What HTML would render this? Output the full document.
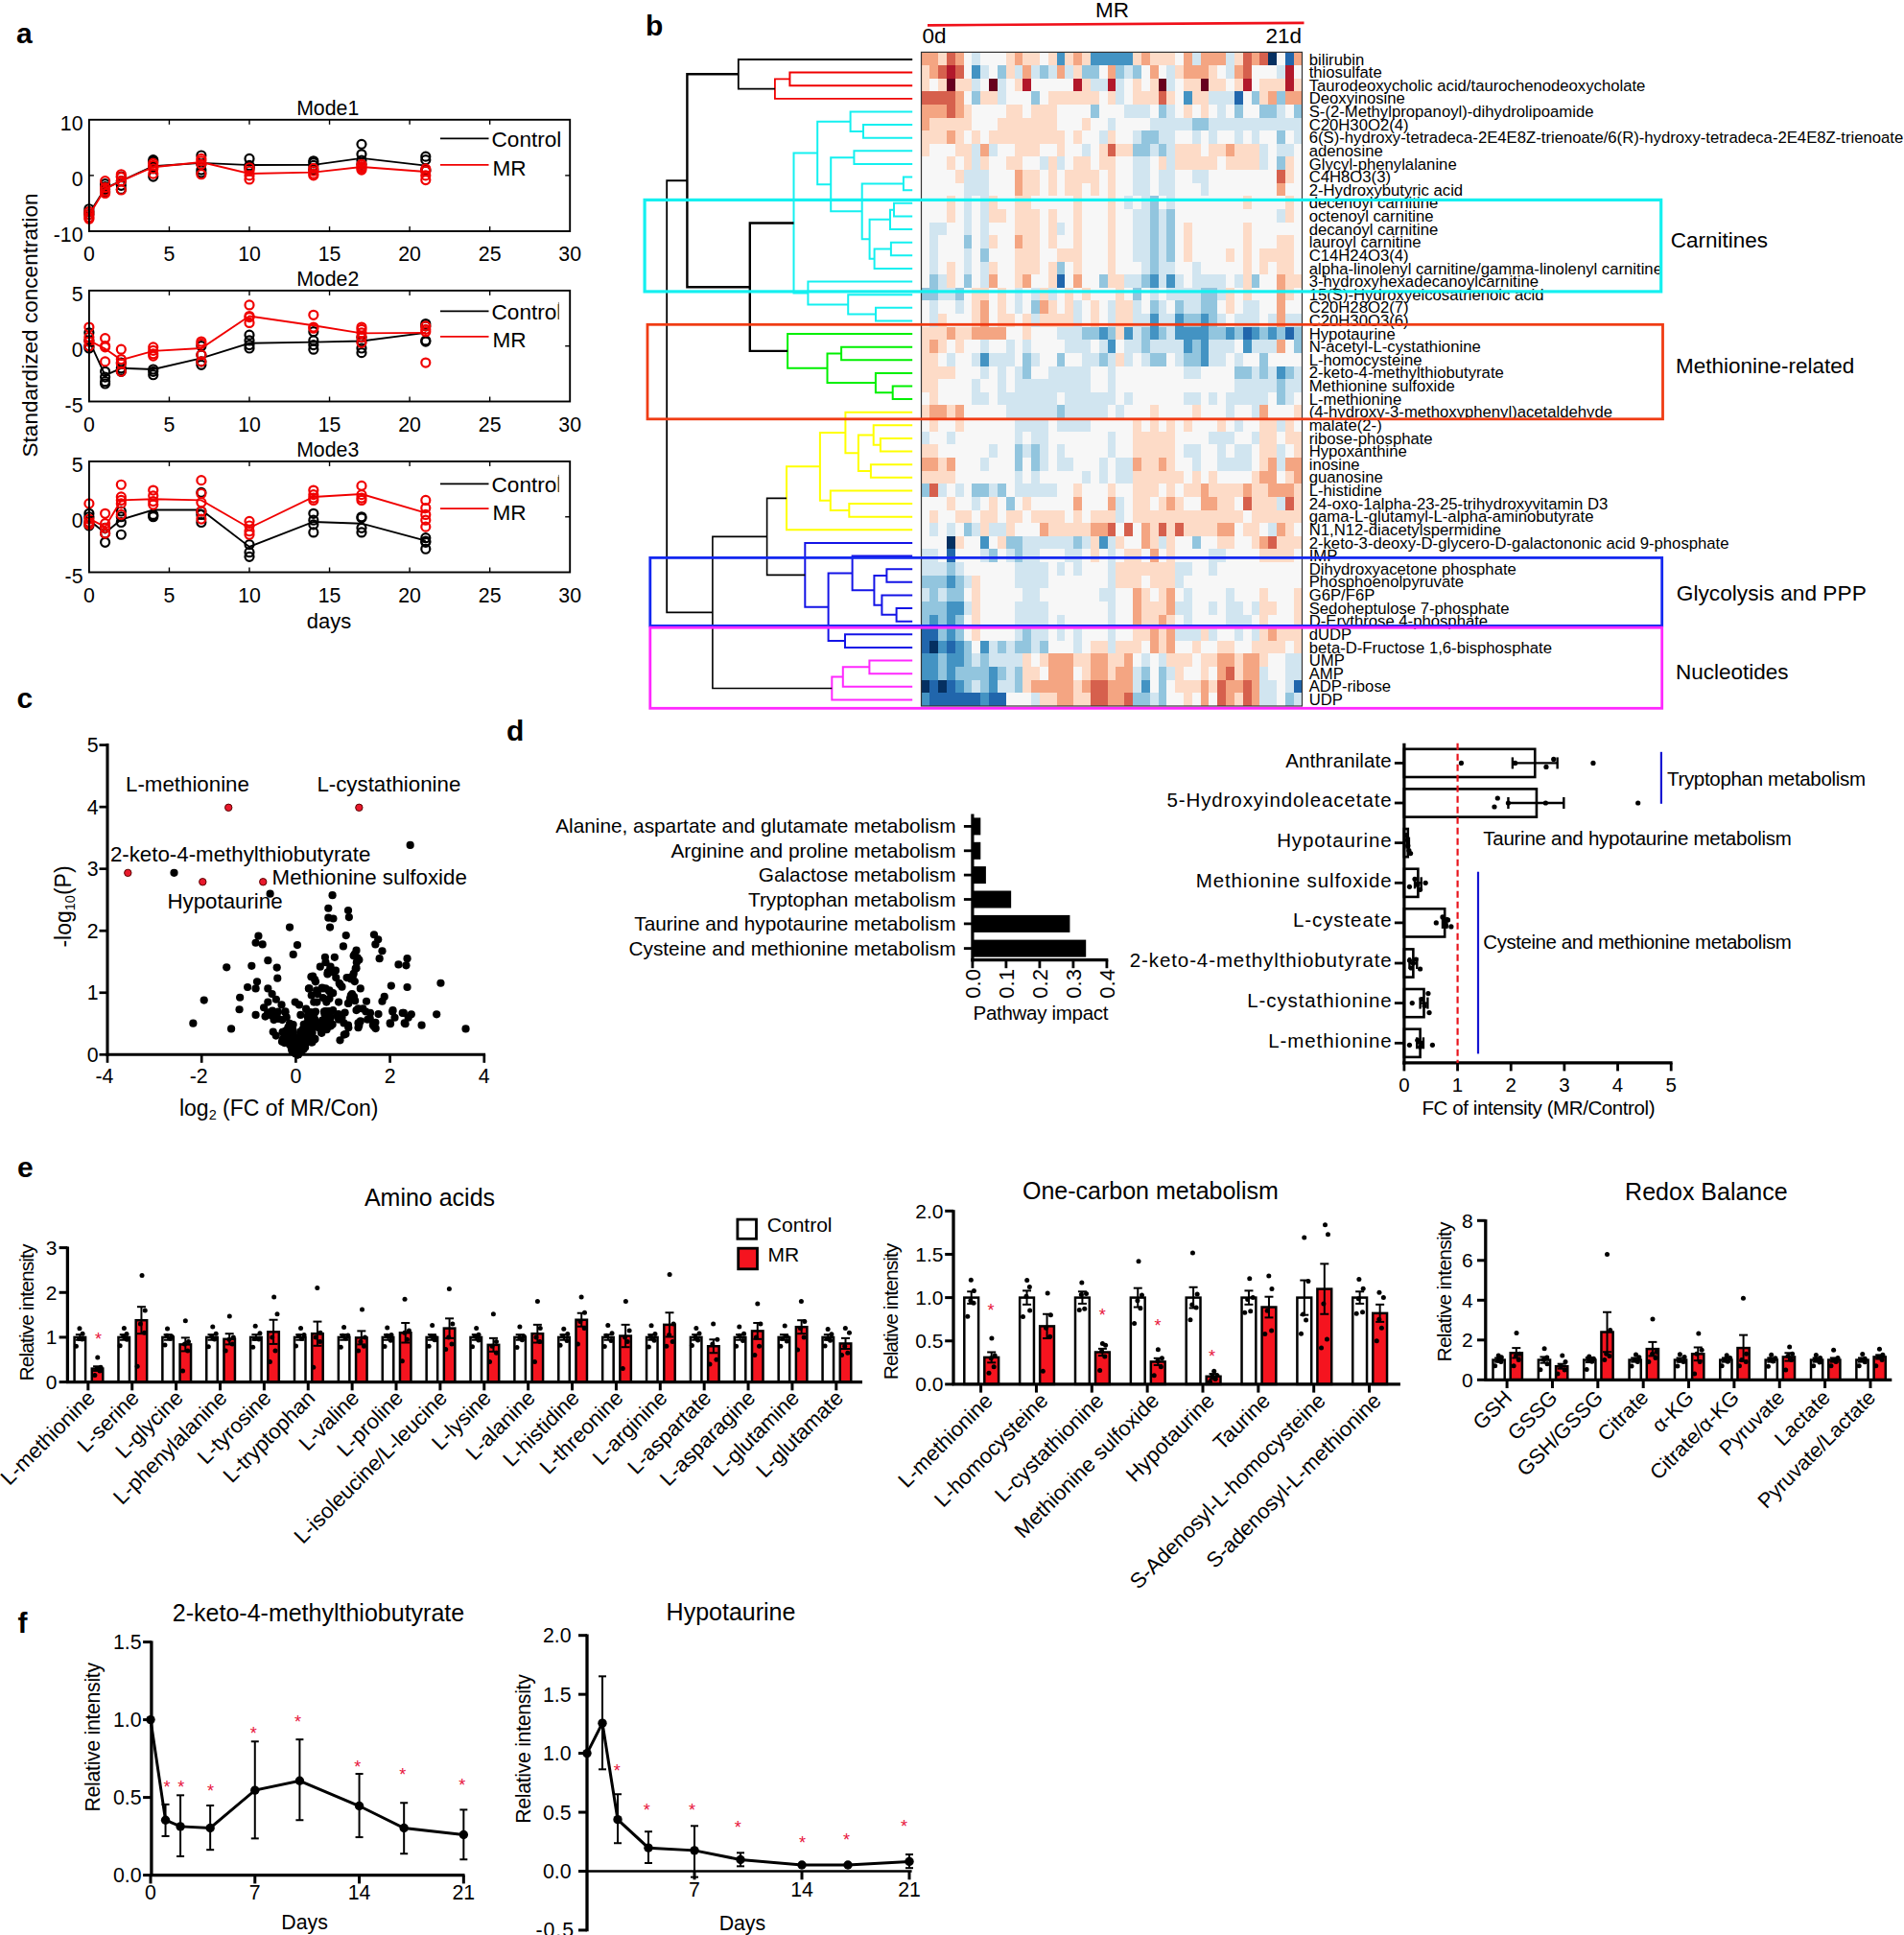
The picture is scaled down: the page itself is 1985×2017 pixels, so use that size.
<!DOCTYPE html>
<html lang="en"><head><meta charset="utf-8"><title>Figure</title>
<style>
html,body{margin:0;padding:0;background:#fff;}
body{width:1985px;height:2017px;overflow:hidden;}
svg{display:block;font-family:"Liberation Sans",Arial,sans-serif;}
</style></head><body>
<svg width="1985" height="2017" viewBox="0 0 1985 2017">
<rect x="0" y="0" width="1985" height="2017" fill="#fff"/>
<text x="17" y="45" font-size="30" text-anchor="start" fill="#000" font-weight="bold" >a</text>
<circle cx="92.9" cy="217.76" r="4.5" fill="none" stroke="#000" stroke-width="2.2"/>
<circle cx="92.9" cy="220.66" r="4.5" fill="none" stroke="#000" stroke-width="2.2"/>
<circle cx="92.9" cy="223.57" r="4.5" fill="none" stroke="#000" stroke-width="2.2"/>
<circle cx="109.61" cy="191.62" r="4.5" fill="none" stroke="#000" stroke-width="2.2"/>
<circle cx="109.61" cy="194.52" r="4.5" fill="none" stroke="#000" stroke-width="2.2"/>
<circle cx="109.61" cy="197.43" r="4.5" fill="none" stroke="#000" stroke-width="2.2"/>
<circle cx="109.61" cy="200.33" r="4.5" fill="none" stroke="#000" stroke-width="2.2"/>
<circle cx="126.32" cy="184.06" r="4.5" fill="none" stroke="#000" stroke-width="2.2"/>
<circle cx="126.32" cy="188.71" r="4.5" fill="none" stroke="#000" stroke-width="2.2"/>
<circle cx="126.32" cy="193.36" r="4.5" fill="none" stroke="#000" stroke-width="2.2"/>
<circle cx="126.32" cy="197.43" r="4.5" fill="none" stroke="#000" stroke-width="2.2"/>
<circle cx="159.74" cy="166.63" r="4.5" fill="none" stroke="#000" stroke-width="2.2"/>
<circle cx="159.74" cy="168.38" r="4.5" fill="none" stroke="#000" stroke-width="2.2"/>
<circle cx="159.74" cy="174.19" r="4.5" fill="none" stroke="#000" stroke-width="2.2"/>
<circle cx="159.74" cy="184.06" r="4.5" fill="none" stroke="#000" stroke-width="2.2"/>
<circle cx="209.87" cy="161.98" r="4.5" fill="none" stroke="#000" stroke-width="2.2"/>
<circle cx="209.87" cy="171.28" r="4.5" fill="none" stroke="#000" stroke-width="2.2"/>
<circle cx="209.87" cy="177.09" r="4.5" fill="none" stroke="#000" stroke-width="2.2"/>
<circle cx="209.87" cy="180" r="4.5" fill="none" stroke="#000" stroke-width="2.2"/>
<circle cx="260" cy="165.47" r="4.5" fill="none" stroke="#000" stroke-width="2.2"/>
<circle cx="260" cy="172.44" r="4.5" fill="none" stroke="#000" stroke-width="2.2"/>
<circle cx="260" cy="174.19" r="4.5" fill="none" stroke="#000" stroke-width="2.2"/>
<circle cx="260" cy="175.93" r="4.5" fill="none" stroke="#000" stroke-width="2.2"/>
<circle cx="326.84" cy="167.79" r="4.5" fill="none" stroke="#000" stroke-width="2.2"/>
<circle cx="326.84" cy="169.54" r="4.5" fill="none" stroke="#000" stroke-width="2.2"/>
<circle cx="326.84" cy="172.44" r="4.5" fill="none" stroke="#000" stroke-width="2.2"/>
<circle cx="326.84" cy="177.09" r="4.5" fill="none" stroke="#000" stroke-width="2.2"/>
<circle cx="376.97" cy="150.36" r="4.5" fill="none" stroke="#000" stroke-width="2.2"/>
<circle cx="376.97" cy="160.82" r="4.5" fill="none" stroke="#000" stroke-width="2.2"/>
<circle cx="376.97" cy="167.21" r="4.5" fill="none" stroke="#000" stroke-width="2.2"/>
<circle cx="376.97" cy="171.28" r="4.5" fill="none" stroke="#000" stroke-width="2.2"/>
<circle cx="443.81" cy="163.15" r="4.5" fill="none" stroke="#000" stroke-width="2.2"/>
<circle cx="443.81" cy="166.63" r="4.5" fill="none" stroke="#000" stroke-width="2.2"/>
<circle cx="443.81" cy="177.09" r="4.5" fill="none" stroke="#000" stroke-width="2.2"/>
<circle cx="443.81" cy="178.25" r="4.5" fill="none" stroke="#000" stroke-width="2.2"/>
<polyline points="92.9,222.64 109.61,196.26 126.32,188.71 159.74,173.2 209.87,169.83 260,172.04 326.84,171.86 376.97,164.89 443.81,172.62" fill="none" stroke="#000" stroke-width="1.9" />
<circle cx="92.9" cy="220.66" r="4.5" fill="none" stroke="#f00000" stroke-width="2.2"/>
<circle cx="92.9" cy="223.57" r="4.5" fill="none" stroke="#f00000" stroke-width="2.2"/>
<circle cx="92.9" cy="226.47" r="4.5" fill="none" stroke="#f00000" stroke-width="2.2"/>
<circle cx="92.9" cy="228.22" r="4.5" fill="none" stroke="#f00000" stroke-width="2.2"/>
<circle cx="109.61" cy="188.71" r="4.5" fill="none" stroke="#f00000" stroke-width="2.2"/>
<circle cx="109.61" cy="195.68" r="4.5" fill="none" stroke="#f00000" stroke-width="2.2"/>
<circle cx="109.61" cy="199.17" r="4.5" fill="none" stroke="#f00000" stroke-width="2.2"/>
<circle cx="109.61" cy="201.49" r="4.5" fill="none" stroke="#f00000" stroke-width="2.2"/>
<circle cx="126.32" cy="181.74" r="4.5" fill="none" stroke="#f00000" stroke-width="2.2"/>
<circle cx="126.32" cy="184.64" r="4.5" fill="none" stroke="#f00000" stroke-width="2.2"/>
<circle cx="126.32" cy="188.71" r="4.5" fill="none" stroke="#f00000" stroke-width="2.2"/>
<circle cx="126.32" cy="198.01" r="4.5" fill="none" stroke="#f00000" stroke-width="2.2"/>
<circle cx="159.74" cy="170.12" r="4.5" fill="none" stroke="#f00000" stroke-width="2.2"/>
<circle cx="159.74" cy="172.44" r="4.5" fill="none" stroke="#f00000" stroke-width="2.2"/>
<circle cx="159.74" cy="175.93" r="4.5" fill="none" stroke="#f00000" stroke-width="2.2"/>
<circle cx="159.74" cy="181.16" r="4.5" fill="none" stroke="#f00000" stroke-width="2.2"/>
<circle cx="209.87" cy="165.47" r="4.5" fill="none" stroke="#f00000" stroke-width="2.2"/>
<circle cx="209.87" cy="167.79" r="4.5" fill="none" stroke="#f00000" stroke-width="2.2"/>
<circle cx="209.87" cy="171.28" r="4.5" fill="none" stroke="#f00000" stroke-width="2.2"/>
<circle cx="209.87" cy="181.74" r="4.5" fill="none" stroke="#f00000" stroke-width="2.2"/>
<circle cx="260" cy="174.77" r="4.5" fill="none" stroke="#f00000" stroke-width="2.2"/>
<circle cx="260" cy="178.25" r="4.5" fill="none" stroke="#f00000" stroke-width="2.2"/>
<circle cx="260" cy="182.9" r="4.5" fill="none" stroke="#f00000" stroke-width="2.2"/>
<circle cx="260" cy="186.97" r="4.5" fill="none" stroke="#f00000" stroke-width="2.2"/>
<circle cx="326.84" cy="175.35" r="4.5" fill="none" stroke="#f00000" stroke-width="2.2"/>
<circle cx="326.84" cy="178.25" r="4.5" fill="none" stroke="#f00000" stroke-width="2.2"/>
<circle cx="326.84" cy="181.16" r="4.5" fill="none" stroke="#f00000" stroke-width="2.2"/>
<circle cx="326.84" cy="182.9" r="4.5" fill="none" stroke="#f00000" stroke-width="2.2"/>
<circle cx="376.97" cy="171.28" r="4.5" fill="none" stroke="#f00000" stroke-width="2.2"/>
<circle cx="376.97" cy="173.6" r="4.5" fill="none" stroke="#f00000" stroke-width="2.2"/>
<circle cx="376.97" cy="175.35" r="4.5" fill="none" stroke="#f00000" stroke-width="2.2"/>
<circle cx="376.97" cy="177.09" r="4.5" fill="none" stroke="#f00000" stroke-width="2.2"/>
<circle cx="443.81" cy="175.93" r="4.5" fill="none" stroke="#f00000" stroke-width="2.2"/>
<circle cx="443.81" cy="178.25" r="4.5" fill="none" stroke="#f00000" stroke-width="2.2"/>
<circle cx="443.81" cy="182.9" r="4.5" fill="none" stroke="#f00000" stroke-width="2.2"/>
<circle cx="443.81" cy="187.55" r="4.5" fill="none" stroke="#f00000" stroke-width="2.2"/>
<polyline points="92.9,224.15 109.61,196.84 126.32,188.71 159.74,174.19 209.87,168.96 260,180.98 326.84,179.59 376.97,174.01 443.81,179.01" fill="none" stroke="#f00000" stroke-width="1.9" />
<rect x="92.9" y="124.8" width="501.3" height="116.2" fill="none" stroke="#000" stroke-width="1.9" />
<line x1="176.45" y1="241" x2="176.45" y2="236" stroke="#000" stroke-width="1.4" />
<line x1="176.45" y1="124.8" x2="176.45" y2="129.8" stroke="#000" stroke-width="1.4" />
<line x1="260" y1="241" x2="260" y2="236" stroke="#000" stroke-width="1.4" />
<line x1="260" y1="124.8" x2="260" y2="129.8" stroke="#000" stroke-width="1.4" />
<line x1="343.55" y1="241" x2="343.55" y2="236" stroke="#000" stroke-width="1.4" />
<line x1="343.55" y1="124.8" x2="343.55" y2="129.8" stroke="#000" stroke-width="1.4" />
<line x1="427.1" y1="241" x2="427.1" y2="236" stroke="#000" stroke-width="1.4" />
<line x1="427.1" y1="124.8" x2="427.1" y2="129.8" stroke="#000" stroke-width="1.4" />
<line x1="510.65" y1="241" x2="510.65" y2="236" stroke="#000" stroke-width="1.4" />
<line x1="510.65" y1="124.8" x2="510.65" y2="129.8" stroke="#000" stroke-width="1.4" />
<line x1="92.9" y1="182.9" x2="97.9" y2="182.9" stroke="#000" stroke-width="1.4" />
<line x1="594.2" y1="182.9" x2="589.2" y2="182.9" stroke="#000" stroke-width="1.4" />
<text x="92.9" y="272.3" font-size="21.3" text-anchor="middle" fill="#000" >0</text>
<text x="176.45" y="272.3" font-size="21.3" text-anchor="middle" fill="#000" >5</text>
<text x="260" y="272.3" font-size="21.3" text-anchor="middle" fill="#000" >10</text>
<text x="343.55" y="272.3" font-size="21.3" text-anchor="middle" fill="#000" >15</text>
<text x="427.1" y="272.3" font-size="21.3" text-anchor="middle" fill="#000" >20</text>
<text x="510.65" y="272.3" font-size="21.3" text-anchor="middle" fill="#000" >25</text>
<text x="594.2" y="272.3" font-size="21.3" text-anchor="middle" fill="#000" >30</text>
<text x="86.5" y="136.1" font-size="21.3" text-anchor="end" fill="#000" >10</text>
<text x="86.5" y="194.2" font-size="21.3" text-anchor="end" fill="#000" >0</text>
<text x="86.5" y="252.3" font-size="21.3" text-anchor="end" fill="#000" >-10</text>
<text x="341.7" y="120" font-size="21.3" text-anchor="middle" fill="#000" >Mode1</text>
<line x1="459" y1="144.4" x2="509.5" y2="144.4" stroke="#000" stroke-width="1.8" />
<text x="512.5" y="152.7" font-size="22.6" text-anchor="start" fill="#000" >Control</text>
<line x1="459" y1="171.8" x2="509.5" y2="171.8" stroke="#f00000" stroke-width="1.8" />
<text x="513.5" y="183.1" font-size="22.6" text-anchor="start" fill="#000" >MR</text>
<circle cx="92.9" cy="346.83" r="4.5" fill="none" stroke="#000" stroke-width="2.2"/>
<circle cx="92.9" cy="354.92" r="4.5" fill="none" stroke="#000" stroke-width="2.2"/>
<circle cx="92.9" cy="360.7" r="4.5" fill="none" stroke="#000" stroke-width="2.2"/>
<circle cx="92.9" cy="363.01" r="4.5" fill="none" stroke="#000" stroke-width="2.2"/>
<circle cx="109.61" cy="387.29" r="4.5" fill="none" stroke="#000" stroke-width="2.2"/>
<circle cx="109.61" cy="393.07" r="4.5" fill="none" stroke="#000" stroke-width="2.2"/>
<circle cx="109.61" cy="397.69" r="4.5" fill="none" stroke="#000" stroke-width="2.2"/>
<circle cx="109.61" cy="400" r="4.5" fill="none" stroke="#000" stroke-width="2.2"/>
<circle cx="126.32" cy="378.04" r="4.5" fill="none" stroke="#000" stroke-width="2.2"/>
<circle cx="126.32" cy="383.82" r="4.5" fill="none" stroke="#000" stroke-width="2.2"/>
<circle cx="126.32" cy="386.13" r="4.5" fill="none" stroke="#000" stroke-width="2.2"/>
<circle cx="126.32" cy="387.29" r="4.5" fill="none" stroke="#000" stroke-width="2.2"/>
<circle cx="159.74" cy="384.98" r="4.5" fill="none" stroke="#000" stroke-width="2.2"/>
<circle cx="159.74" cy="387.29" r="4.5" fill="none" stroke="#000" stroke-width="2.2"/>
<circle cx="159.74" cy="390.76" r="4.5" fill="none" stroke="#000" stroke-width="2.2"/>
<circle cx="209.87" cy="360.7" r="4.5" fill="none" stroke="#000" stroke-width="2.2"/>
<circle cx="209.87" cy="369.95" r="4.5" fill="none" stroke="#000" stroke-width="2.2"/>
<circle cx="209.87" cy="376.88" r="4.5" fill="none" stroke="#000" stroke-width="2.2"/>
<circle cx="209.87" cy="380.35" r="4.5" fill="none" stroke="#000" stroke-width="2.2"/>
<circle cx="260" cy="349.14" r="4.5" fill="none" stroke="#000" stroke-width="2.2"/>
<circle cx="260" cy="354.92" r="4.5" fill="none" stroke="#000" stroke-width="2.2"/>
<circle cx="260" cy="359.54" r="4.5" fill="none" stroke="#000" stroke-width="2.2"/>
<circle cx="260" cy="363.01" r="4.5" fill="none" stroke="#000" stroke-width="2.2"/>
<circle cx="326.84" cy="345.67" r="4.5" fill="none" stroke="#000" stroke-width="2.2"/>
<circle cx="326.84" cy="354.92" r="4.5" fill="none" stroke="#000" stroke-width="2.2"/>
<circle cx="326.84" cy="359.54" r="4.5" fill="none" stroke="#000" stroke-width="2.2"/>
<circle cx="326.84" cy="364.17" r="4.5" fill="none" stroke="#000" stroke-width="2.2"/>
<circle cx="376.97" cy="351.45" r="4.5" fill="none" stroke="#000" stroke-width="2.2"/>
<circle cx="376.97" cy="356.08" r="4.5" fill="none" stroke="#000" stroke-width="2.2"/>
<circle cx="376.97" cy="363.01" r="4.5" fill="none" stroke="#000" stroke-width="2.2"/>
<circle cx="376.97" cy="367.64" r="4.5" fill="none" stroke="#000" stroke-width="2.2"/>
<circle cx="443.81" cy="337.58" r="4.5" fill="none" stroke="#000" stroke-width="2.2"/>
<circle cx="443.81" cy="339.89" r="4.5" fill="none" stroke="#000" stroke-width="2.2"/>
<circle cx="443.81" cy="354.92" r="4.5" fill="none" stroke="#000" stroke-width="2.2"/>
<circle cx="443.81" cy="356.08" r="4.5" fill="none" stroke="#000" stroke-width="2.2"/>
<polyline points="92.9,354.92 109.61,391.33 126.32,383.82 159.74,384.98 209.87,373.42 260,357.81 326.84,356.65 376.97,355.5 443.81,346.83" fill="none" stroke="#000" stroke-width="1.9" />
<circle cx="92.9" cy="341.05" r="4.5" fill="none" stroke="#f00000" stroke-width="2.2"/>
<circle cx="92.9" cy="351.45" r="4.5" fill="none" stroke="#f00000" stroke-width="2.2"/>
<circle cx="92.9" cy="356.08" r="4.5" fill="none" stroke="#f00000" stroke-width="2.2"/>
<circle cx="92.9" cy="360.7" r="4.5" fill="none" stroke="#f00000" stroke-width="2.2"/>
<circle cx="109.61" cy="352.61" r="4.5" fill="none" stroke="#f00000" stroke-width="2.2"/>
<circle cx="109.61" cy="360.7" r="4.5" fill="none" stroke="#f00000" stroke-width="2.2"/>
<circle cx="109.61" cy="361.86" r="4.5" fill="none" stroke="#f00000" stroke-width="2.2"/>
<circle cx="109.61" cy="376.88" r="4.5" fill="none" stroke="#f00000" stroke-width="2.2"/>
<circle cx="126.32" cy="364.17" r="4.5" fill="none" stroke="#f00000" stroke-width="2.2"/>
<circle cx="126.32" cy="374.57" r="4.5" fill="none" stroke="#f00000" stroke-width="2.2"/>
<circle cx="126.32" cy="379.2" r="4.5" fill="none" stroke="#f00000" stroke-width="2.2"/>
<circle cx="126.32" cy="387.29" r="4.5" fill="none" stroke="#f00000" stroke-width="2.2"/>
<circle cx="159.74" cy="361.86" r="4.5" fill="none" stroke="#f00000" stroke-width="2.2"/>
<circle cx="159.74" cy="365.32" r="4.5" fill="none" stroke="#f00000" stroke-width="2.2"/>
<circle cx="159.74" cy="368.79" r="4.5" fill="none" stroke="#f00000" stroke-width="2.2"/>
<circle cx="159.74" cy="371.1" r="4.5" fill="none" stroke="#f00000" stroke-width="2.2"/>
<circle cx="209.87" cy="356.08" r="4.5" fill="none" stroke="#f00000" stroke-width="2.2"/>
<circle cx="209.87" cy="358.39" r="4.5" fill="none" stroke="#f00000" stroke-width="2.2"/>
<circle cx="209.87" cy="369.95" r="4.5" fill="none" stroke="#f00000" stroke-width="2.2"/>
<circle cx="209.87" cy="376.88" r="4.5" fill="none" stroke="#f00000" stroke-width="2.2"/>
<circle cx="260" cy="317.93" r="4.5" fill="none" stroke="#f00000" stroke-width="2.2"/>
<circle cx="260" cy="329.49" r="4.5" fill="none" stroke="#f00000" stroke-width="2.2"/>
<circle cx="260" cy="330.64" r="4.5" fill="none" stroke="#f00000" stroke-width="2.2"/>
<circle cx="260" cy="336.42" r="4.5" fill="none" stroke="#f00000" stroke-width="2.2"/>
<circle cx="326.84" cy="328.33" r="4.5" fill="none" stroke="#f00000" stroke-width="2.2"/>
<circle cx="326.84" cy="341.05" r="4.5" fill="none" stroke="#f00000" stroke-width="2.2"/>
<circle cx="326.84" cy="342.2" r="4.5" fill="none" stroke="#f00000" stroke-width="2.2"/>
<circle cx="376.97" cy="341.05" r="4.5" fill="none" stroke="#f00000" stroke-width="2.2"/>
<circle cx="376.97" cy="343.36" r="4.5" fill="none" stroke="#f00000" stroke-width="2.2"/>
<circle cx="376.97" cy="346.83" r="4.5" fill="none" stroke="#f00000" stroke-width="2.2"/>
<circle cx="376.97" cy="351.45" r="4.5" fill="none" stroke="#f00000" stroke-width="2.2"/>
<circle cx="376.97" cy="357.23" r="4.5" fill="none" stroke="#f00000" stroke-width="2.2"/>
<circle cx="443.81" cy="339.89" r="4.5" fill="none" stroke="#f00000" stroke-width="2.2"/>
<circle cx="443.81" cy="343.36" r="4.5" fill="none" stroke="#f00000" stroke-width="2.2"/>
<circle cx="443.81" cy="345.67" r="4.5" fill="none" stroke="#f00000" stroke-width="2.2"/>
<circle cx="443.81" cy="378.04" r="4.5" fill="none" stroke="#f00000" stroke-width="2.2"/>
<polyline points="92.9,354.92 109.61,363.59 126.32,375.15 159.74,365.9 209.87,363.01 260,329.49 326.84,339.31 376.97,347.41 443.81,346.83" fill="none" stroke="#f00000" stroke-width="1.9" />
<rect x="92.9" y="302.9" width="501.3" height="115.6" fill="none" stroke="#000" stroke-width="1.9" />
<line x1="176.45" y1="418.5" x2="176.45" y2="413.5" stroke="#000" stroke-width="1.4" />
<line x1="176.45" y1="302.9" x2="176.45" y2="307.9" stroke="#000" stroke-width="1.4" />
<line x1="260" y1="418.5" x2="260" y2="413.5" stroke="#000" stroke-width="1.4" />
<line x1="260" y1="302.9" x2="260" y2="307.9" stroke="#000" stroke-width="1.4" />
<line x1="343.55" y1="418.5" x2="343.55" y2="413.5" stroke="#000" stroke-width="1.4" />
<line x1="343.55" y1="302.9" x2="343.55" y2="307.9" stroke="#000" stroke-width="1.4" />
<line x1="427.1" y1="418.5" x2="427.1" y2="413.5" stroke="#000" stroke-width="1.4" />
<line x1="427.1" y1="302.9" x2="427.1" y2="307.9" stroke="#000" stroke-width="1.4" />
<line x1="510.65" y1="418.5" x2="510.65" y2="413.5" stroke="#000" stroke-width="1.4" />
<line x1="510.65" y1="302.9" x2="510.65" y2="307.9" stroke="#000" stroke-width="1.4" />
<line x1="92.9" y1="360.7" x2="97.9" y2="360.7" stroke="#000" stroke-width="1.4" />
<line x1="594.2" y1="360.7" x2="589.2" y2="360.7" stroke="#000" stroke-width="1.4" />
<text x="92.9" y="449.8" font-size="21.3" text-anchor="middle" fill="#000" >0</text>
<text x="176.45" y="449.8" font-size="21.3" text-anchor="middle" fill="#000" >5</text>
<text x="260" y="449.8" font-size="21.3" text-anchor="middle" fill="#000" >10</text>
<text x="343.55" y="449.8" font-size="21.3" text-anchor="middle" fill="#000" >15</text>
<text x="427.1" y="449.8" font-size="21.3" text-anchor="middle" fill="#000" >20</text>
<text x="510.65" y="449.8" font-size="21.3" text-anchor="middle" fill="#000" >25</text>
<text x="594.2" y="449.8" font-size="21.3" text-anchor="middle" fill="#000" >30</text>
<text x="86.5" y="314.2" font-size="21.3" text-anchor="end" fill="#000" >5</text>
<text x="86.5" y="372" font-size="21.3" text-anchor="end" fill="#000" >0</text>
<text x="86.5" y="429.8" font-size="21.3" text-anchor="end" fill="#000" >-5</text>
<text x="341.7" y="298.1" font-size="21.3" text-anchor="middle" fill="#000" >Mode2</text>
<line x1="459" y1="324.4" x2="509.5" y2="324.4" stroke="#000" stroke-width="1.8" />
<text x="512.5" y="332.7" font-size="22.6" text-anchor="start" fill="#000" >Control</text>
<line x1="459" y1="350.8" x2="509.5" y2="350.8" stroke="#f00000" stroke-width="1.8" />
<text x="513.5" y="362.1" font-size="22.6" text-anchor="start" fill="#000" >MR</text>
<rect x="582.9" y="312.4" width="8" height="24" fill="#fff" stroke="none" stroke-width="1" />
<line x1="582.4" y1="314.9" x2="582.4" y2="332.9" stroke="#666" stroke-width="0.8" />
<circle cx="92.9" cy="535.28" r="4.5" fill="none" stroke="#000" stroke-width="2.2"/>
<circle cx="92.9" cy="538.75" r="4.5" fill="none" stroke="#000" stroke-width="2.2"/>
<circle cx="92.9" cy="544.52" r="4.5" fill="none" stroke="#000" stroke-width="2.2"/>
<circle cx="92.9" cy="547.99" r="4.5" fill="none" stroke="#000" stroke-width="2.2"/>
<circle cx="109.61" cy="550.3" r="4.5" fill="none" stroke="#000" stroke-width="2.2"/>
<circle cx="109.61" cy="556.08" r="4.5" fill="none" stroke="#000" stroke-width="2.2"/>
<circle cx="109.61" cy="565.32" r="4.5" fill="none" stroke="#000" stroke-width="2.2"/>
<circle cx="126.32" cy="532.98" r="4.5" fill="none" stroke="#000" stroke-width="2.2"/>
<circle cx="126.32" cy="538.75" r="4.5" fill="none" stroke="#000" stroke-width="2.2"/>
<circle cx="126.32" cy="544.52" r="4.5" fill="none" stroke="#000" stroke-width="2.2"/>
<circle cx="126.32" cy="557.23" r="4.5" fill="none" stroke="#000" stroke-width="2.2"/>
<circle cx="159.74" cy="536.44" r="4.5" fill="none" stroke="#000" stroke-width="2.2"/>
<circle cx="159.74" cy="538.75" r="4.5" fill="none" stroke="#000" stroke-width="2.2"/>
<circle cx="159.74" cy="537.6" r="4.5" fill="none" stroke="#000" stroke-width="2.2"/>
<circle cx="209.87" cy="513.34" r="4.5" fill="none" stroke="#000" stroke-width="2.2"/>
<circle cx="209.87" cy="532.98" r="4.5" fill="none" stroke="#000" stroke-width="2.2"/>
<circle cx="209.87" cy="536.44" r="4.5" fill="none" stroke="#000" stroke-width="2.2"/>
<circle cx="209.87" cy="544.52" r="4.5" fill="none" stroke="#000" stroke-width="2.2"/>
<circle cx="260" cy="567.62" r="4.5" fill="none" stroke="#000" stroke-width="2.2"/>
<circle cx="260" cy="575.71" r="4.5" fill="none" stroke="#000" stroke-width="2.2"/>
<circle cx="260" cy="580.33" r="4.5" fill="none" stroke="#000" stroke-width="2.2"/>
<circle cx="326.84" cy="535.28" r="4.5" fill="none" stroke="#000" stroke-width="2.2"/>
<circle cx="326.84" cy="542.22" r="4.5" fill="none" stroke="#000" stroke-width="2.2"/>
<circle cx="326.84" cy="546.84" r="4.5" fill="none" stroke="#000" stroke-width="2.2"/>
<circle cx="326.84" cy="554.92" r="4.5" fill="none" stroke="#000" stroke-width="2.2"/>
<circle cx="376.97" cy="538.75" r="4.5" fill="none" stroke="#000" stroke-width="2.2"/>
<circle cx="376.97" cy="539.9" r="4.5" fill="none" stroke="#000" stroke-width="2.2"/>
<circle cx="376.97" cy="550.3" r="4.5" fill="none" stroke="#000" stroke-width="2.2"/>
<circle cx="376.97" cy="554.92" r="4.5" fill="none" stroke="#000" stroke-width="2.2"/>
<circle cx="443.81" cy="560.7" r="4.5" fill="none" stroke="#000" stroke-width="2.2"/>
<circle cx="443.81" cy="564.16" r="4.5" fill="none" stroke="#000" stroke-width="2.2"/>
<circle cx="443.81" cy="565.32" r="4.5" fill="none" stroke="#000" stroke-width="2.2"/>
<circle cx="443.81" cy="572.25" r="4.5" fill="none" stroke="#000" stroke-width="2.2"/>
<polyline points="92.9,542.22 109.61,555.5 126.32,541.64 159.74,531.47 209.87,531.47 260,569.93 326.84,543.95 376.97,545.68 443.81,563.58" fill="none" stroke="#000" stroke-width="1.9" />
<circle cx="92.9" cy="524.89" r="4.5" fill="none" stroke="#f00000" stroke-width="2.2"/>
<circle cx="92.9" cy="541.06" r="4.5" fill="none" stroke="#f00000" stroke-width="2.2"/>
<circle cx="92.9" cy="544.52" r="4.5" fill="none" stroke="#f00000" stroke-width="2.2"/>
<circle cx="92.9" cy="546.84" r="4.5" fill="none" stroke="#f00000" stroke-width="2.2"/>
<circle cx="109.61" cy="535.28" r="4.5" fill="none" stroke="#f00000" stroke-width="2.2"/>
<circle cx="109.61" cy="545.68" r="4.5" fill="none" stroke="#f00000" stroke-width="2.2"/>
<circle cx="109.61" cy="550.3" r="4.5" fill="none" stroke="#f00000" stroke-width="2.2"/>
<circle cx="109.61" cy="556.08" r="4.5" fill="none" stroke="#f00000" stroke-width="2.2"/>
<circle cx="126.32" cy="505.25" r="4.5" fill="none" stroke="#f00000" stroke-width="2.2"/>
<circle cx="126.32" cy="517.96" r="4.5" fill="none" stroke="#f00000" stroke-width="2.2"/>
<circle cx="126.32" cy="521.42" r="4.5" fill="none" stroke="#f00000" stroke-width="2.2"/>
<circle cx="126.32" cy="524.89" r="4.5" fill="none" stroke="#f00000" stroke-width="2.2"/>
<circle cx="126.32" cy="536.44" r="4.5" fill="none" stroke="#f00000" stroke-width="2.2"/>
<circle cx="159.74" cy="511.03" r="4.5" fill="none" stroke="#f00000" stroke-width="2.2"/>
<circle cx="159.74" cy="516.8" r="4.5" fill="none" stroke="#f00000" stroke-width="2.2"/>
<circle cx="159.74" cy="522.58" r="4.5" fill="none" stroke="#f00000" stroke-width="2.2"/>
<circle cx="159.74" cy="526.04" r="4.5" fill="none" stroke="#f00000" stroke-width="2.2"/>
<circle cx="209.87" cy="500.63" r="4.5" fill="none" stroke="#f00000" stroke-width="2.2"/>
<circle cx="209.87" cy="514.5" r="4.5" fill="none" stroke="#f00000" stroke-width="2.2"/>
<circle cx="209.87" cy="523.74" r="4.5" fill="none" stroke="#f00000" stroke-width="2.2"/>
<circle cx="209.87" cy="532.98" r="4.5" fill="none" stroke="#f00000" stroke-width="2.2"/>
<circle cx="209.87" cy="541.06" r="4.5" fill="none" stroke="#f00000" stroke-width="2.2"/>
<circle cx="260" cy="543.37" r="4.5" fill="none" stroke="#f00000" stroke-width="2.2"/>
<circle cx="260" cy="547.99" r="4.5" fill="none" stroke="#f00000" stroke-width="2.2"/>
<circle cx="260" cy="553.76" r="4.5" fill="none" stroke="#f00000" stroke-width="2.2"/>
<circle cx="260" cy="557.23" r="4.5" fill="none" stroke="#f00000" stroke-width="2.2"/>
<circle cx="326.84" cy="511.03" r="4.5" fill="none" stroke="#f00000" stroke-width="2.2"/>
<circle cx="326.84" cy="515.65" r="4.5" fill="none" stroke="#f00000" stroke-width="2.2"/>
<circle cx="326.84" cy="519.12" r="4.5" fill="none" stroke="#f00000" stroke-width="2.2"/>
<circle cx="326.84" cy="521.42" r="4.5" fill="none" stroke="#f00000" stroke-width="2.2"/>
<circle cx="376.97" cy="506.41" r="4.5" fill="none" stroke="#f00000" stroke-width="2.2"/>
<circle cx="376.97" cy="515.65" r="4.5" fill="none" stroke="#f00000" stroke-width="2.2"/>
<circle cx="376.97" cy="519.12" r="4.5" fill="none" stroke="#f00000" stroke-width="2.2"/>
<circle cx="376.97" cy="521.42" r="4.5" fill="none" stroke="#f00000" stroke-width="2.2"/>
<circle cx="443.81" cy="521.42" r="4.5" fill="none" stroke="#f00000" stroke-width="2.2"/>
<circle cx="443.81" cy="529.51" r="4.5" fill="none" stroke="#f00000" stroke-width="2.2"/>
<circle cx="443.81" cy="536.44" r="4.5" fill="none" stroke="#f00000" stroke-width="2.2"/>
<circle cx="443.81" cy="542.22" r="4.5" fill="none" stroke="#f00000" stroke-width="2.2"/>
<circle cx="443.81" cy="549.14" r="4.5" fill="none" stroke="#f00000" stroke-width="2.2"/>
<polyline points="92.9,540.71 109.61,549.14 126.32,521.42 159.74,520.27 209.87,521.42 260,550.3 326.84,517.96 376.97,515.07 443.81,534.59" fill="none" stroke="#f00000" stroke-width="1.9" />
<rect x="92.9" y="481" width="501.3" height="115.5" fill="none" stroke="#000" stroke-width="1.9" />
<line x1="176.45" y1="596.5" x2="176.45" y2="591.5" stroke="#000" stroke-width="1.4" />
<line x1="176.45" y1="481" x2="176.45" y2="486" stroke="#000" stroke-width="1.4" />
<line x1="260" y1="596.5" x2="260" y2="591.5" stroke="#000" stroke-width="1.4" />
<line x1="260" y1="481" x2="260" y2="486" stroke="#000" stroke-width="1.4" />
<line x1="343.55" y1="596.5" x2="343.55" y2="591.5" stroke="#000" stroke-width="1.4" />
<line x1="343.55" y1="481" x2="343.55" y2="486" stroke="#000" stroke-width="1.4" />
<line x1="427.1" y1="596.5" x2="427.1" y2="591.5" stroke="#000" stroke-width="1.4" />
<line x1="427.1" y1="481" x2="427.1" y2="486" stroke="#000" stroke-width="1.4" />
<line x1="510.65" y1="596.5" x2="510.65" y2="591.5" stroke="#000" stroke-width="1.4" />
<line x1="510.65" y1="481" x2="510.65" y2="486" stroke="#000" stroke-width="1.4" />
<line x1="92.9" y1="538.75" x2="97.9" y2="538.75" stroke="#000" stroke-width="1.4" />
<line x1="594.2" y1="538.75" x2="589.2" y2="538.75" stroke="#000" stroke-width="1.4" />
<text x="92.9" y="627.8" font-size="21.3" text-anchor="middle" fill="#000" >0</text>
<text x="176.45" y="627.8" font-size="21.3" text-anchor="middle" fill="#000" >5</text>
<text x="260" y="627.8" font-size="21.3" text-anchor="middle" fill="#000" >10</text>
<text x="343.55" y="627.8" font-size="21.3" text-anchor="middle" fill="#000" >15</text>
<text x="427.1" y="627.8" font-size="21.3" text-anchor="middle" fill="#000" >20</text>
<text x="510.65" y="627.8" font-size="21.3" text-anchor="middle" fill="#000" >25</text>
<text x="594.2" y="627.8" font-size="21.3" text-anchor="middle" fill="#000" >30</text>
<text x="86.5" y="492.3" font-size="21.3" text-anchor="end" fill="#000" >5</text>
<text x="86.5" y="550.05" font-size="21.3" text-anchor="end" fill="#000" >0</text>
<text x="86.5" y="607.8" font-size="21.3" text-anchor="end" fill="#000" >-5</text>
<text x="341.7" y="476.2" font-size="21.3" text-anchor="middle" fill="#000" >Mode3</text>
<line x1="459" y1="504.4" x2="509.5" y2="504.4" stroke="#000" stroke-width="1.8" />
<text x="512.5" y="512.7" font-size="22.6" text-anchor="start" fill="#000" >Control</text>
<line x1="459" y1="530.2" x2="509.5" y2="530.2" stroke="#f00000" stroke-width="1.8" />
<text x="513.5" y="541.5" font-size="22.6" text-anchor="start" fill="#000" >MR</text>
<rect x="582.9" y="492.4" width="8" height="24" fill="#fff" stroke="none" stroke-width="1" />
<line x1="582.4" y1="494.9" x2="582.4" y2="512.9" stroke="#666" stroke-width="0.8" />
<text x="38.6" y="339" font-size="22.6" text-anchor="middle" fill="#000" transform="rotate(-90 38.6 339)" >Standardized concentration</text>
<text x="343" y="654.9" font-size="22" text-anchor="middle" fill="#000" >days</text>
<text x="673" y="36.8" font-size="30" text-anchor="start" fill="#000" font-weight="bold" >b</text>
<g shape-rendering="crispEdges">
<rect x="960.5" y="54.4" width="17.94" height="13.93" fill="#f4a582" stroke="none" stroke-width="1" />
<rect x="978.14" y="54.4" width="9.12" height="13.93" fill="#fddbc7" stroke="none" stroke-width="1" />
<rect x="986.97" y="54.4" width="9.12" height="13.93" fill="#d6604d" stroke="none" stroke-width="1" />
<rect x="995.79" y="54.4" width="9.12" height="13.93" fill="#f4a582" stroke="none" stroke-width="1" />
<rect x="1004.61" y="54.4" width="9.12" height="13.93" fill="#f7f7f7" stroke="none" stroke-width="1" />
<rect x="1013.43" y="54.4" width="9.12" height="13.93" fill="#d1e5f0" stroke="none" stroke-width="1" />
<rect x="1022.26" y="54.4" width="26.77" height="13.93" fill="#f7f7f7" stroke="none" stroke-width="1" />
<rect x="1048.72" y="54.4" width="9.12" height="13.93" fill="#fddbc7" stroke="none" stroke-width="1" />
<rect x="1057.54" y="54.4" width="9.12" height="13.93" fill="#f4a582" stroke="none" stroke-width="1" />
<rect x="1066.37" y="54.4" width="17.94" height="13.93" fill="#fddbc7" stroke="none" stroke-width="1" />
<rect x="1084.01" y="54.4" width="9.12" height="13.93" fill="#f7f7f7" stroke="none" stroke-width="1" />
<rect x="1092.83" y="54.4" width="9.12" height="13.93" fill="#fddbc7" stroke="none" stroke-width="1" />
<rect x="1101.66" y="54.4" width="9.12" height="13.93" fill="#4393c3" stroke="none" stroke-width="1" />
<rect x="1110.48" y="54.4" width="9.12" height="13.93" fill="#fddbc7" stroke="none" stroke-width="1" />
<rect x="1119.3" y="54.4" width="9.12" height="13.93" fill="#f4a582" stroke="none" stroke-width="1" />
<rect x="1128.12" y="54.4" width="9.12" height="13.93" fill="#fddbc7" stroke="none" stroke-width="1" />
<rect x="1136.94" y="54.4" width="44.41" height="13.93" fill="#4393c3" stroke="none" stroke-width="1" />
<rect x="1181.06" y="54.4" width="9.12" height="13.93" fill="#fddbc7" stroke="none" stroke-width="1" />
<rect x="1189.88" y="54.4" width="9.12" height="13.93" fill="#f4a582" stroke="none" stroke-width="1" />
<rect x="1198.7" y="54.4" width="26.77" height="13.93" fill="#fddbc7" stroke="none" stroke-width="1" />
<rect x="1225.17" y="54.4" width="9.12" height="13.93" fill="#f7f7f7" stroke="none" stroke-width="1" />
<rect x="1233.99" y="54.4" width="9.12" height="13.93" fill="#f4a582" stroke="none" stroke-width="1" />
<rect x="1242.81" y="54.4" width="9.12" height="13.93" fill="#d1e5f0" stroke="none" stroke-width="1" />
<rect x="1251.63" y="54.4" width="26.77" height="13.93" fill="#f4a582" stroke="none" stroke-width="1" />
<rect x="1278.1" y="54.4" width="9.12" height="13.93" fill="#d1e5f0" stroke="none" stroke-width="1" />
<rect x="1286.92" y="54.4" width="9.12" height="13.93" fill="#fddbc7" stroke="none" stroke-width="1" />
<rect x="1295.74" y="54.4" width="9.12" height="13.93" fill="#d6604d" stroke="none" stroke-width="1" />
<rect x="1304.57" y="54.4" width="9.12" height="13.93" fill="#f4a582" stroke="none" stroke-width="1" />
<rect x="1313.39" y="54.4" width="9.12" height="13.93" fill="#d6604d" stroke="none" stroke-width="1" />
<rect x="1322.21" y="54.4" width="9.12" height="13.93" fill="#053061" stroke="none" stroke-width="1" />
<rect x="1331.03" y="54.4" width="9.12" height="13.93" fill="#f7f7f7" stroke="none" stroke-width="1" />
<rect x="1339.86" y="54.4" width="9.12" height="13.93" fill="#2166ac" stroke="none" stroke-width="1" />
<rect x="1348.68" y="54.4" width="9.12" height="13.93" fill="#f4a582" stroke="none" stroke-width="1" />
<rect x="960.5" y="68.03" width="9.12" height="13.93" fill="#fddbc7" stroke="none" stroke-width="1" />
<rect x="969.32" y="68.03" width="9.12" height="13.93" fill="#f4a582" stroke="none" stroke-width="1" />
<rect x="978.14" y="68.03" width="9.12" height="13.93" fill="#d6604d" stroke="none" stroke-width="1" />
<rect x="986.97" y="68.03" width="9.12" height="13.93" fill="#b2182b" stroke="none" stroke-width="1" />
<rect x="995.79" y="68.03" width="9.12" height="13.93" fill="#d6604d" stroke="none" stroke-width="1" />
<rect x="1004.61" y="68.03" width="9.12" height="13.93" fill="#f7f7f7" stroke="none" stroke-width="1" />
<rect x="1013.43" y="68.03" width="9.12" height="13.93" fill="#4393c3" stroke="none" stroke-width="1" />
<rect x="1022.26" y="68.03" width="9.12" height="13.93" fill="#d1e5f0" stroke="none" stroke-width="1" />
<rect x="1031.08" y="68.03" width="9.12" height="13.93" fill="#f7f7f7" stroke="none" stroke-width="1" />
<rect x="1039.9" y="68.03" width="9.12" height="13.93" fill="#92c5de" stroke="none" stroke-width="1" />
<rect x="1048.72" y="68.03" width="9.12" height="13.93" fill="#fddbc7" stroke="none" stroke-width="1" />
<rect x="1057.54" y="68.03" width="9.12" height="13.93" fill="#d1e5f0" stroke="none" stroke-width="1" />
<rect x="1066.37" y="68.03" width="9.12" height="13.93" fill="#f4a582" stroke="none" stroke-width="1" />
<rect x="1075.19" y="68.03" width="9.12" height="13.93" fill="#d1e5f0" stroke="none" stroke-width="1" />
<rect x="1084.01" y="68.03" width="9.12" height="13.93" fill="#92c5de" stroke="none" stroke-width="1" />
<rect x="1092.83" y="68.03" width="9.12" height="13.93" fill="#d1e5f0" stroke="none" stroke-width="1" />
<rect x="1101.66" y="68.03" width="9.12" height="13.93" fill="#f4a582" stroke="none" stroke-width="1" />
<rect x="1110.48" y="68.03" width="9.12" height="13.93" fill="#d1e5f0" stroke="none" stroke-width="1" />
<rect x="1119.3" y="68.03" width="9.12" height="13.93" fill="#fddbc7" stroke="none" stroke-width="1" />
<rect x="1128.12" y="68.03" width="17.94" height="13.93" fill="#92c5de" stroke="none" stroke-width="1" />
<rect x="1145.77" y="68.03" width="9.12" height="13.93" fill="#f7f7f7" stroke="none" stroke-width="1" />
<rect x="1154.59" y="68.03" width="9.12" height="13.93" fill="#f4a582" stroke="none" stroke-width="1" />
<rect x="1163.41" y="68.03" width="9.12" height="13.93" fill="#92c5de" stroke="none" stroke-width="1" />
<rect x="1172.23" y="68.03" width="9.12" height="13.93" fill="#d1e5f0" stroke="none" stroke-width="1" />
<rect x="1181.06" y="68.03" width="9.12" height="13.93" fill="#92c5de" stroke="none" stroke-width="1" />
<rect x="1189.88" y="68.03" width="9.12" height="13.93" fill="#f7f7f7" stroke="none" stroke-width="1" />
<rect x="1198.7" y="68.03" width="9.12" height="13.93" fill="#f4a582" stroke="none" stroke-width="1" />
<rect x="1207.52" y="68.03" width="9.12" height="13.93" fill="#f7f7f7" stroke="none" stroke-width="1" />
<rect x="1216.34" y="68.03" width="9.12" height="13.93" fill="#d1e5f0" stroke="none" stroke-width="1" />
<rect x="1225.17" y="68.03" width="9.12" height="13.93" fill="#fddbc7" stroke="none" stroke-width="1" />
<rect x="1233.99" y="68.03" width="26.77" height="13.93" fill="#f4a582" stroke="none" stroke-width="1" />
<rect x="1260.46" y="68.03" width="9.12" height="13.93" fill="#fddbc7" stroke="none" stroke-width="1" />
<rect x="1269.28" y="68.03" width="9.12" height="13.93" fill="#f7f7f7" stroke="none" stroke-width="1" />
<rect x="1278.1" y="68.03" width="9.12" height="13.93" fill="#d1e5f0" stroke="none" stroke-width="1" />
<rect x="1286.92" y="68.03" width="9.12" height="13.93" fill="#f4a582" stroke="none" stroke-width="1" />
<rect x="1295.74" y="68.03" width="9.12" height="13.93" fill="#d6604d" stroke="none" stroke-width="1" />
<rect x="1304.57" y="68.03" width="26.77" height="13.93" fill="#f7f7f7" stroke="none" stroke-width="1" />
<rect x="1331.03" y="68.03" width="9.12" height="13.93" fill="#d1e5f0" stroke="none" stroke-width="1" />
<rect x="1339.86" y="68.03" width="9.12" height="13.93" fill="#b2182b" stroke="none" stroke-width="1" />
<rect x="1348.68" y="68.03" width="9.12" height="13.93" fill="#f7f7f7" stroke="none" stroke-width="1" />
<rect x="960.5" y="81.66" width="9.12" height="13.93" fill="#fddbc7" stroke="none" stroke-width="1" />
<rect x="969.32" y="81.66" width="9.12" height="13.93" fill="#f7f7f7" stroke="none" stroke-width="1" />
<rect x="978.14" y="81.66" width="9.12" height="13.93" fill="#fddbc7" stroke="none" stroke-width="1" />
<rect x="986.97" y="81.66" width="9.12" height="13.93" fill="#67001f" stroke="none" stroke-width="1" />
<rect x="995.79" y="81.66" width="17.94" height="13.93" fill="#fddbc7" stroke="none" stroke-width="1" />
<rect x="1013.43" y="81.66" width="9.12" height="13.93" fill="#d1e5f0" stroke="none" stroke-width="1" />
<rect x="1022.26" y="81.66" width="9.12" height="13.93" fill="#f7f7f7" stroke="none" stroke-width="1" />
<rect x="1031.08" y="81.66" width="9.12" height="13.93" fill="#67001f" stroke="none" stroke-width="1" />
<rect x="1039.9" y="81.66" width="9.12" height="13.93" fill="#d1e5f0" stroke="none" stroke-width="1" />
<rect x="1048.72" y="81.66" width="9.12" height="13.93" fill="#f7f7f7" stroke="none" stroke-width="1" />
<rect x="1057.54" y="81.66" width="9.12" height="13.93" fill="#fddbc7" stroke="none" stroke-width="1" />
<rect x="1066.37" y="81.66" width="9.12" height="13.93" fill="#b2182b" stroke="none" stroke-width="1" />
<rect x="1075.19" y="81.66" width="44.41" height="13.93" fill="#f7f7f7" stroke="none" stroke-width="1" />
<rect x="1119.3" y="81.66" width="9.12" height="13.93" fill="#b2182b" stroke="none" stroke-width="1" />
<rect x="1128.12" y="81.66" width="9.12" height="13.93" fill="#fddbc7" stroke="none" stroke-width="1" />
<rect x="1136.94" y="81.66" width="17.94" height="13.93" fill="#d1e5f0" stroke="none" stroke-width="1" />
<rect x="1154.59" y="81.66" width="9.12" height="13.93" fill="#b2182b" stroke="none" stroke-width="1" />
<rect x="1163.41" y="81.66" width="9.12" height="13.93" fill="#d1e5f0" stroke="none" stroke-width="1" />
<rect x="1172.23" y="81.66" width="9.12" height="13.93" fill="#f7f7f7" stroke="none" stroke-width="1" />
<rect x="1181.06" y="81.66" width="9.12" height="13.93" fill="#fddbc7" stroke="none" stroke-width="1" />
<rect x="1189.88" y="81.66" width="9.12" height="13.93" fill="#f7f7f7" stroke="none" stroke-width="1" />
<rect x="1198.7" y="81.66" width="9.12" height="13.93" fill="#fddbc7" stroke="none" stroke-width="1" />
<rect x="1207.52" y="81.66" width="9.12" height="13.93" fill="#67001f" stroke="none" stroke-width="1" />
<rect x="1216.34" y="81.66" width="9.12" height="13.93" fill="#d1e5f0" stroke="none" stroke-width="1" />
<rect x="1225.17" y="81.66" width="9.12" height="13.93" fill="#f7f7f7" stroke="none" stroke-width="1" />
<rect x="1233.99" y="81.66" width="17.94" height="13.93" fill="#fddbc7" stroke="none" stroke-width="1" />
<rect x="1251.63" y="81.66" width="9.12" height="13.93" fill="#67001f" stroke="none" stroke-width="1" />
<rect x="1260.46" y="81.66" width="17.94" height="13.93" fill="#fddbc7" stroke="none" stroke-width="1" />
<rect x="1278.1" y="81.66" width="9.12" height="13.93" fill="#f7f7f7" stroke="none" stroke-width="1" />
<rect x="1286.92" y="81.66" width="9.12" height="13.93" fill="#fddbc7" stroke="none" stroke-width="1" />
<rect x="1295.74" y="81.66" width="9.12" height="13.93" fill="#b2182b" stroke="none" stroke-width="1" />
<rect x="1304.57" y="81.66" width="9.12" height="13.93" fill="#f7f7f7" stroke="none" stroke-width="1" />
<rect x="1313.39" y="81.66" width="26.77" height="13.93" fill="#fddbc7" stroke="none" stroke-width="1" />
<rect x="1339.86" y="81.66" width="9.12" height="13.93" fill="#b2182b" stroke="none" stroke-width="1" />
<rect x="1348.68" y="81.66" width="9.12" height="13.93" fill="#fddbc7" stroke="none" stroke-width="1" />
<rect x="960.5" y="95.3" width="35.59" height="13.93" fill="#d6604d" stroke="none" stroke-width="1" />
<rect x="995.79" y="95.3" width="9.12" height="13.93" fill="#f4a582" stroke="none" stroke-width="1" />
<rect x="1004.61" y="95.3" width="9.12" height="13.93" fill="#f7f7f7" stroke="none" stroke-width="1" />
<rect x="1013.43" y="95.3" width="9.12" height="13.93" fill="#92c5de" stroke="none" stroke-width="1" />
<rect x="1022.26" y="95.3" width="17.94" height="13.93" fill="#fddbc7" stroke="none" stroke-width="1" />
<rect x="1039.9" y="95.3" width="9.12" height="13.93" fill="#d1e5f0" stroke="none" stroke-width="1" />
<rect x="1048.72" y="95.3" width="26.77" height="13.93" fill="#f7f7f7" stroke="none" stroke-width="1" />
<rect x="1075.19" y="95.3" width="9.12" height="13.93" fill="#92c5de" stroke="none" stroke-width="1" />
<rect x="1084.01" y="95.3" width="9.12" height="13.93" fill="#f7f7f7" stroke="none" stroke-width="1" />
<rect x="1092.83" y="95.3" width="53.23" height="13.93" fill="#fddbc7" stroke="none" stroke-width="1" />
<rect x="1145.77" y="95.3" width="9.12" height="13.93" fill="#f7f7f7" stroke="none" stroke-width="1" />
<rect x="1154.59" y="95.3" width="9.12" height="13.93" fill="#fddbc7" stroke="none" stroke-width="1" />
<rect x="1163.41" y="95.3" width="9.12" height="13.93" fill="#d1e5f0" stroke="none" stroke-width="1" />
<rect x="1172.23" y="95.3" width="9.12" height="13.93" fill="#f7f7f7" stroke="none" stroke-width="1" />
<rect x="1181.06" y="95.3" width="26.77" height="13.93" fill="#fddbc7" stroke="none" stroke-width="1" />
<rect x="1207.52" y="95.3" width="9.12" height="13.93" fill="#d6604d" stroke="none" stroke-width="1" />
<rect x="1216.34" y="95.3" width="9.12" height="13.93" fill="#fddbc7" stroke="none" stroke-width="1" />
<rect x="1225.17" y="95.3" width="9.12" height="13.93" fill="#f7f7f7" stroke="none" stroke-width="1" />
<rect x="1233.99" y="95.3" width="9.12" height="13.93" fill="#4393c3" stroke="none" stroke-width="1" />
<rect x="1242.81" y="95.3" width="17.94" height="13.93" fill="#fddbc7" stroke="none" stroke-width="1" />
<rect x="1260.46" y="95.3" width="26.77" height="13.93" fill="#d1e5f0" stroke="none" stroke-width="1" />
<rect x="1286.92" y="95.3" width="9.12" height="13.93" fill="#2166ac" stroke="none" stroke-width="1" />
<rect x="1295.74" y="95.3" width="9.12" height="13.93" fill="#f7f7f7" stroke="none" stroke-width="1" />
<rect x="1304.57" y="95.3" width="9.12" height="13.93" fill="#92c5de" stroke="none" stroke-width="1" />
<rect x="1313.39" y="95.3" width="9.12" height="13.93" fill="#fddbc7" stroke="none" stroke-width="1" />
<rect x="1322.21" y="95.3" width="9.12" height="13.93" fill="#f4a582" stroke="none" stroke-width="1" />
<rect x="1331.03" y="95.3" width="9.12" height="13.93" fill="#92c5de" stroke="none" stroke-width="1" />
<rect x="1339.86" y="95.3" width="17.94" height="13.93" fill="#f4a582" stroke="none" stroke-width="1" />
<rect x="960.5" y="108.93" width="26.77" height="13.93" fill="#f4a582" stroke="none" stroke-width="1" />
<rect x="986.97" y="108.93" width="9.12" height="13.93" fill="#d6604d" stroke="none" stroke-width="1" />
<rect x="995.79" y="108.93" width="9.12" height="13.93" fill="#f4a582" stroke="none" stroke-width="1" />
<rect x="1004.61" y="108.93" width="9.12" height="13.93" fill="#fddbc7" stroke="none" stroke-width="1" />
<rect x="1013.43" y="108.93" width="35.59" height="13.93" fill="#f7f7f7" stroke="none" stroke-width="1" />
<rect x="1048.72" y="108.93" width="17.94" height="13.93" fill="#fddbc7" stroke="none" stroke-width="1" />
<rect x="1066.37" y="108.93" width="9.12" height="13.93" fill="#f7f7f7" stroke="none" stroke-width="1" />
<rect x="1075.19" y="108.93" width="26.77" height="13.93" fill="#fddbc7" stroke="none" stroke-width="1" />
<rect x="1101.66" y="108.93" width="35.59" height="13.93" fill="#f7f7f7" stroke="none" stroke-width="1" />
<rect x="1136.94" y="108.93" width="9.12" height="13.93" fill="#92c5de" stroke="none" stroke-width="1" />
<rect x="1145.77" y="108.93" width="26.77" height="13.93" fill="#f7f7f7" stroke="none" stroke-width="1" />
<rect x="1172.23" y="108.93" width="26.77" height="13.93" fill="#d1e5f0" stroke="none" stroke-width="1" />
<rect x="1198.7" y="108.93" width="9.12" height="13.93" fill="#f7f7f7" stroke="none" stroke-width="1" />
<rect x="1207.52" y="108.93" width="9.12" height="13.93" fill="#92c5de" stroke="none" stroke-width="1" />
<rect x="1216.34" y="108.93" width="9.12" height="13.93" fill="#d1e5f0" stroke="none" stroke-width="1" />
<rect x="1225.17" y="108.93" width="9.12" height="13.93" fill="#f7f7f7" stroke="none" stroke-width="1" />
<rect x="1233.99" y="108.93" width="9.12" height="13.93" fill="#fddbc7" stroke="none" stroke-width="1" />
<rect x="1242.81" y="108.93" width="9.12" height="13.93" fill="#f7f7f7" stroke="none" stroke-width="1" />
<rect x="1251.63" y="108.93" width="9.12" height="13.93" fill="#fddbc7" stroke="none" stroke-width="1" />
<rect x="1260.46" y="108.93" width="9.12" height="13.93" fill="#f7f7f7" stroke="none" stroke-width="1" />
<rect x="1269.28" y="108.93" width="9.12" height="13.93" fill="#d1e5f0" stroke="none" stroke-width="1" />
<rect x="1278.1" y="108.93" width="9.12" height="13.93" fill="#f7f7f7" stroke="none" stroke-width="1" />
<rect x="1286.92" y="108.93" width="9.12" height="13.93" fill="#92c5de" stroke="none" stroke-width="1" />
<rect x="1295.74" y="108.93" width="17.94" height="13.93" fill="#f7f7f7" stroke="none" stroke-width="1" />
<rect x="1313.39" y="108.93" width="17.94" height="13.93" fill="#92c5de" stroke="none" stroke-width="1" />
<rect x="1331.03" y="108.93" width="9.12" height="13.93" fill="#d1e5f0" stroke="none" stroke-width="1" />
<rect x="1339.86" y="108.93" width="9.12" height="13.93" fill="#f7f7f7" stroke="none" stroke-width="1" />
<rect x="1348.68" y="108.93" width="9.12" height="13.93" fill="#92c5de" stroke="none" stroke-width="1" />
<rect x="960.5" y="122.56" width="9.12" height="13.93" fill="#f4a582" stroke="none" stroke-width="1" />
<rect x="969.32" y="122.56" width="44.41" height="13.93" fill="#fddbc7" stroke="none" stroke-width="1" />
<rect x="1013.43" y="122.56" width="26.77" height="13.93" fill="#f7f7f7" stroke="none" stroke-width="1" />
<rect x="1039.9" y="122.56" width="62.06" height="13.93" fill="#fddbc7" stroke="none" stroke-width="1" />
<rect x="1101.66" y="122.56" width="26.77" height="13.93" fill="#f7f7f7" stroke="none" stroke-width="1" />
<rect x="1128.12" y="122.56" width="9.12" height="13.93" fill="#fddbc7" stroke="none" stroke-width="1" />
<rect x="1136.94" y="122.56" width="17.94" height="13.93" fill="#f7f7f7" stroke="none" stroke-width="1" />
<rect x="1154.59" y="122.56" width="9.12" height="13.93" fill="#d1e5f0" stroke="none" stroke-width="1" />
<rect x="1163.41" y="122.56" width="35.59" height="13.93" fill="#f7f7f7" stroke="none" stroke-width="1" />
<rect x="1198.7" y="122.56" width="44.41" height="13.93" fill="#d1e5f0" stroke="none" stroke-width="1" />
<rect x="1242.81" y="122.56" width="17.94" height="13.93" fill="#92c5de" stroke="none" stroke-width="1" />
<rect x="1260.46" y="122.56" width="97.34" height="13.93" fill="#d1e5f0" stroke="none" stroke-width="1" />
<rect x="960.5" y="136.19" width="26.77" height="13.93" fill="#fddbc7" stroke="none" stroke-width="1" />
<rect x="986.97" y="136.19" width="9.12" height="13.93" fill="#f4a582" stroke="none" stroke-width="1" />
<rect x="995.79" y="136.19" width="9.12" height="13.93" fill="#fddbc7" stroke="none" stroke-width="1" />
<rect x="1004.61" y="136.19" width="9.12" height="13.93" fill="#f7f7f7" stroke="none" stroke-width="1" />
<rect x="1013.43" y="136.19" width="9.12" height="13.93" fill="#fddbc7" stroke="none" stroke-width="1" />
<rect x="1022.26" y="136.19" width="9.12" height="13.93" fill="#f7f7f7" stroke="none" stroke-width="1" />
<rect x="1031.08" y="136.19" width="79.7" height="13.93" fill="#fddbc7" stroke="none" stroke-width="1" />
<rect x="1110.48" y="136.19" width="9.12" height="13.93" fill="#f7f7f7" stroke="none" stroke-width="1" />
<rect x="1119.3" y="136.19" width="9.12" height="13.93" fill="#fddbc7" stroke="none" stroke-width="1" />
<rect x="1128.12" y="136.19" width="17.94" height="13.93" fill="#f7f7f7" stroke="none" stroke-width="1" />
<rect x="1145.77" y="136.19" width="9.12" height="13.93" fill="#d1e5f0" stroke="none" stroke-width="1" />
<rect x="1154.59" y="136.19" width="9.12" height="13.93" fill="#fddbc7" stroke="none" stroke-width="1" />
<rect x="1163.41" y="136.19" width="17.94" height="13.93" fill="#f7f7f7" stroke="none" stroke-width="1" />
<rect x="1181.06" y="136.19" width="9.12" height="13.93" fill="#d1e5f0" stroke="none" stroke-width="1" />
<rect x="1189.88" y="136.19" width="17.94" height="13.93" fill="#92c5de" stroke="none" stroke-width="1" />
<rect x="1207.52" y="136.19" width="17.94" height="13.93" fill="#d1e5f0" stroke="none" stroke-width="1" />
<rect x="1225.17" y="136.19" width="17.94" height="13.93" fill="#f7f7f7" stroke="none" stroke-width="1" />
<rect x="1242.81" y="136.19" width="9.12" height="13.93" fill="#d1e5f0" stroke="none" stroke-width="1" />
<rect x="1251.63" y="136.19" width="9.12" height="13.93" fill="#f7f7f7" stroke="none" stroke-width="1" />
<rect x="1260.46" y="136.19" width="9.12" height="13.93" fill="#d1e5f0" stroke="none" stroke-width="1" />
<rect x="1269.28" y="136.19" width="17.94" height="13.93" fill="#f7f7f7" stroke="none" stroke-width="1" />
<rect x="1286.92" y="136.19" width="9.12" height="13.93" fill="#d1e5f0" stroke="none" stroke-width="1" />
<rect x="1295.74" y="136.19" width="9.12" height="13.93" fill="#f7f7f7" stroke="none" stroke-width="1" />
<rect x="1304.57" y="136.19" width="9.12" height="13.93" fill="#d1e5f0" stroke="none" stroke-width="1" />
<rect x="1313.39" y="136.19" width="17.94" height="13.93" fill="#f7f7f7" stroke="none" stroke-width="1" />
<rect x="1331.03" y="136.19" width="9.12" height="13.93" fill="#92c5de" stroke="none" stroke-width="1" />
<rect x="1339.86" y="136.19" width="9.12" height="13.93" fill="#f7f7f7" stroke="none" stroke-width="1" />
<rect x="1348.68" y="136.19" width="9.12" height="13.93" fill="#d1e5f0" stroke="none" stroke-width="1" />
<rect x="960.5" y="149.82" width="9.12" height="13.93" fill="#fddbc7" stroke="none" stroke-width="1" />
<rect x="969.32" y="149.82" width="26.77" height="13.93" fill="#f7f7f7" stroke="none" stroke-width="1" />
<rect x="995.79" y="149.82" width="17.94" height="13.93" fill="#fddbc7" stroke="none" stroke-width="1" />
<rect x="1013.43" y="149.82" width="9.12" height="13.93" fill="#d1e5f0" stroke="none" stroke-width="1" />
<rect x="1022.26" y="149.82" width="9.12" height="13.93" fill="#f4a582" stroke="none" stroke-width="1" />
<rect x="1031.08" y="149.82" width="9.12" height="13.93" fill="#d1e5f0" stroke="none" stroke-width="1" />
<rect x="1039.9" y="149.82" width="17.94" height="13.93" fill="#f7f7f7" stroke="none" stroke-width="1" />
<rect x="1057.54" y="149.82" width="26.77" height="13.93" fill="#fddbc7" stroke="none" stroke-width="1" />
<rect x="1084.01" y="149.82" width="17.94" height="13.93" fill="#f7f7f7" stroke="none" stroke-width="1" />
<rect x="1101.66" y="149.82" width="9.12" height="13.93" fill="#fddbc7" stroke="none" stroke-width="1" />
<rect x="1110.48" y="149.82" width="17.94" height="13.93" fill="#f7f7f7" stroke="none" stroke-width="1" />
<rect x="1128.12" y="149.82" width="9.12" height="13.93" fill="#d1e5f0" stroke="none" stroke-width="1" />
<rect x="1136.94" y="149.82" width="9.12" height="13.93" fill="#f7f7f7" stroke="none" stroke-width="1" />
<rect x="1145.77" y="149.82" width="9.12" height="13.93" fill="#fddbc7" stroke="none" stroke-width="1" />
<rect x="1154.59" y="149.82" width="9.12" height="13.93" fill="#d6604d" stroke="none" stroke-width="1" />
<rect x="1163.41" y="149.82" width="17.94" height="13.93" fill="#fddbc7" stroke="none" stroke-width="1" />
<rect x="1181.06" y="149.82" width="17.94" height="13.93" fill="#92c5de" stroke="none" stroke-width="1" />
<rect x="1198.7" y="149.82" width="9.12" height="13.93" fill="#d1e5f0" stroke="none" stroke-width="1" />
<rect x="1207.52" y="149.82" width="9.12" height="13.93" fill="#92c5de" stroke="none" stroke-width="1" />
<rect x="1216.34" y="149.82" width="9.12" height="13.93" fill="#d1e5f0" stroke="none" stroke-width="1" />
<rect x="1225.17" y="149.82" width="26.77" height="13.93" fill="#fddbc7" stroke="none" stroke-width="1" />
<rect x="1251.63" y="149.82" width="9.12" height="13.93" fill="#f7f7f7" stroke="none" stroke-width="1" />
<rect x="1260.46" y="149.82" width="17.94" height="13.93" fill="#fddbc7" stroke="none" stroke-width="1" />
<rect x="1278.1" y="149.82" width="9.12" height="13.93" fill="#f4a582" stroke="none" stroke-width="1" />
<rect x="1286.92" y="149.82" width="26.77" height="13.93" fill="#fddbc7" stroke="none" stroke-width="1" />
<rect x="1313.39" y="149.82" width="9.12" height="13.93" fill="#d1e5f0" stroke="none" stroke-width="1" />
<rect x="1322.21" y="149.82" width="9.12" height="13.93" fill="#f7f7f7" stroke="none" stroke-width="1" />
<rect x="1331.03" y="149.82" width="17.94" height="13.93" fill="#d1e5f0" stroke="none" stroke-width="1" />
<rect x="1348.68" y="149.82" width="9.12" height="13.93" fill="#f7f7f7" stroke="none" stroke-width="1" />
<rect x="960.5" y="163.46" width="26.77" height="13.93" fill="#f7f7f7" stroke="none" stroke-width="1" />
<rect x="986.97" y="163.46" width="9.12" height="13.93" fill="#fddbc7" stroke="none" stroke-width="1" />
<rect x="995.79" y="163.46" width="9.12" height="13.93" fill="#f7f7f7" stroke="none" stroke-width="1" />
<rect x="1004.61" y="163.46" width="9.12" height="13.93" fill="#fddbc7" stroke="none" stroke-width="1" />
<rect x="1013.43" y="163.46" width="9.12" height="13.93" fill="#d1e5f0" stroke="none" stroke-width="1" />
<rect x="1022.26" y="163.46" width="9.12" height="13.93" fill="#fddbc7" stroke="none" stroke-width="1" />
<rect x="1031.08" y="163.46" width="17.94" height="13.93" fill="#f7f7f7" stroke="none" stroke-width="1" />
<rect x="1048.72" y="163.46" width="17.94" height="13.93" fill="#fddbc7" stroke="none" stroke-width="1" />
<rect x="1066.37" y="163.46" width="17.94" height="13.93" fill="#f7f7f7" stroke="none" stroke-width="1" />
<rect x="1084.01" y="163.46" width="9.12" height="13.93" fill="#d1e5f0" stroke="none" stroke-width="1" />
<rect x="1092.83" y="163.46" width="9.12" height="13.93" fill="#fddbc7" stroke="none" stroke-width="1" />
<rect x="1101.66" y="163.46" width="9.12" height="13.93" fill="#d1e5f0" stroke="none" stroke-width="1" />
<rect x="1110.48" y="163.46" width="9.12" height="13.93" fill="#f7f7f7" stroke="none" stroke-width="1" />
<rect x="1119.3" y="163.46" width="17.94" height="13.93" fill="#fddbc7" stroke="none" stroke-width="1" />
<rect x="1136.94" y="163.46" width="9.12" height="13.93" fill="#f7f7f7" stroke="none" stroke-width="1" />
<rect x="1145.77" y="163.46" width="17.94" height="13.93" fill="#fddbc7" stroke="none" stroke-width="1" />
<rect x="1163.41" y="163.46" width="17.94" height="13.93" fill="#f7f7f7" stroke="none" stroke-width="1" />
<rect x="1181.06" y="163.46" width="17.94" height="13.93" fill="#d1e5f0" stroke="none" stroke-width="1" />
<rect x="1198.7" y="163.46" width="9.12" height="13.93" fill="#f7f7f7" stroke="none" stroke-width="1" />
<rect x="1207.52" y="163.46" width="9.12" height="13.93" fill="#fddbc7" stroke="none" stroke-width="1" />
<rect x="1216.34" y="163.46" width="9.12" height="13.93" fill="#d1e5f0" stroke="none" stroke-width="1" />
<rect x="1225.17" y="163.46" width="44.41" height="13.93" fill="#fddbc7" stroke="none" stroke-width="1" />
<rect x="1269.28" y="163.46" width="9.12" height="13.93" fill="#f7f7f7" stroke="none" stroke-width="1" />
<rect x="1278.1" y="163.46" width="35.59" height="13.93" fill="#fddbc7" stroke="none" stroke-width="1" />
<rect x="1313.39" y="163.46" width="9.12" height="13.93" fill="#d1e5f0" stroke="none" stroke-width="1" />
<rect x="1322.21" y="163.46" width="9.12" height="13.93" fill="#f7f7f7" stroke="none" stroke-width="1" />
<rect x="1331.03" y="163.46" width="9.12" height="13.93" fill="#92c5de" stroke="none" stroke-width="1" />
<rect x="1339.86" y="163.46" width="9.12" height="13.93" fill="#fddbc7" stroke="none" stroke-width="1" />
<rect x="1348.68" y="163.46" width="9.12" height="13.93" fill="#f7f7f7" stroke="none" stroke-width="1" />
<rect x="960.5" y="177.09" width="35.59" height="13.93" fill="#f7f7f7" stroke="none" stroke-width="1" />
<rect x="995.79" y="177.09" width="9.12" height="13.93" fill="#fddbc7" stroke="none" stroke-width="1" />
<rect x="1004.61" y="177.09" width="26.77" height="13.93" fill="#d1e5f0" stroke="none" stroke-width="1" />
<rect x="1031.08" y="177.09" width="26.77" height="13.93" fill="#f7f7f7" stroke="none" stroke-width="1" />
<rect x="1057.54" y="177.09" width="9.12" height="13.93" fill="#f4a582" stroke="none" stroke-width="1" />
<rect x="1066.37" y="177.09" width="17.94" height="13.93" fill="#fddbc7" stroke="none" stroke-width="1" />
<rect x="1084.01" y="177.09" width="9.12" height="13.93" fill="#f7f7f7" stroke="none" stroke-width="1" />
<rect x="1092.83" y="177.09" width="9.12" height="13.93" fill="#fddbc7" stroke="none" stroke-width="1" />
<rect x="1101.66" y="177.09" width="9.12" height="13.93" fill="#f7f7f7" stroke="none" stroke-width="1" />
<rect x="1110.48" y="177.09" width="35.59" height="13.93" fill="#fddbc7" stroke="none" stroke-width="1" />
<rect x="1145.77" y="177.09" width="9.12" height="13.93" fill="#f7f7f7" stroke="none" stroke-width="1" />
<rect x="1154.59" y="177.09" width="9.12" height="13.93" fill="#fddbc7" stroke="none" stroke-width="1" />
<rect x="1163.41" y="177.09" width="17.94" height="13.93" fill="#f7f7f7" stroke="none" stroke-width="1" />
<rect x="1181.06" y="177.09" width="17.94" height="13.93" fill="#d1e5f0" stroke="none" stroke-width="1" />
<rect x="1198.7" y="177.09" width="9.12" height="13.93" fill="#f7f7f7" stroke="none" stroke-width="1" />
<rect x="1207.52" y="177.09" width="17.94" height="13.93" fill="#d1e5f0" stroke="none" stroke-width="1" />
<rect x="1225.17" y="177.09" width="17.94" height="13.93" fill="#f7f7f7" stroke="none" stroke-width="1" />
<rect x="1242.81" y="177.09" width="17.94" height="13.93" fill="#d1e5f0" stroke="none" stroke-width="1" />
<rect x="1260.46" y="177.09" width="70.88" height="13.93" fill="#f7f7f7" stroke="none" stroke-width="1" />
<rect x="1331.03" y="177.09" width="9.12" height="13.93" fill="#d6604d" stroke="none" stroke-width="1" />
<rect x="1339.86" y="177.09" width="9.12" height="13.93" fill="#fddbc7" stroke="none" stroke-width="1" />
<rect x="1348.68" y="177.09" width="9.12" height="13.93" fill="#f7f7f7" stroke="none" stroke-width="1" />
<rect x="960.5" y="190.72" width="44.41" height="13.93" fill="#f7f7f7" stroke="none" stroke-width="1" />
<rect x="1004.61" y="190.72" width="26.77" height="13.93" fill="#d1e5f0" stroke="none" stroke-width="1" />
<rect x="1031.08" y="190.72" width="26.77" height="13.93" fill="#f7f7f7" stroke="none" stroke-width="1" />
<rect x="1057.54" y="190.72" width="9.12" height="13.93" fill="#f4a582" stroke="none" stroke-width="1" />
<rect x="1066.37" y="190.72" width="17.94" height="13.93" fill="#fddbc7" stroke="none" stroke-width="1" />
<rect x="1084.01" y="190.72" width="9.12" height="13.93" fill="#f7f7f7" stroke="none" stroke-width="1" />
<rect x="1092.83" y="190.72" width="9.12" height="13.93" fill="#fddbc7" stroke="none" stroke-width="1" />
<rect x="1101.66" y="190.72" width="9.12" height="13.93" fill="#f7f7f7" stroke="none" stroke-width="1" />
<rect x="1110.48" y="190.72" width="17.94" height="13.93" fill="#fddbc7" stroke="none" stroke-width="1" />
<rect x="1128.12" y="190.72" width="9.12" height="13.93" fill="#f7f7f7" stroke="none" stroke-width="1" />
<rect x="1136.94" y="190.72" width="9.12" height="13.93" fill="#fddbc7" stroke="none" stroke-width="1" />
<rect x="1145.77" y="190.72" width="9.12" height="13.93" fill="#f7f7f7" stroke="none" stroke-width="1" />
<rect x="1154.59" y="190.72" width="9.12" height="13.93" fill="#fddbc7" stroke="none" stroke-width="1" />
<rect x="1163.41" y="190.72" width="17.94" height="13.93" fill="#f7f7f7" stroke="none" stroke-width="1" />
<rect x="1181.06" y="190.72" width="17.94" height="13.93" fill="#d1e5f0" stroke="none" stroke-width="1" />
<rect x="1198.7" y="190.72" width="9.12" height="13.93" fill="#f7f7f7" stroke="none" stroke-width="1" />
<rect x="1207.52" y="190.72" width="17.94" height="13.93" fill="#d1e5f0" stroke="none" stroke-width="1" />
<rect x="1225.17" y="190.72" width="26.77" height="13.93" fill="#f7f7f7" stroke="none" stroke-width="1" />
<rect x="1251.63" y="190.72" width="9.12" height="13.93" fill="#d1e5f0" stroke="none" stroke-width="1" />
<rect x="1260.46" y="190.72" width="70.88" height="13.93" fill="#f7f7f7" stroke="none" stroke-width="1" />
<rect x="1331.03" y="190.72" width="9.12" height="13.93" fill="#f4a582" stroke="none" stroke-width="1" />
<rect x="1339.86" y="190.72" width="17.94" height="13.93" fill="#f7f7f7" stroke="none" stroke-width="1" />
<rect x="960.5" y="204.35" width="26.77" height="13.93" fill="#f7f7f7" stroke="none" stroke-width="1" />
<rect x="986.97" y="204.35" width="9.12" height="13.93" fill="#fddbc7" stroke="none" stroke-width="1" />
<rect x="995.79" y="204.35" width="9.12" height="13.93" fill="#f7f7f7" stroke="none" stroke-width="1" />
<rect x="1004.61" y="204.35" width="9.12" height="13.93" fill="#d1e5f0" stroke="none" stroke-width="1" />
<rect x="1013.43" y="204.35" width="9.12" height="13.93" fill="#f7f7f7" stroke="none" stroke-width="1" />
<rect x="1022.26" y="204.35" width="9.12" height="13.93" fill="#d1e5f0" stroke="none" stroke-width="1" />
<rect x="1031.08" y="204.35" width="9.12" height="13.93" fill="#fddbc7" stroke="none" stroke-width="1" />
<rect x="1039.9" y="204.35" width="17.94" height="13.93" fill="#f7f7f7" stroke="none" stroke-width="1" />
<rect x="1057.54" y="204.35" width="17.94" height="13.93" fill="#fddbc7" stroke="none" stroke-width="1" />
<rect x="1075.19" y="204.35" width="44.41" height="13.93" fill="#f7f7f7" stroke="none" stroke-width="1" />
<rect x="1119.3" y="204.35" width="9.12" height="13.93" fill="#fddbc7" stroke="none" stroke-width="1" />
<rect x="1128.12" y="204.35" width="26.77" height="13.93" fill="#f7f7f7" stroke="none" stroke-width="1" />
<rect x="1154.59" y="204.35" width="9.12" height="13.93" fill="#fddbc7" stroke="none" stroke-width="1" />
<rect x="1163.41" y="204.35" width="9.12" height="13.93" fill="#f7f7f7" stroke="none" stroke-width="1" />
<rect x="1172.23" y="204.35" width="9.12" height="13.93" fill="#d1e5f0" stroke="none" stroke-width="1" />
<rect x="1181.06" y="204.35" width="9.12" height="13.93" fill="#f7f7f7" stroke="none" stroke-width="1" />
<rect x="1189.88" y="204.35" width="9.12" height="13.93" fill="#d1e5f0" stroke="none" stroke-width="1" />
<rect x="1198.7" y="204.35" width="9.12" height="13.93" fill="#92c5de" stroke="none" stroke-width="1" />
<rect x="1207.52" y="204.35" width="9.12" height="13.93" fill="#f7f7f7" stroke="none" stroke-width="1" />
<rect x="1216.34" y="204.35" width="9.12" height="13.93" fill="#d1e5f0" stroke="none" stroke-width="1" />
<rect x="1225.17" y="204.35" width="70.88" height="13.93" fill="#f7f7f7" stroke="none" stroke-width="1" />
<rect x="1295.74" y="204.35" width="9.12" height="13.93" fill="#fddbc7" stroke="none" stroke-width="1" />
<rect x="1304.57" y="204.35" width="35.59" height="13.93" fill="#f7f7f7" stroke="none" stroke-width="1" />
<rect x="1339.86" y="204.35" width="9.12" height="13.93" fill="#fddbc7" stroke="none" stroke-width="1" />
<rect x="1348.68" y="204.35" width="9.12" height="13.93" fill="#f7f7f7" stroke="none" stroke-width="1" />
<rect x="960.5" y="217.98" width="26.77" height="13.93" fill="#f7f7f7" stroke="none" stroke-width="1" />
<rect x="986.97" y="217.98" width="9.12" height="13.93" fill="#fddbc7" stroke="none" stroke-width="1" />
<rect x="995.79" y="217.98" width="9.12" height="13.93" fill="#f7f7f7" stroke="none" stroke-width="1" />
<rect x="1004.61" y="217.98" width="9.12" height="13.93" fill="#d1e5f0" stroke="none" stroke-width="1" />
<rect x="1013.43" y="217.98" width="9.12" height="13.93" fill="#f7f7f7" stroke="none" stroke-width="1" />
<rect x="1022.26" y="217.98" width="9.12" height="13.93" fill="#d1e5f0" stroke="none" stroke-width="1" />
<rect x="1031.08" y="217.98" width="17.94" height="13.93" fill="#fddbc7" stroke="none" stroke-width="1" />
<rect x="1048.72" y="217.98" width="9.12" height="13.93" fill="#f7f7f7" stroke="none" stroke-width="1" />
<rect x="1057.54" y="217.98" width="26.77" height="13.93" fill="#fddbc7" stroke="none" stroke-width="1" />
<rect x="1084.01" y="217.98" width="9.12" height="13.93" fill="#f7f7f7" stroke="none" stroke-width="1" />
<rect x="1092.83" y="217.98" width="9.12" height="13.93" fill="#fddbc7" stroke="none" stroke-width="1" />
<rect x="1101.66" y="217.98" width="17.94" height="13.93" fill="#f7f7f7" stroke="none" stroke-width="1" />
<rect x="1119.3" y="217.98" width="9.12" height="13.93" fill="#fddbc7" stroke="none" stroke-width="1" />
<rect x="1128.12" y="217.98" width="26.77" height="13.93" fill="#f7f7f7" stroke="none" stroke-width="1" />
<rect x="1154.59" y="217.98" width="9.12" height="13.93" fill="#fddbc7" stroke="none" stroke-width="1" />
<rect x="1163.41" y="217.98" width="17.94" height="13.93" fill="#f7f7f7" stroke="none" stroke-width="1" />
<rect x="1181.06" y="217.98" width="17.94" height="13.93" fill="#d1e5f0" stroke="none" stroke-width="1" />
<rect x="1198.7" y="217.98" width="9.12" height="13.93" fill="#92c5de" stroke="none" stroke-width="1" />
<rect x="1207.52" y="217.98" width="9.12" height="13.93" fill="#d1e5f0" stroke="none" stroke-width="1" />
<rect x="1216.34" y="217.98" width="9.12" height="13.93" fill="#92c5de" stroke="none" stroke-width="1" />
<rect x="1225.17" y="217.98" width="106.17" height="13.93" fill="#f7f7f7" stroke="none" stroke-width="1" />
<rect x="1331.03" y="217.98" width="9.12" height="13.93" fill="#d1e5f0" stroke="none" stroke-width="1" />
<rect x="1339.86" y="217.98" width="9.12" height="13.93" fill="#fddbc7" stroke="none" stroke-width="1" />
<rect x="1348.68" y="217.98" width="9.12" height="13.93" fill="#f7f7f7" stroke="none" stroke-width="1" />
<rect x="960.5" y="231.62" width="9.12" height="13.93" fill="#f7f7f7" stroke="none" stroke-width="1" />
<rect x="969.32" y="231.62" width="17.94" height="13.93" fill="#d1e5f0" stroke="none" stroke-width="1" />
<rect x="986.97" y="231.62" width="17.94" height="13.93" fill="#f7f7f7" stroke="none" stroke-width="1" />
<rect x="1004.61" y="231.62" width="9.12" height="13.93" fill="#d1e5f0" stroke="none" stroke-width="1" />
<rect x="1013.43" y="231.62" width="9.12" height="13.93" fill="#f7f7f7" stroke="none" stroke-width="1" />
<rect x="1022.26" y="231.62" width="9.12" height="13.93" fill="#d1e5f0" stroke="none" stroke-width="1" />
<rect x="1031.08" y="231.62" width="26.77" height="13.93" fill="#f7f7f7" stroke="none" stroke-width="1" />
<rect x="1057.54" y="231.62" width="26.77" height="13.93" fill="#fddbc7" stroke="none" stroke-width="1" />
<rect x="1084.01" y="231.62" width="9.12" height="13.93" fill="#f7f7f7" stroke="none" stroke-width="1" />
<rect x="1092.83" y="231.62" width="9.12" height="13.93" fill="#fddbc7" stroke="none" stroke-width="1" />
<rect x="1101.66" y="231.62" width="9.12" height="13.93" fill="#d1e5f0" stroke="none" stroke-width="1" />
<rect x="1110.48" y="231.62" width="9.12" height="13.93" fill="#f7f7f7" stroke="none" stroke-width="1" />
<rect x="1119.3" y="231.62" width="9.12" height="13.93" fill="#fddbc7" stroke="none" stroke-width="1" />
<rect x="1128.12" y="231.62" width="26.77" height="13.93" fill="#f7f7f7" stroke="none" stroke-width="1" />
<rect x="1154.59" y="231.62" width="9.12" height="13.93" fill="#fddbc7" stroke="none" stroke-width="1" />
<rect x="1163.41" y="231.62" width="17.94" height="13.93" fill="#f7f7f7" stroke="none" stroke-width="1" />
<rect x="1181.06" y="231.62" width="17.94" height="13.93" fill="#d1e5f0" stroke="none" stroke-width="1" />
<rect x="1198.7" y="231.62" width="9.12" height="13.93" fill="#92c5de" stroke="none" stroke-width="1" />
<rect x="1207.52" y="231.62" width="9.12" height="13.93" fill="#d1e5f0" stroke="none" stroke-width="1" />
<rect x="1216.34" y="231.62" width="9.12" height="13.93" fill="#92c5de" stroke="none" stroke-width="1" />
<rect x="1225.17" y="231.62" width="9.12" height="13.93" fill="#f7f7f7" stroke="none" stroke-width="1" />
<rect x="1233.99" y="231.62" width="9.12" height="13.93" fill="#fddbc7" stroke="none" stroke-width="1" />
<rect x="1242.81" y="231.62" width="53.23" height="13.93" fill="#f7f7f7" stroke="none" stroke-width="1" />
<rect x="1295.74" y="231.62" width="9.12" height="13.93" fill="#fddbc7" stroke="none" stroke-width="1" />
<rect x="1304.57" y="231.62" width="53.23" height="13.93" fill="#f7f7f7" stroke="none" stroke-width="1" />
<rect x="960.5" y="245.25" width="9.12" height="13.93" fill="#f7f7f7" stroke="none" stroke-width="1" />
<rect x="969.32" y="245.25" width="9.12" height="13.93" fill="#d1e5f0" stroke="none" stroke-width="1" />
<rect x="978.14" y="245.25" width="26.77" height="13.93" fill="#f7f7f7" stroke="none" stroke-width="1" />
<rect x="1004.61" y="245.25" width="9.12" height="13.93" fill="#92c5de" stroke="none" stroke-width="1" />
<rect x="1013.43" y="245.25" width="9.12" height="13.93" fill="#f7f7f7" stroke="none" stroke-width="1" />
<rect x="1022.26" y="245.25" width="9.12" height="13.93" fill="#d1e5f0" stroke="none" stroke-width="1" />
<rect x="1031.08" y="245.25" width="9.12" height="13.93" fill="#fddbc7" stroke="none" stroke-width="1" />
<rect x="1039.9" y="245.25" width="17.94" height="13.93" fill="#f7f7f7" stroke="none" stroke-width="1" />
<rect x="1057.54" y="245.25" width="9.12" height="13.93" fill="#f4a582" stroke="none" stroke-width="1" />
<rect x="1066.37" y="245.25" width="17.94" height="13.93" fill="#fddbc7" stroke="none" stroke-width="1" />
<rect x="1084.01" y="245.25" width="9.12" height="13.93" fill="#f7f7f7" stroke="none" stroke-width="1" />
<rect x="1092.83" y="245.25" width="9.12" height="13.93" fill="#fddbc7" stroke="none" stroke-width="1" />
<rect x="1101.66" y="245.25" width="17.94" height="13.93" fill="#f7f7f7" stroke="none" stroke-width="1" />
<rect x="1119.3" y="245.25" width="9.12" height="13.93" fill="#fddbc7" stroke="none" stroke-width="1" />
<rect x="1128.12" y="245.25" width="26.77" height="13.93" fill="#f7f7f7" stroke="none" stroke-width="1" />
<rect x="1154.59" y="245.25" width="9.12" height="13.93" fill="#fddbc7" stroke="none" stroke-width="1" />
<rect x="1163.41" y="245.25" width="17.94" height="13.93" fill="#f7f7f7" stroke="none" stroke-width="1" />
<rect x="1181.06" y="245.25" width="17.94" height="13.93" fill="#d1e5f0" stroke="none" stroke-width="1" />
<rect x="1198.7" y="245.25" width="9.12" height="13.93" fill="#92c5de" stroke="none" stroke-width="1" />
<rect x="1207.52" y="245.25" width="9.12" height="13.93" fill="#d1e5f0" stroke="none" stroke-width="1" />
<rect x="1216.34" y="245.25" width="9.12" height="13.93" fill="#92c5de" stroke="none" stroke-width="1" />
<rect x="1225.17" y="245.25" width="9.12" height="13.93" fill="#f7f7f7" stroke="none" stroke-width="1" />
<rect x="1233.99" y="245.25" width="9.12" height="13.93" fill="#fddbc7" stroke="none" stroke-width="1" />
<rect x="1242.81" y="245.25" width="53.23" height="13.93" fill="#f7f7f7" stroke="none" stroke-width="1" />
<rect x="1295.74" y="245.25" width="9.12" height="13.93" fill="#fddbc7" stroke="none" stroke-width="1" />
<rect x="1304.57" y="245.25" width="26.77" height="13.93" fill="#f7f7f7" stroke="none" stroke-width="1" />
<rect x="1331.03" y="245.25" width="17.94" height="13.93" fill="#fddbc7" stroke="none" stroke-width="1" />
<rect x="1348.68" y="245.25" width="9.12" height="13.93" fill="#f7f7f7" stroke="none" stroke-width="1" />
<rect x="960.5" y="258.88" width="9.12" height="13.93" fill="#f7f7f7" stroke="none" stroke-width="1" />
<rect x="969.32" y="258.88" width="9.12" height="13.93" fill="#d1e5f0" stroke="none" stroke-width="1" />
<rect x="978.14" y="258.88" width="26.77" height="13.93" fill="#f7f7f7" stroke="none" stroke-width="1" />
<rect x="1004.61" y="258.88" width="9.12" height="13.93" fill="#d1e5f0" stroke="none" stroke-width="1" />
<rect x="1013.43" y="258.88" width="9.12" height="13.93" fill="#f7f7f7" stroke="none" stroke-width="1" />
<rect x="1022.26" y="258.88" width="9.12" height="13.93" fill="#92c5de" stroke="none" stroke-width="1" />
<rect x="1031.08" y="258.88" width="26.77" height="13.93" fill="#f7f7f7" stroke="none" stroke-width="1" />
<rect x="1057.54" y="258.88" width="26.77" height="13.93" fill="#fddbc7" stroke="none" stroke-width="1" />
<rect x="1084.01" y="258.88" width="17.94" height="13.93" fill="#f7f7f7" stroke="none" stroke-width="1" />
<rect x="1101.66" y="258.88" width="26.77" height="13.93" fill="#fddbc7" stroke="none" stroke-width="1" />
<rect x="1128.12" y="258.88" width="26.77" height="13.93" fill="#f7f7f7" stroke="none" stroke-width="1" />
<rect x="1154.59" y="258.88" width="9.12" height="13.93" fill="#fddbc7" stroke="none" stroke-width="1" />
<rect x="1163.41" y="258.88" width="17.94" height="13.93" fill="#f7f7f7" stroke="none" stroke-width="1" />
<rect x="1181.06" y="258.88" width="17.94" height="13.93" fill="#d1e5f0" stroke="none" stroke-width="1" />
<rect x="1198.7" y="258.88" width="9.12" height="13.93" fill="#92c5de" stroke="none" stroke-width="1" />
<rect x="1207.52" y="258.88" width="9.12" height="13.93" fill="#d1e5f0" stroke="none" stroke-width="1" />
<rect x="1216.34" y="258.88" width="9.12" height="13.93" fill="#92c5de" stroke="none" stroke-width="1" />
<rect x="1225.17" y="258.88" width="9.12" height="13.93" fill="#f7f7f7" stroke="none" stroke-width="1" />
<rect x="1233.99" y="258.88" width="9.12" height="13.93" fill="#fddbc7" stroke="none" stroke-width="1" />
<rect x="1242.81" y="258.88" width="35.59" height="13.93" fill="#f7f7f7" stroke="none" stroke-width="1" />
<rect x="1278.1" y="258.88" width="9.12" height="13.93" fill="#fddbc7" stroke="none" stroke-width="1" />
<rect x="1286.92" y="258.88" width="9.12" height="13.93" fill="#f7f7f7" stroke="none" stroke-width="1" />
<rect x="1295.74" y="258.88" width="9.12" height="13.93" fill="#fddbc7" stroke="none" stroke-width="1" />
<rect x="1304.57" y="258.88" width="9.12" height="13.93" fill="#f7f7f7" stroke="none" stroke-width="1" />
<rect x="1313.39" y="258.88" width="35.59" height="13.93" fill="#fddbc7" stroke="none" stroke-width="1" />
<rect x="1348.68" y="258.88" width="9.12" height="13.93" fill="#f7f7f7" stroke="none" stroke-width="1" />
<rect x="960.5" y="272.51" width="9.12" height="13.93" fill="#f7f7f7" stroke="none" stroke-width="1" />
<rect x="969.32" y="272.51" width="9.12" height="13.93" fill="#d1e5f0" stroke="none" stroke-width="1" />
<rect x="978.14" y="272.51" width="9.12" height="13.93" fill="#f7f7f7" stroke="none" stroke-width="1" />
<rect x="986.97" y="272.51" width="9.12" height="13.93" fill="#fddbc7" stroke="none" stroke-width="1" />
<rect x="995.79" y="272.51" width="9.12" height="13.93" fill="#f7f7f7" stroke="none" stroke-width="1" />
<rect x="1004.61" y="272.51" width="9.12" height="13.93" fill="#d1e5f0" stroke="none" stroke-width="1" />
<rect x="1013.43" y="272.51" width="9.12" height="13.93" fill="#f7f7f7" stroke="none" stroke-width="1" />
<rect x="1022.26" y="272.51" width="9.12" height="13.93" fill="#d1e5f0" stroke="none" stroke-width="1" />
<rect x="1031.08" y="272.51" width="9.12" height="13.93" fill="#fddbc7" stroke="none" stroke-width="1" />
<rect x="1039.9" y="272.51" width="17.94" height="13.93" fill="#f7f7f7" stroke="none" stroke-width="1" />
<rect x="1057.54" y="272.51" width="26.77" height="13.93" fill="#fddbc7" stroke="none" stroke-width="1" />
<rect x="1084.01" y="272.51" width="9.12" height="13.93" fill="#f7f7f7" stroke="none" stroke-width="1" />
<rect x="1092.83" y="272.51" width="9.12" height="13.93" fill="#fddbc7" stroke="none" stroke-width="1" />
<rect x="1101.66" y="272.51" width="9.12" height="13.93" fill="#92c5de" stroke="none" stroke-width="1" />
<rect x="1110.48" y="272.51" width="9.12" height="13.93" fill="#f7f7f7" stroke="none" stroke-width="1" />
<rect x="1119.3" y="272.51" width="9.12" height="13.93" fill="#fddbc7" stroke="none" stroke-width="1" />
<rect x="1128.12" y="272.51" width="26.77" height="13.93" fill="#f7f7f7" stroke="none" stroke-width="1" />
<rect x="1154.59" y="272.51" width="9.12" height="13.93" fill="#fddbc7" stroke="none" stroke-width="1" />
<rect x="1163.41" y="272.51" width="26.77" height="13.93" fill="#f7f7f7" stroke="none" stroke-width="1" />
<rect x="1189.88" y="272.51" width="9.12" height="13.93" fill="#d1e5f0" stroke="none" stroke-width="1" />
<rect x="1198.7" y="272.51" width="9.12" height="13.93" fill="#92c5de" stroke="none" stroke-width="1" />
<rect x="1207.52" y="272.51" width="17.94" height="13.93" fill="#d1e5f0" stroke="none" stroke-width="1" />
<rect x="1225.17" y="272.51" width="17.94" height="13.93" fill="#f7f7f7" stroke="none" stroke-width="1" />
<rect x="1242.81" y="272.51" width="9.12" height="13.93" fill="#d1e5f0" stroke="none" stroke-width="1" />
<rect x="1251.63" y="272.51" width="44.41" height="13.93" fill="#f7f7f7" stroke="none" stroke-width="1" />
<rect x="1295.74" y="272.51" width="9.12" height="13.93" fill="#fddbc7" stroke="none" stroke-width="1" />
<rect x="1304.57" y="272.51" width="9.12" height="13.93" fill="#f7f7f7" stroke="none" stroke-width="1" />
<rect x="1313.39" y="272.51" width="9.12" height="13.93" fill="#fddbc7" stroke="none" stroke-width="1" />
<rect x="1322.21" y="272.51" width="9.12" height="13.93" fill="#f7f7f7" stroke="none" stroke-width="1" />
<rect x="1331.03" y="272.51" width="17.94" height="13.93" fill="#fddbc7" stroke="none" stroke-width="1" />
<rect x="1348.68" y="272.51" width="9.12" height="13.93" fill="#f7f7f7" stroke="none" stroke-width="1" />
<rect x="960.5" y="286.14" width="9.12" height="13.93" fill="#f7f7f7" stroke="none" stroke-width="1" />
<rect x="969.32" y="286.14" width="9.12" height="13.93" fill="#92c5de" stroke="none" stroke-width="1" />
<rect x="978.14" y="286.14" width="9.12" height="13.93" fill="#d1e5f0" stroke="none" stroke-width="1" />
<rect x="986.97" y="286.14" width="9.12" height="13.93" fill="#fddbc7" stroke="none" stroke-width="1" />
<rect x="995.79" y="286.14" width="9.12" height="13.93" fill="#f7f7f7" stroke="none" stroke-width="1" />
<rect x="1004.61" y="286.14" width="9.12" height="13.93" fill="#92c5de" stroke="none" stroke-width="1" />
<rect x="1013.43" y="286.14" width="9.12" height="13.93" fill="#f7f7f7" stroke="none" stroke-width="1" />
<rect x="1022.26" y="286.14" width="9.12" height="13.93" fill="#d1e5f0" stroke="none" stroke-width="1" />
<rect x="1031.08" y="286.14" width="9.12" height="13.93" fill="#f4a582" stroke="none" stroke-width="1" />
<rect x="1039.9" y="286.14" width="17.94" height="13.93" fill="#f7f7f7" stroke="none" stroke-width="1" />
<rect x="1057.54" y="286.14" width="9.12" height="13.93" fill="#fddbc7" stroke="none" stroke-width="1" />
<rect x="1066.37" y="286.14" width="9.12" height="13.93" fill="#f4a582" stroke="none" stroke-width="1" />
<rect x="1075.19" y="286.14" width="17.94" height="13.93" fill="#f7f7f7" stroke="none" stroke-width="1" />
<rect x="1092.83" y="286.14" width="9.12" height="13.93" fill="#fddbc7" stroke="none" stroke-width="1" />
<rect x="1101.66" y="286.14" width="9.12" height="13.93" fill="#2166ac" stroke="none" stroke-width="1" />
<rect x="1110.48" y="286.14" width="9.12" height="13.93" fill="#f7f7f7" stroke="none" stroke-width="1" />
<rect x="1119.3" y="286.14" width="9.12" height="13.93" fill="#f4a582" stroke="none" stroke-width="1" />
<rect x="1128.12" y="286.14" width="17.94" height="13.93" fill="#f7f7f7" stroke="none" stroke-width="1" />
<rect x="1145.77" y="286.14" width="9.12" height="13.93" fill="#92c5de" stroke="none" stroke-width="1" />
<rect x="1154.59" y="286.14" width="17.94" height="13.93" fill="#fddbc7" stroke="none" stroke-width="1" />
<rect x="1172.23" y="286.14" width="17.94" height="13.93" fill="#d1e5f0" stroke="none" stroke-width="1" />
<rect x="1189.88" y="286.14" width="9.12" height="13.93" fill="#92c5de" stroke="none" stroke-width="1" />
<rect x="1198.7" y="286.14" width="9.12" height="13.93" fill="#4393c3" stroke="none" stroke-width="1" />
<rect x="1207.52" y="286.14" width="9.12" height="13.93" fill="#d1e5f0" stroke="none" stroke-width="1" />
<rect x="1216.34" y="286.14" width="9.12" height="13.93" fill="#4393c3" stroke="none" stroke-width="1" />
<rect x="1225.17" y="286.14" width="9.12" height="13.93" fill="#d1e5f0" stroke="none" stroke-width="1" />
<rect x="1233.99" y="286.14" width="9.12" height="13.93" fill="#f7f7f7" stroke="none" stroke-width="1" />
<rect x="1242.81" y="286.14" width="35.59" height="13.93" fill="#d1e5f0" stroke="none" stroke-width="1" />
<rect x="1278.1" y="286.14" width="9.12" height="13.93" fill="#f7f7f7" stroke="none" stroke-width="1" />
<rect x="1286.92" y="286.14" width="9.12" height="13.93" fill="#d1e5f0" stroke="none" stroke-width="1" />
<rect x="1295.74" y="286.14" width="9.12" height="13.93" fill="#fddbc7" stroke="none" stroke-width="1" />
<rect x="1304.57" y="286.14" width="9.12" height="13.93" fill="#92c5de" stroke="none" stroke-width="1" />
<rect x="1313.39" y="286.14" width="17.94" height="13.93" fill="#f7f7f7" stroke="none" stroke-width="1" />
<rect x="1331.03" y="286.14" width="9.12" height="13.93" fill="#f4a582" stroke="none" stroke-width="1" />
<rect x="1339.86" y="286.14" width="17.94" height="13.93" fill="#fddbc7" stroke="none" stroke-width="1" />
<rect x="960.5" y="299.78" width="17.94" height="13.93" fill="#92c5de" stroke="none" stroke-width="1" />
<rect x="978.14" y="299.78" width="17.94" height="13.93" fill="#d1e5f0" stroke="none" stroke-width="1" />
<rect x="995.79" y="299.78" width="9.12" height="13.93" fill="#92c5de" stroke="none" stroke-width="1" />
<rect x="1004.61" y="299.78" width="9.12" height="13.93" fill="#f7f7f7" stroke="none" stroke-width="1" />
<rect x="1013.43" y="299.78" width="17.94" height="13.93" fill="#fddbc7" stroke="none" stroke-width="1" />
<rect x="1031.08" y="299.78" width="9.12" height="13.93" fill="#f7f7f7" stroke="none" stroke-width="1" />
<rect x="1039.9" y="299.78" width="9.12" height="13.93" fill="#fddbc7" stroke="none" stroke-width="1" />
<rect x="1048.72" y="299.78" width="9.12" height="13.93" fill="#f7f7f7" stroke="none" stroke-width="1" />
<rect x="1057.54" y="299.78" width="9.12" height="13.93" fill="#d1e5f0" stroke="none" stroke-width="1" />
<rect x="1066.37" y="299.78" width="9.12" height="13.93" fill="#f7f7f7" stroke="none" stroke-width="1" />
<rect x="1075.19" y="299.78" width="9.12" height="13.93" fill="#d1e5f0" stroke="none" stroke-width="1" />
<rect x="1084.01" y="299.78" width="9.12" height="13.93" fill="#fddbc7" stroke="none" stroke-width="1" />
<rect x="1092.83" y="299.78" width="9.12" height="13.93" fill="#d1e5f0" stroke="none" stroke-width="1" />
<rect x="1101.66" y="299.78" width="9.12" height="13.93" fill="#f7f7f7" stroke="none" stroke-width="1" />
<rect x="1110.48" y="299.78" width="9.12" height="13.93" fill="#fddbc7" stroke="none" stroke-width="1" />
<rect x="1119.3" y="299.78" width="9.12" height="13.93" fill="#f7f7f7" stroke="none" stroke-width="1" />
<rect x="1128.12" y="299.78" width="9.12" height="13.93" fill="#fddbc7" stroke="none" stroke-width="1" />
<rect x="1136.94" y="299.78" width="26.77" height="13.93" fill="#f7f7f7" stroke="none" stroke-width="1" />
<rect x="1163.41" y="299.78" width="9.12" height="13.93" fill="#fddbc7" stroke="none" stroke-width="1" />
<rect x="1172.23" y="299.78" width="9.12" height="13.93" fill="#f7f7f7" stroke="none" stroke-width="1" />
<rect x="1181.06" y="299.78" width="9.12" height="13.93" fill="#92c5de" stroke="none" stroke-width="1" />
<rect x="1189.88" y="299.78" width="9.12" height="13.93" fill="#f7f7f7" stroke="none" stroke-width="1" />
<rect x="1198.7" y="299.78" width="9.12" height="13.93" fill="#d1e5f0" stroke="none" stroke-width="1" />
<rect x="1207.52" y="299.78" width="9.12" height="13.93" fill="#f7f7f7" stroke="none" stroke-width="1" />
<rect x="1216.34" y="299.78" width="35.59" height="13.93" fill="#d1e5f0" stroke="none" stroke-width="1" />
<rect x="1251.63" y="299.78" width="17.94" height="13.93" fill="#92c5de" stroke="none" stroke-width="1" />
<rect x="1269.28" y="299.78" width="9.12" height="13.93" fill="#d1e5f0" stroke="none" stroke-width="1" />
<rect x="1278.1" y="299.78" width="9.12" height="13.93" fill="#fddbc7" stroke="none" stroke-width="1" />
<rect x="1286.92" y="299.78" width="9.12" height="13.93" fill="#f7f7f7" stroke="none" stroke-width="1" />
<rect x="1295.74" y="299.78" width="9.12" height="13.93" fill="#fddbc7" stroke="none" stroke-width="1" />
<rect x="1304.57" y="299.78" width="26.77" height="13.93" fill="#f7f7f7" stroke="none" stroke-width="1" />
<rect x="1331.03" y="299.78" width="9.12" height="13.93" fill="#f4a582" stroke="none" stroke-width="1" />
<rect x="1339.86" y="299.78" width="9.12" height="13.93" fill="#fddbc7" stroke="none" stroke-width="1" />
<rect x="1348.68" y="299.78" width="9.12" height="13.93" fill="#f7f7f7" stroke="none" stroke-width="1" />
<rect x="960.5" y="313.41" width="9.12" height="13.93" fill="#f7f7f7" stroke="none" stroke-width="1" />
<rect x="969.32" y="313.41" width="9.12" height="13.93" fill="#d1e5f0" stroke="none" stroke-width="1" />
<rect x="978.14" y="313.41" width="17.94" height="13.93" fill="#f7f7f7" stroke="none" stroke-width="1" />
<rect x="995.79" y="313.41" width="9.12" height="13.93" fill="#d1e5f0" stroke="none" stroke-width="1" />
<rect x="1004.61" y="313.41" width="9.12" height="13.93" fill="#f7f7f7" stroke="none" stroke-width="1" />
<rect x="1013.43" y="313.41" width="9.12" height="13.93" fill="#fddbc7" stroke="none" stroke-width="1" />
<rect x="1022.26" y="313.41" width="9.12" height="13.93" fill="#f4a582" stroke="none" stroke-width="1" />
<rect x="1031.08" y="313.41" width="9.12" height="13.93" fill="#f7f7f7" stroke="none" stroke-width="1" />
<rect x="1039.9" y="313.41" width="9.12" height="13.93" fill="#fddbc7" stroke="none" stroke-width="1" />
<rect x="1048.72" y="313.41" width="9.12" height="13.93" fill="#f7f7f7" stroke="none" stroke-width="1" />
<rect x="1057.54" y="313.41" width="9.12" height="13.93" fill="#d1e5f0" stroke="none" stroke-width="1" />
<rect x="1066.37" y="313.41" width="9.12" height="13.93" fill="#f7f7f7" stroke="none" stroke-width="1" />
<rect x="1075.19" y="313.41" width="9.12" height="13.93" fill="#92c5de" stroke="none" stroke-width="1" />
<rect x="1084.01" y="313.41" width="9.12" height="13.93" fill="#f4a582" stroke="none" stroke-width="1" />
<rect x="1092.83" y="313.41" width="9.12" height="13.93" fill="#fddbc7" stroke="none" stroke-width="1" />
<rect x="1101.66" y="313.41" width="9.12" height="13.93" fill="#f7f7f7" stroke="none" stroke-width="1" />
<rect x="1110.48" y="313.41" width="9.12" height="13.93" fill="#fddbc7" stroke="none" stroke-width="1" />
<rect x="1119.3" y="313.41" width="9.12" height="13.93" fill="#d1e5f0" stroke="none" stroke-width="1" />
<rect x="1128.12" y="313.41" width="9.12" height="13.93" fill="#f7f7f7" stroke="none" stroke-width="1" />
<rect x="1136.94" y="313.41" width="9.12" height="13.93" fill="#fddbc7" stroke="none" stroke-width="1" />
<rect x="1145.77" y="313.41" width="9.12" height="13.93" fill="#f7f7f7" stroke="none" stroke-width="1" />
<rect x="1154.59" y="313.41" width="9.12" height="13.93" fill="#d1e5f0" stroke="none" stroke-width="1" />
<rect x="1163.41" y="313.41" width="17.94" height="13.93" fill="#fddbc7" stroke="none" stroke-width="1" />
<rect x="1181.06" y="313.41" width="9.12" height="13.93" fill="#d1e5f0" stroke="none" stroke-width="1" />
<rect x="1189.88" y="313.41" width="9.12" height="13.93" fill="#f7f7f7" stroke="none" stroke-width="1" />
<rect x="1198.7" y="313.41" width="9.12" height="13.93" fill="#92c5de" stroke="none" stroke-width="1" />
<rect x="1207.52" y="313.41" width="9.12" height="13.93" fill="#d1e5f0" stroke="none" stroke-width="1" />
<rect x="1216.34" y="313.41" width="9.12" height="13.93" fill="#f7f7f7" stroke="none" stroke-width="1" />
<rect x="1225.17" y="313.41" width="9.12" height="13.93" fill="#92c5de" stroke="none" stroke-width="1" />
<rect x="1233.99" y="313.41" width="17.94" height="13.93" fill="#d1e5f0" stroke="none" stroke-width="1" />
<rect x="1251.63" y="313.41" width="17.94" height="13.93" fill="#92c5de" stroke="none" stroke-width="1" />
<rect x="1269.28" y="313.41" width="9.12" height="13.93" fill="#f7f7f7" stroke="none" stroke-width="1" />
<rect x="1278.1" y="313.41" width="9.12" height="13.93" fill="#fddbc7" stroke="none" stroke-width="1" />
<rect x="1286.92" y="313.41" width="9.12" height="13.93" fill="#f7f7f7" stroke="none" stroke-width="1" />
<rect x="1295.74" y="313.41" width="17.94" height="13.93" fill="#d1e5f0" stroke="none" stroke-width="1" />
<rect x="1313.39" y="313.41" width="17.94" height="13.93" fill="#f7f7f7" stroke="none" stroke-width="1" />
<rect x="1331.03" y="313.41" width="9.12" height="13.93" fill="#f4a582" stroke="none" stroke-width="1" />
<rect x="1339.86" y="313.41" width="17.94" height="13.93" fill="#f7f7f7" stroke="none" stroke-width="1" />
<rect x="960.5" y="327.04" width="9.12" height="13.93" fill="#f7f7f7" stroke="none" stroke-width="1" />
<rect x="969.32" y="327.04" width="9.12" height="13.93" fill="#d1e5f0" stroke="none" stroke-width="1" />
<rect x="978.14" y="327.04" width="9.12" height="13.93" fill="#fddbc7" stroke="none" stroke-width="1" />
<rect x="986.97" y="327.04" width="26.77" height="13.93" fill="#f7f7f7" stroke="none" stroke-width="1" />
<rect x="1013.43" y="327.04" width="9.12" height="13.93" fill="#fddbc7" stroke="none" stroke-width="1" />
<rect x="1022.26" y="327.04" width="9.12" height="13.93" fill="#f4a582" stroke="none" stroke-width="1" />
<rect x="1031.08" y="327.04" width="9.12" height="13.93" fill="#f7f7f7" stroke="none" stroke-width="1" />
<rect x="1039.9" y="327.04" width="17.94" height="13.93" fill="#fddbc7" stroke="none" stroke-width="1" />
<rect x="1057.54" y="327.04" width="9.12" height="13.93" fill="#f7f7f7" stroke="none" stroke-width="1" />
<rect x="1066.37" y="327.04" width="9.12" height="13.93" fill="#fddbc7" stroke="none" stroke-width="1" />
<rect x="1075.19" y="327.04" width="9.12" height="13.93" fill="#d1e5f0" stroke="none" stroke-width="1" />
<rect x="1084.01" y="327.04" width="35.59" height="13.93" fill="#fddbc7" stroke="none" stroke-width="1" />
<rect x="1119.3" y="327.04" width="9.12" height="13.93" fill="#d1e5f0" stroke="none" stroke-width="1" />
<rect x="1128.12" y="327.04" width="9.12" height="13.93" fill="#f7f7f7" stroke="none" stroke-width="1" />
<rect x="1136.94" y="327.04" width="9.12" height="13.93" fill="#fddbc7" stroke="none" stroke-width="1" />
<rect x="1145.77" y="327.04" width="9.12" height="13.93" fill="#f7f7f7" stroke="none" stroke-width="1" />
<rect x="1154.59" y="327.04" width="9.12" height="13.93" fill="#d1e5f0" stroke="none" stroke-width="1" />
<rect x="1163.41" y="327.04" width="17.94" height="13.93" fill="#fddbc7" stroke="none" stroke-width="1" />
<rect x="1181.06" y="327.04" width="17.94" height="13.93" fill="#d1e5f0" stroke="none" stroke-width="1" />
<rect x="1198.7" y="327.04" width="9.12" height="13.93" fill="#4393c3" stroke="none" stroke-width="1" />
<rect x="1207.52" y="327.04" width="17.94" height="13.93" fill="#d1e5f0" stroke="none" stroke-width="1" />
<rect x="1225.17" y="327.04" width="9.12" height="13.93" fill="#4393c3" stroke="none" stroke-width="1" />
<rect x="1233.99" y="327.04" width="17.94" height="13.93" fill="#92c5de" stroke="none" stroke-width="1" />
<rect x="1251.63" y="327.04" width="9.12" height="13.93" fill="#4393c3" stroke="none" stroke-width="1" />
<rect x="1260.46" y="327.04" width="9.12" height="13.93" fill="#92c5de" stroke="none" stroke-width="1" />
<rect x="1269.28" y="327.04" width="9.12" height="13.93" fill="#d1e5f0" stroke="none" stroke-width="1" />
<rect x="1278.1" y="327.04" width="9.12" height="13.93" fill="#f7f7f7" stroke="none" stroke-width="1" />
<rect x="1286.92" y="327.04" width="26.77" height="13.93" fill="#d1e5f0" stroke="none" stroke-width="1" />
<rect x="1313.39" y="327.04" width="9.12" height="13.93" fill="#f7f7f7" stroke="none" stroke-width="1" />
<rect x="1322.21" y="327.04" width="9.12" height="13.93" fill="#d1e5f0" stroke="none" stroke-width="1" />
<rect x="1331.03" y="327.04" width="9.12" height="13.93" fill="#f4a582" stroke="none" stroke-width="1" />
<rect x="1339.86" y="327.04" width="17.94" height="13.93" fill="#d1e5f0" stroke="none" stroke-width="1" />
<rect x="960.5" y="340.67" width="26.77" height="13.93" fill="#fddbc7" stroke="none" stroke-width="1" />
<rect x="986.97" y="340.67" width="9.12" height="13.93" fill="#f4a582" stroke="none" stroke-width="1" />
<rect x="995.79" y="340.67" width="17.94" height="13.93" fill="#fddbc7" stroke="none" stroke-width="1" />
<rect x="1013.43" y="340.67" width="35.59" height="13.93" fill="#f4a582" stroke="none" stroke-width="1" />
<rect x="1048.72" y="340.67" width="17.94" height="13.93" fill="#f7f7f7" stroke="none" stroke-width="1" />
<rect x="1066.37" y="340.67" width="9.12" height="13.93" fill="#fddbc7" stroke="none" stroke-width="1" />
<rect x="1075.19" y="340.67" width="26.77" height="13.93" fill="#f7f7f7" stroke="none" stroke-width="1" />
<rect x="1101.66" y="340.67" width="26.77" height="13.93" fill="#d1e5f0" stroke="none" stroke-width="1" />
<rect x="1128.12" y="340.67" width="17.94" height="13.93" fill="#92c5de" stroke="none" stroke-width="1" />
<rect x="1145.77" y="340.67" width="9.12" height="13.93" fill="#4393c3" stroke="none" stroke-width="1" />
<rect x="1154.59" y="340.67" width="9.12" height="13.93" fill="#92c5de" stroke="none" stroke-width="1" />
<rect x="1163.41" y="340.67" width="9.12" height="13.93" fill="#fddbc7" stroke="none" stroke-width="1" />
<rect x="1172.23" y="340.67" width="9.12" height="13.93" fill="#4393c3" stroke="none" stroke-width="1" />
<rect x="1181.06" y="340.67" width="9.12" height="13.93" fill="#d1e5f0" stroke="none" stroke-width="1" />
<rect x="1189.88" y="340.67" width="9.12" height="13.93" fill="#92c5de" stroke="none" stroke-width="1" />
<rect x="1198.7" y="340.67" width="9.12" height="13.93" fill="#4393c3" stroke="none" stroke-width="1" />
<rect x="1207.52" y="340.67" width="9.12" height="13.93" fill="#92c5de" stroke="none" stroke-width="1" />
<rect x="1216.34" y="340.67" width="9.12" height="13.93" fill="#d1e5f0" stroke="none" stroke-width="1" />
<rect x="1225.17" y="340.67" width="35.59" height="13.93" fill="#4393c3" stroke="none" stroke-width="1" />
<rect x="1260.46" y="340.67" width="17.94" height="13.93" fill="#92c5de" stroke="none" stroke-width="1" />
<rect x="1278.1" y="340.67" width="9.12" height="13.93" fill="#4393c3" stroke="none" stroke-width="1" />
<rect x="1286.92" y="340.67" width="9.12" height="13.93" fill="#92c5de" stroke="none" stroke-width="1" />
<rect x="1295.74" y="340.67" width="9.12" height="13.93" fill="#2166ac" stroke="none" stroke-width="1" />
<rect x="1304.57" y="340.67" width="9.12" height="13.93" fill="#4393c3" stroke="none" stroke-width="1" />
<rect x="1313.39" y="340.67" width="9.12" height="13.93" fill="#92c5de" stroke="none" stroke-width="1" />
<rect x="1322.21" y="340.67" width="9.12" height="13.93" fill="#4393c3" stroke="none" stroke-width="1" />
<rect x="1331.03" y="340.67" width="9.12" height="13.93" fill="#92c5de" stroke="none" stroke-width="1" />
<rect x="1339.86" y="340.67" width="9.12" height="13.93" fill="#2166ac" stroke="none" stroke-width="1" />
<rect x="1348.68" y="340.67" width="9.12" height="13.93" fill="#92c5de" stroke="none" stroke-width="1" />
<rect x="960.5" y="354.3" width="9.12" height="13.93" fill="#fddbc7" stroke="none" stroke-width="1" />
<rect x="969.32" y="354.3" width="9.12" height="13.93" fill="#f4a582" stroke="none" stroke-width="1" />
<rect x="978.14" y="354.3" width="9.12" height="13.93" fill="#fddbc7" stroke="none" stroke-width="1" />
<rect x="986.97" y="354.3" width="9.12" height="13.93" fill="#f7f7f7" stroke="none" stroke-width="1" />
<rect x="995.79" y="354.3" width="9.12" height="13.93" fill="#fddbc7" stroke="none" stroke-width="1" />
<rect x="1004.61" y="354.3" width="17.94" height="13.93" fill="#f7f7f7" stroke="none" stroke-width="1" />
<rect x="1022.26" y="354.3" width="9.12" height="13.93" fill="#d1e5f0" stroke="none" stroke-width="1" />
<rect x="1031.08" y="354.3" width="17.94" height="13.93" fill="#f7f7f7" stroke="none" stroke-width="1" />
<rect x="1048.72" y="354.3" width="9.12" height="13.93" fill="#d1e5f0" stroke="none" stroke-width="1" />
<rect x="1057.54" y="354.3" width="9.12" height="13.93" fill="#f7f7f7" stroke="none" stroke-width="1" />
<rect x="1066.37" y="354.3" width="9.12" height="13.93" fill="#d1e5f0" stroke="none" stroke-width="1" />
<rect x="1075.19" y="354.3" width="35.59" height="13.93" fill="#f7f7f7" stroke="none" stroke-width="1" />
<rect x="1110.48" y="354.3" width="26.77" height="13.93" fill="#d1e5f0" stroke="none" stroke-width="1" />
<rect x="1136.94" y="354.3" width="9.12" height="13.93" fill="#f7f7f7" stroke="none" stroke-width="1" />
<rect x="1145.77" y="354.3" width="9.12" height="13.93" fill="#d1e5f0" stroke="none" stroke-width="1" />
<rect x="1154.59" y="354.3" width="9.12" height="13.93" fill="#4393c3" stroke="none" stroke-width="1" />
<rect x="1163.41" y="354.3" width="9.12" height="13.93" fill="#f7f7f7" stroke="none" stroke-width="1" />
<rect x="1172.23" y="354.3" width="17.94" height="13.93" fill="#d1e5f0" stroke="none" stroke-width="1" />
<rect x="1189.88" y="354.3" width="9.12" height="13.93" fill="#92c5de" stroke="none" stroke-width="1" />
<rect x="1198.7" y="354.3" width="35.59" height="13.93" fill="#d1e5f0" stroke="none" stroke-width="1" />
<rect x="1233.99" y="354.3" width="9.12" height="13.93" fill="#4393c3" stroke="none" stroke-width="1" />
<rect x="1242.81" y="354.3" width="9.12" height="13.93" fill="#92c5de" stroke="none" stroke-width="1" />
<rect x="1251.63" y="354.3" width="9.12" height="13.93" fill="#4393c3" stroke="none" stroke-width="1" />
<rect x="1260.46" y="354.3" width="26.77" height="13.93" fill="#d1e5f0" stroke="none" stroke-width="1" />
<rect x="1286.92" y="354.3" width="9.12" height="13.93" fill="#f7f7f7" stroke="none" stroke-width="1" />
<rect x="1295.74" y="354.3" width="9.12" height="13.93" fill="#4393c3" stroke="none" stroke-width="1" />
<rect x="1304.57" y="354.3" width="26.77" height="13.93" fill="#d1e5f0" stroke="none" stroke-width="1" />
<rect x="1331.03" y="354.3" width="9.12" height="13.93" fill="#f4a582" stroke="none" stroke-width="1" />
<rect x="1339.86" y="354.3" width="9.12" height="13.93" fill="#f7f7f7" stroke="none" stroke-width="1" />
<rect x="1348.68" y="354.3" width="9.12" height="13.93" fill="#92c5de" stroke="none" stroke-width="1" />
<rect x="960.5" y="367.94" width="17.94" height="13.93" fill="#fddbc7" stroke="none" stroke-width="1" />
<rect x="978.14" y="367.94" width="9.12" height="13.93" fill="#f7f7f7" stroke="none" stroke-width="1" />
<rect x="986.97" y="367.94" width="9.12" height="13.93" fill="#d1e5f0" stroke="none" stroke-width="1" />
<rect x="995.79" y="367.94" width="17.94" height="13.93" fill="#f7f7f7" stroke="none" stroke-width="1" />
<rect x="1013.43" y="367.94" width="9.12" height="13.93" fill="#d1e5f0" stroke="none" stroke-width="1" />
<rect x="1022.26" y="367.94" width="9.12" height="13.93" fill="#4393c3" stroke="none" stroke-width="1" />
<rect x="1031.08" y="367.94" width="26.77" height="13.93" fill="#d1e5f0" stroke="none" stroke-width="1" />
<rect x="1057.54" y="367.94" width="9.12" height="13.93" fill="#f7f7f7" stroke="none" stroke-width="1" />
<rect x="1066.37" y="367.94" width="9.12" height="13.93" fill="#92c5de" stroke="none" stroke-width="1" />
<rect x="1075.19" y="367.94" width="9.12" height="13.93" fill="#d1e5f0" stroke="none" stroke-width="1" />
<rect x="1084.01" y="367.94" width="17.94" height="13.93" fill="#f7f7f7" stroke="none" stroke-width="1" />
<rect x="1101.66" y="367.94" width="9.12" height="13.93" fill="#92c5de" stroke="none" stroke-width="1" />
<rect x="1110.48" y="367.94" width="17.94" height="13.93" fill="#f7f7f7" stroke="none" stroke-width="1" />
<rect x="1128.12" y="367.94" width="17.94" height="13.93" fill="#d1e5f0" stroke="none" stroke-width="1" />
<rect x="1145.77" y="367.94" width="9.12" height="13.93" fill="#92c5de" stroke="none" stroke-width="1" />
<rect x="1154.59" y="367.94" width="9.12" height="13.93" fill="#d1e5f0" stroke="none" stroke-width="1" />
<rect x="1163.41" y="367.94" width="9.12" height="13.93" fill="#fddbc7" stroke="none" stroke-width="1" />
<rect x="1172.23" y="367.94" width="9.12" height="13.93" fill="#d1e5f0" stroke="none" stroke-width="1" />
<rect x="1181.06" y="367.94" width="9.12" height="13.93" fill="#f7f7f7" stroke="none" stroke-width="1" />
<rect x="1189.88" y="367.94" width="9.12" height="13.93" fill="#d1e5f0" stroke="none" stroke-width="1" />
<rect x="1198.7" y="367.94" width="17.94" height="13.93" fill="#92c5de" stroke="none" stroke-width="1" />
<rect x="1216.34" y="367.94" width="9.12" height="13.93" fill="#f7f7f7" stroke="none" stroke-width="1" />
<rect x="1225.17" y="367.94" width="9.12" height="13.93" fill="#d1e5f0" stroke="none" stroke-width="1" />
<rect x="1233.99" y="367.94" width="17.94" height="13.93" fill="#92c5de" stroke="none" stroke-width="1" />
<rect x="1251.63" y="367.94" width="9.12" height="13.93" fill="#4393c3" stroke="none" stroke-width="1" />
<rect x="1260.46" y="367.94" width="17.94" height="13.93" fill="#d1e5f0" stroke="none" stroke-width="1" />
<rect x="1278.1" y="367.94" width="9.12" height="13.93" fill="#f7f7f7" stroke="none" stroke-width="1" />
<rect x="1286.92" y="367.94" width="9.12" height="13.93" fill="#d1e5f0" stroke="none" stroke-width="1" />
<rect x="1295.74" y="367.94" width="17.94" height="13.93" fill="#f7f7f7" stroke="none" stroke-width="1" />
<rect x="1313.39" y="367.94" width="9.12" height="13.93" fill="#92c5de" stroke="none" stroke-width="1" />
<rect x="1322.21" y="367.94" width="35.59" height="13.93" fill="#f7f7f7" stroke="none" stroke-width="1" />
<rect x="960.5" y="381.57" width="35.59" height="13.93" fill="#fddbc7" stroke="none" stroke-width="1" />
<rect x="995.79" y="381.57" width="26.77" height="13.93" fill="#f7f7f7" stroke="none" stroke-width="1" />
<rect x="1022.26" y="381.57" width="9.12" height="13.93" fill="#d1e5f0" stroke="none" stroke-width="1" />
<rect x="1031.08" y="381.57" width="9.12" height="13.93" fill="#f7f7f7" stroke="none" stroke-width="1" />
<rect x="1039.9" y="381.57" width="9.12" height="13.93" fill="#d1e5f0" stroke="none" stroke-width="1" />
<rect x="1048.72" y="381.57" width="9.12" height="13.93" fill="#f7f7f7" stroke="none" stroke-width="1" />
<rect x="1057.54" y="381.57" width="9.12" height="13.93" fill="#d1e5f0" stroke="none" stroke-width="1" />
<rect x="1066.37" y="381.57" width="9.12" height="13.93" fill="#92c5de" stroke="none" stroke-width="1" />
<rect x="1075.19" y="381.57" width="17.94" height="13.93" fill="#f7f7f7" stroke="none" stroke-width="1" />
<rect x="1092.83" y="381.57" width="44.41" height="13.93" fill="#d1e5f0" stroke="none" stroke-width="1" />
<rect x="1136.94" y="381.57" width="17.94" height="13.93" fill="#f7f7f7" stroke="none" stroke-width="1" />
<rect x="1154.59" y="381.57" width="9.12" height="13.93" fill="#d1e5f0" stroke="none" stroke-width="1" />
<rect x="1163.41" y="381.57" width="70.88" height="13.93" fill="#f7f7f7" stroke="none" stroke-width="1" />
<rect x="1233.99" y="381.57" width="17.94" height="13.93" fill="#d1e5f0" stroke="none" stroke-width="1" />
<rect x="1251.63" y="381.57" width="35.59" height="13.93" fill="#f7f7f7" stroke="none" stroke-width="1" />
<rect x="1286.92" y="381.57" width="17.94" height="13.93" fill="#92c5de" stroke="none" stroke-width="1" />
<rect x="1304.57" y="381.57" width="9.12" height="13.93" fill="#d1e5f0" stroke="none" stroke-width="1" />
<rect x="1313.39" y="381.57" width="9.12" height="13.93" fill="#92c5de" stroke="none" stroke-width="1" />
<rect x="1322.21" y="381.57" width="9.12" height="13.93" fill="#d1e5f0" stroke="none" stroke-width="1" />
<rect x="1331.03" y="381.57" width="9.12" height="13.93" fill="#4393c3" stroke="none" stroke-width="1" />
<rect x="1339.86" y="381.57" width="9.12" height="13.93" fill="#92c5de" stroke="none" stroke-width="1" />
<rect x="1348.68" y="381.57" width="9.12" height="13.93" fill="#d1e5f0" stroke="none" stroke-width="1" />
<rect x="960.5" y="395.2" width="17.94" height="13.93" fill="#fddbc7" stroke="none" stroke-width="1" />
<rect x="978.14" y="395.2" width="35.59" height="13.93" fill="#f7f7f7" stroke="none" stroke-width="1" />
<rect x="1013.43" y="395.2" width="9.12" height="13.93" fill="#d1e5f0" stroke="none" stroke-width="1" />
<rect x="1022.26" y="395.2" width="17.94" height="13.93" fill="#f7f7f7" stroke="none" stroke-width="1" />
<rect x="1039.9" y="395.2" width="9.12" height="13.93" fill="#d1e5f0" stroke="none" stroke-width="1" />
<rect x="1048.72" y="395.2" width="9.12" height="13.93" fill="#f7f7f7" stroke="none" stroke-width="1" />
<rect x="1057.54" y="395.2" width="79.7" height="13.93" fill="#d1e5f0" stroke="none" stroke-width="1" />
<rect x="1136.94" y="395.2" width="17.94" height="13.93" fill="#f7f7f7" stroke="none" stroke-width="1" />
<rect x="1154.59" y="395.2" width="9.12" height="13.93" fill="#d1e5f0" stroke="none" stroke-width="1" />
<rect x="1163.41" y="395.2" width="123.81" height="13.93" fill="#f7f7f7" stroke="none" stroke-width="1" />
<rect x="1286.92" y="395.2" width="44.41" height="13.93" fill="#d1e5f0" stroke="none" stroke-width="1" />
<rect x="1331.03" y="395.2" width="9.12" height="13.93" fill="#92c5de" stroke="none" stroke-width="1" />
<rect x="1339.86" y="395.2" width="17.94" height="13.93" fill="#d1e5f0" stroke="none" stroke-width="1" />
<rect x="960.5" y="408.83" width="9.12" height="13.93" fill="#f7f7f7" stroke="none" stroke-width="1" />
<rect x="969.32" y="408.83" width="9.12" height="13.93" fill="#fddbc7" stroke="none" stroke-width="1" />
<rect x="978.14" y="408.83" width="35.59" height="13.93" fill="#f7f7f7" stroke="none" stroke-width="1" />
<rect x="1013.43" y="408.83" width="17.94" height="13.93" fill="#d1e5f0" stroke="none" stroke-width="1" />
<rect x="1031.08" y="408.83" width="9.12" height="13.93" fill="#f7f7f7" stroke="none" stroke-width="1" />
<rect x="1039.9" y="408.83" width="62.06" height="13.93" fill="#d1e5f0" stroke="none" stroke-width="1" />
<rect x="1101.66" y="408.83" width="9.12" height="13.93" fill="#f7f7f7" stroke="none" stroke-width="1" />
<rect x="1110.48" y="408.83" width="53.23" height="13.93" fill="#d1e5f0" stroke="none" stroke-width="1" />
<rect x="1163.41" y="408.83" width="9.12" height="13.93" fill="#f7f7f7" stroke="none" stroke-width="1" />
<rect x="1172.23" y="408.83" width="9.12" height="13.93" fill="#d1e5f0" stroke="none" stroke-width="1" />
<rect x="1181.06" y="408.83" width="53.23" height="13.93" fill="#f7f7f7" stroke="none" stroke-width="1" />
<rect x="1233.99" y="408.83" width="17.94" height="13.93" fill="#d1e5f0" stroke="none" stroke-width="1" />
<rect x="1251.63" y="408.83" width="9.12" height="13.93" fill="#f7f7f7" stroke="none" stroke-width="1" />
<rect x="1260.46" y="408.83" width="9.12" height="13.93" fill="#d1e5f0" stroke="none" stroke-width="1" />
<rect x="1269.28" y="408.83" width="9.12" height="13.93" fill="#f7f7f7" stroke="none" stroke-width="1" />
<rect x="1278.1" y="408.83" width="44.41" height="13.93" fill="#d1e5f0" stroke="none" stroke-width="1" />
<rect x="1322.21" y="408.83" width="9.12" height="13.93" fill="#f7f7f7" stroke="none" stroke-width="1" />
<rect x="1331.03" y="408.83" width="9.12" height="13.93" fill="#92c5de" stroke="none" stroke-width="1" />
<rect x="1339.86" y="408.83" width="9.12" height="13.93" fill="#d1e5f0" stroke="none" stroke-width="1" />
<rect x="1348.68" y="408.83" width="9.12" height="13.93" fill="#f7f7f7" stroke="none" stroke-width="1" />
<rect x="960.5" y="422.46" width="9.12" height="13.93" fill="#fddbc7" stroke="none" stroke-width="1" />
<rect x="969.32" y="422.46" width="17.94" height="13.93" fill="#f4a582" stroke="none" stroke-width="1" />
<rect x="986.97" y="422.46" width="9.12" height="13.93" fill="#fddbc7" stroke="none" stroke-width="1" />
<rect x="995.79" y="422.46" width="9.12" height="13.93" fill="#f4a582" stroke="none" stroke-width="1" />
<rect x="1004.61" y="422.46" width="44.41" height="13.93" fill="#f7f7f7" stroke="none" stroke-width="1" />
<rect x="1048.72" y="422.46" width="53.23" height="13.93" fill="#d1e5f0" stroke="none" stroke-width="1" />
<rect x="1101.66" y="422.46" width="9.12" height="13.93" fill="#92c5de" stroke="none" stroke-width="1" />
<rect x="1110.48" y="422.46" width="44.41" height="13.93" fill="#d1e5f0" stroke="none" stroke-width="1" />
<rect x="1154.59" y="422.46" width="9.12" height="13.93" fill="#f7f7f7" stroke="none" stroke-width="1" />
<rect x="1163.41" y="422.46" width="9.12" height="13.93" fill="#d1e5f0" stroke="none" stroke-width="1" />
<rect x="1172.23" y="422.46" width="26.77" height="13.93" fill="#f7f7f7" stroke="none" stroke-width="1" />
<rect x="1198.7" y="422.46" width="9.12" height="13.93" fill="#fddbc7" stroke="none" stroke-width="1" />
<rect x="1207.52" y="422.46" width="35.59" height="13.93" fill="#f7f7f7" stroke="none" stroke-width="1" />
<rect x="1242.81" y="422.46" width="9.12" height="13.93" fill="#fddbc7" stroke="none" stroke-width="1" />
<rect x="1251.63" y="422.46" width="26.77" height="13.93" fill="#f7f7f7" stroke="none" stroke-width="1" />
<rect x="1278.1" y="422.46" width="9.12" height="13.93" fill="#d1e5f0" stroke="none" stroke-width="1" />
<rect x="1286.92" y="422.46" width="17.94" height="13.93" fill="#f7f7f7" stroke="none" stroke-width="1" />
<rect x="1304.57" y="422.46" width="9.12" height="13.93" fill="#d1e5f0" stroke="none" stroke-width="1" />
<rect x="1313.39" y="422.46" width="9.12" height="13.93" fill="#f4a582" stroke="none" stroke-width="1" />
<rect x="1322.21" y="422.46" width="26.77" height="13.93" fill="#f7f7f7" stroke="none" stroke-width="1" />
<rect x="1348.68" y="422.46" width="9.12" height="13.93" fill="#fddbc7" stroke="none" stroke-width="1" />
<rect x="960.5" y="436.1" width="9.12" height="13.93" fill="#f7f7f7" stroke="none" stroke-width="1" />
<rect x="969.32" y="436.1" width="9.12" height="13.93" fill="#fddbc7" stroke="none" stroke-width="1" />
<rect x="978.14" y="436.1" width="17.94" height="13.93" fill="#f7f7f7" stroke="none" stroke-width="1" />
<rect x="995.79" y="436.1" width="9.12" height="13.93" fill="#fddbc7" stroke="none" stroke-width="1" />
<rect x="1004.61" y="436.1" width="53.23" height="13.93" fill="#f7f7f7" stroke="none" stroke-width="1" />
<rect x="1057.54" y="436.1" width="35.59" height="13.93" fill="#d1e5f0" stroke="none" stroke-width="1" />
<rect x="1092.83" y="436.1" width="9.12" height="13.93" fill="#f7f7f7" stroke="none" stroke-width="1" />
<rect x="1101.66" y="436.1" width="35.59" height="13.93" fill="#d1e5f0" stroke="none" stroke-width="1" />
<rect x="1136.94" y="436.1" width="44.41" height="13.93" fill="#f7f7f7" stroke="none" stroke-width="1" />
<rect x="1181.06" y="436.1" width="9.12" height="13.93" fill="#fddbc7" stroke="none" stroke-width="1" />
<rect x="1189.88" y="436.1" width="9.12" height="13.93" fill="#f7f7f7" stroke="none" stroke-width="1" />
<rect x="1198.7" y="436.1" width="9.12" height="13.93" fill="#fddbc7" stroke="none" stroke-width="1" />
<rect x="1207.52" y="436.1" width="9.12" height="13.93" fill="#f7f7f7" stroke="none" stroke-width="1" />
<rect x="1216.34" y="436.1" width="9.12" height="13.93" fill="#fddbc7" stroke="none" stroke-width="1" />
<rect x="1225.17" y="436.1" width="9.12" height="13.93" fill="#f7f7f7" stroke="none" stroke-width="1" />
<rect x="1233.99" y="436.1" width="9.12" height="13.93" fill="#fddbc7" stroke="none" stroke-width="1" />
<rect x="1242.81" y="436.1" width="26.77" height="13.93" fill="#f7f7f7" stroke="none" stroke-width="1" />
<rect x="1269.28" y="436.1" width="9.12" height="13.93" fill="#fddbc7" stroke="none" stroke-width="1" />
<rect x="1278.1" y="436.1" width="9.12" height="13.93" fill="#f7f7f7" stroke="none" stroke-width="1" />
<rect x="1286.92" y="436.1" width="9.12" height="13.93" fill="#d1e5f0" stroke="none" stroke-width="1" />
<rect x="1295.74" y="436.1" width="17.94" height="13.93" fill="#f7f7f7" stroke="none" stroke-width="1" />
<rect x="1313.39" y="436.1" width="17.94" height="13.93" fill="#fddbc7" stroke="none" stroke-width="1" />
<rect x="1331.03" y="436.1" width="9.12" height="13.93" fill="#d1e5f0" stroke="none" stroke-width="1" />
<rect x="1339.86" y="436.1" width="9.12" height="13.93" fill="#fddbc7" stroke="none" stroke-width="1" />
<rect x="1348.68" y="436.1" width="9.12" height="13.93" fill="#f7f7f7" stroke="none" stroke-width="1" />
<rect x="960.5" y="449.73" width="9.12" height="13.93" fill="#d1e5f0" stroke="none" stroke-width="1" />
<rect x="969.32" y="449.73" width="17.94" height="13.93" fill="#f7f7f7" stroke="none" stroke-width="1" />
<rect x="986.97" y="449.73" width="9.12" height="13.93" fill="#d1e5f0" stroke="none" stroke-width="1" />
<rect x="995.79" y="449.73" width="62.06" height="13.93" fill="#f7f7f7" stroke="none" stroke-width="1" />
<rect x="1057.54" y="449.73" width="9.12" height="13.93" fill="#d1e5f0" stroke="none" stroke-width="1" />
<rect x="1066.37" y="449.73" width="9.12" height="13.93" fill="#f7f7f7" stroke="none" stroke-width="1" />
<rect x="1075.19" y="449.73" width="17.94" height="13.93" fill="#d1e5f0" stroke="none" stroke-width="1" />
<rect x="1092.83" y="449.73" width="62.06" height="13.93" fill="#f7f7f7" stroke="none" stroke-width="1" />
<rect x="1154.59" y="449.73" width="9.12" height="13.93" fill="#d1e5f0" stroke="none" stroke-width="1" />
<rect x="1163.41" y="449.73" width="17.94" height="13.93" fill="#f7f7f7" stroke="none" stroke-width="1" />
<rect x="1181.06" y="449.73" width="44.41" height="13.93" fill="#fddbc7" stroke="none" stroke-width="1" />
<rect x="1225.17" y="449.73" width="35.59" height="13.93" fill="#f7f7f7" stroke="none" stroke-width="1" />
<rect x="1260.46" y="449.73" width="26.77" height="13.93" fill="#d1e5f0" stroke="none" stroke-width="1" />
<rect x="1286.92" y="449.73" width="17.94" height="13.93" fill="#f7f7f7" stroke="none" stroke-width="1" />
<rect x="1304.57" y="449.73" width="9.12" height="13.93" fill="#d1e5f0" stroke="none" stroke-width="1" />
<rect x="1313.39" y="449.73" width="17.94" height="13.93" fill="#fddbc7" stroke="none" stroke-width="1" />
<rect x="1331.03" y="449.73" width="9.12" height="13.93" fill="#f7f7f7" stroke="none" stroke-width="1" />
<rect x="1339.86" y="449.73" width="17.94" height="13.93" fill="#fddbc7" stroke="none" stroke-width="1" />
<rect x="960.5" y="463.36" width="17.94" height="13.93" fill="#fddbc7" stroke="none" stroke-width="1" />
<rect x="978.14" y="463.36" width="53.23" height="13.93" fill="#f7f7f7" stroke="none" stroke-width="1" />
<rect x="1031.08" y="463.36" width="9.12" height="13.93" fill="#d1e5f0" stroke="none" stroke-width="1" />
<rect x="1039.9" y="463.36" width="17.94" height="13.93" fill="#f7f7f7" stroke="none" stroke-width="1" />
<rect x="1057.54" y="463.36" width="9.12" height="13.93" fill="#92c5de" stroke="none" stroke-width="1" />
<rect x="1066.37" y="463.36" width="9.12" height="13.93" fill="#d1e5f0" stroke="none" stroke-width="1" />
<rect x="1075.19" y="463.36" width="9.12" height="13.93" fill="#92c5de" stroke="none" stroke-width="1" />
<rect x="1084.01" y="463.36" width="9.12" height="13.93" fill="#d1e5f0" stroke="none" stroke-width="1" />
<rect x="1092.83" y="463.36" width="9.12" height="13.93" fill="#f7f7f7" stroke="none" stroke-width="1" />
<rect x="1101.66" y="463.36" width="9.12" height="13.93" fill="#d1e5f0" stroke="none" stroke-width="1" />
<rect x="1110.48" y="463.36" width="44.41" height="13.93" fill="#f7f7f7" stroke="none" stroke-width="1" />
<rect x="1154.59" y="463.36" width="9.12" height="13.93" fill="#d1e5f0" stroke="none" stroke-width="1" />
<rect x="1163.41" y="463.36" width="17.94" height="13.93" fill="#f7f7f7" stroke="none" stroke-width="1" />
<rect x="1181.06" y="463.36" width="44.41" height="13.93" fill="#fddbc7" stroke="none" stroke-width="1" />
<rect x="1225.17" y="463.36" width="9.12" height="13.93" fill="#f7f7f7" stroke="none" stroke-width="1" />
<rect x="1233.99" y="463.36" width="17.94" height="13.93" fill="#d1e5f0" stroke="none" stroke-width="1" />
<rect x="1251.63" y="463.36" width="17.94" height="13.93" fill="#f7f7f7" stroke="none" stroke-width="1" />
<rect x="1269.28" y="463.36" width="9.12" height="13.93" fill="#d1e5f0" stroke="none" stroke-width="1" />
<rect x="1278.1" y="463.36" width="9.12" height="13.93" fill="#f7f7f7" stroke="none" stroke-width="1" />
<rect x="1286.92" y="463.36" width="17.94" height="13.93" fill="#d1e5f0" stroke="none" stroke-width="1" />
<rect x="1304.57" y="463.36" width="9.12" height="13.93" fill="#f7f7f7" stroke="none" stroke-width="1" />
<rect x="1313.39" y="463.36" width="17.94" height="13.93" fill="#fddbc7" stroke="none" stroke-width="1" />
<rect x="1331.03" y="463.36" width="9.12" height="13.93" fill="#d1e5f0" stroke="none" stroke-width="1" />
<rect x="1339.86" y="463.36" width="9.12" height="13.93" fill="#f7f7f7" stroke="none" stroke-width="1" />
<rect x="1348.68" y="463.36" width="9.12" height="13.93" fill="#fddbc7" stroke="none" stroke-width="1" />
<rect x="960.5" y="476.99" width="17.94" height="13.93" fill="#f4a582" stroke="none" stroke-width="1" />
<rect x="978.14" y="476.99" width="9.12" height="13.93" fill="#fddbc7" stroke="none" stroke-width="1" />
<rect x="986.97" y="476.99" width="9.12" height="13.93" fill="#f4a582" stroke="none" stroke-width="1" />
<rect x="995.79" y="476.99" width="26.77" height="13.93" fill="#f7f7f7" stroke="none" stroke-width="1" />
<rect x="1022.26" y="476.99" width="9.12" height="13.93" fill="#d1e5f0" stroke="none" stroke-width="1" />
<rect x="1031.08" y="476.99" width="26.77" height="13.93" fill="#f7f7f7" stroke="none" stroke-width="1" />
<rect x="1057.54" y="476.99" width="9.12" height="13.93" fill="#92c5de" stroke="none" stroke-width="1" />
<rect x="1066.37" y="476.99" width="9.12" height="13.93" fill="#f7f7f7" stroke="none" stroke-width="1" />
<rect x="1075.19" y="476.99" width="9.12" height="13.93" fill="#92c5de" stroke="none" stroke-width="1" />
<rect x="1084.01" y="476.99" width="9.12" height="13.93" fill="#d1e5f0" stroke="none" stroke-width="1" />
<rect x="1092.83" y="476.99" width="9.12" height="13.93" fill="#f7f7f7" stroke="none" stroke-width="1" />
<rect x="1101.66" y="476.99" width="17.94" height="13.93" fill="#d1e5f0" stroke="none" stroke-width="1" />
<rect x="1119.3" y="476.99" width="26.77" height="13.93" fill="#f7f7f7" stroke="none" stroke-width="1" />
<rect x="1145.77" y="476.99" width="9.12" height="13.93" fill="#d1e5f0" stroke="none" stroke-width="1" />
<rect x="1154.59" y="476.99" width="9.12" height="13.93" fill="#f7f7f7" stroke="none" stroke-width="1" />
<rect x="1163.41" y="476.99" width="17.94" height="13.93" fill="#d1e5f0" stroke="none" stroke-width="1" />
<rect x="1181.06" y="476.99" width="9.12" height="13.93" fill="#f4a582" stroke="none" stroke-width="1" />
<rect x="1189.88" y="476.99" width="17.94" height="13.93" fill="#fddbc7" stroke="none" stroke-width="1" />
<rect x="1207.52" y="476.99" width="9.12" height="13.93" fill="#f4a582" stroke="none" stroke-width="1" />
<rect x="1216.34" y="476.99" width="9.12" height="13.93" fill="#fddbc7" stroke="none" stroke-width="1" />
<rect x="1225.17" y="476.99" width="17.94" height="13.93" fill="#f7f7f7" stroke="none" stroke-width="1" />
<rect x="1242.81" y="476.99" width="9.12" height="13.93" fill="#d1e5f0" stroke="none" stroke-width="1" />
<rect x="1251.63" y="476.99" width="17.94" height="13.93" fill="#f7f7f7" stroke="none" stroke-width="1" />
<rect x="1269.28" y="476.99" width="35.59" height="13.93" fill="#d1e5f0" stroke="none" stroke-width="1" />
<rect x="1304.57" y="476.99" width="9.12" height="13.93" fill="#f7f7f7" stroke="none" stroke-width="1" />
<rect x="1313.39" y="476.99" width="9.12" height="13.93" fill="#fddbc7" stroke="none" stroke-width="1" />
<rect x="1322.21" y="476.99" width="9.12" height="13.93" fill="#f4a582" stroke="none" stroke-width="1" />
<rect x="1331.03" y="476.99" width="9.12" height="13.93" fill="#d1e5f0" stroke="none" stroke-width="1" />
<rect x="1339.86" y="476.99" width="17.94" height="13.93" fill="#f4a582" stroke="none" stroke-width="1" />
<rect x="960.5" y="490.62" width="35.59" height="13.93" fill="#fddbc7" stroke="none" stroke-width="1" />
<rect x="995.79" y="490.62" width="62.06" height="13.93" fill="#f7f7f7" stroke="none" stroke-width="1" />
<rect x="1057.54" y="490.62" width="9.12" height="13.93" fill="#d1e5f0" stroke="none" stroke-width="1" />
<rect x="1066.37" y="490.62" width="9.12" height="13.93" fill="#f7f7f7" stroke="none" stroke-width="1" />
<rect x="1075.19" y="490.62" width="9.12" height="13.93" fill="#d1e5f0" stroke="none" stroke-width="1" />
<rect x="1084.01" y="490.62" width="44.41" height="13.93" fill="#f7f7f7" stroke="none" stroke-width="1" />
<rect x="1128.12" y="490.62" width="9.12" height="13.93" fill="#d1e5f0" stroke="none" stroke-width="1" />
<rect x="1136.94" y="490.62" width="9.12" height="13.93" fill="#f7f7f7" stroke="none" stroke-width="1" />
<rect x="1145.77" y="490.62" width="9.12" height="13.93" fill="#d1e5f0" stroke="none" stroke-width="1" />
<rect x="1154.59" y="490.62" width="9.12" height="13.93" fill="#f7f7f7" stroke="none" stroke-width="1" />
<rect x="1163.41" y="490.62" width="17.94" height="13.93" fill="#d1e5f0" stroke="none" stroke-width="1" />
<rect x="1181.06" y="490.62" width="53.23" height="13.93" fill="#fddbc7" stroke="none" stroke-width="1" />
<rect x="1233.99" y="490.62" width="9.12" height="13.93" fill="#f7f7f7" stroke="none" stroke-width="1" />
<rect x="1242.81" y="490.62" width="9.12" height="13.93" fill="#fddbc7" stroke="none" stroke-width="1" />
<rect x="1251.63" y="490.62" width="9.12" height="13.93" fill="#f7f7f7" stroke="none" stroke-width="1" />
<rect x="1260.46" y="490.62" width="9.12" height="13.93" fill="#fddbc7" stroke="none" stroke-width="1" />
<rect x="1269.28" y="490.62" width="35.59" height="13.93" fill="#f7f7f7" stroke="none" stroke-width="1" />
<rect x="1304.57" y="490.62" width="9.12" height="13.93" fill="#fddbc7" stroke="none" stroke-width="1" />
<rect x="1313.39" y="490.62" width="17.94" height="13.93" fill="#f4a582" stroke="none" stroke-width="1" />
<rect x="1331.03" y="490.62" width="9.12" height="13.93" fill="#f7f7f7" stroke="none" stroke-width="1" />
<rect x="1339.86" y="490.62" width="9.12" height="13.93" fill="#fddbc7" stroke="none" stroke-width="1" />
<rect x="1348.68" y="490.62" width="9.12" height="13.93" fill="#f4a582" stroke="none" stroke-width="1" />
<rect x="960.5" y="504.26" width="9.12" height="13.93" fill="#92c5de" stroke="none" stroke-width="1" />
<rect x="969.32" y="504.26" width="9.12" height="13.93" fill="#d6604d" stroke="none" stroke-width="1" />
<rect x="978.14" y="504.26" width="9.12" height="13.93" fill="#d1e5f0" stroke="none" stroke-width="1" />
<rect x="986.97" y="504.26" width="9.12" height="13.93" fill="#f7f7f7" stroke="none" stroke-width="1" />
<rect x="995.79" y="504.26" width="9.12" height="13.93" fill="#d1e5f0" stroke="none" stroke-width="1" />
<rect x="1004.61" y="504.26" width="9.12" height="13.93" fill="#f7f7f7" stroke="none" stroke-width="1" />
<rect x="1013.43" y="504.26" width="17.94" height="13.93" fill="#92c5de" stroke="none" stroke-width="1" />
<rect x="1031.08" y="504.26" width="9.12" height="13.93" fill="#d1e5f0" stroke="none" stroke-width="1" />
<rect x="1039.9" y="504.26" width="9.12" height="13.93" fill="#92c5de" stroke="none" stroke-width="1" />
<rect x="1048.72" y="504.26" width="9.12" height="13.93" fill="#f7f7f7" stroke="none" stroke-width="1" />
<rect x="1057.54" y="504.26" width="44.41" height="13.93" fill="#d1e5f0" stroke="none" stroke-width="1" />
<rect x="1101.66" y="504.26" width="17.94" height="13.93" fill="#f7f7f7" stroke="none" stroke-width="1" />
<rect x="1119.3" y="504.26" width="9.12" height="13.93" fill="#fddbc7" stroke="none" stroke-width="1" />
<rect x="1128.12" y="504.26" width="26.77" height="13.93" fill="#f7f7f7" stroke="none" stroke-width="1" />
<rect x="1154.59" y="504.26" width="9.12" height="13.93" fill="#fddbc7" stroke="none" stroke-width="1" />
<rect x="1163.41" y="504.26" width="17.94" height="13.93" fill="#f7f7f7" stroke="none" stroke-width="1" />
<rect x="1181.06" y="504.26" width="26.77" height="13.93" fill="#fddbc7" stroke="none" stroke-width="1" />
<rect x="1207.52" y="504.26" width="9.12" height="13.93" fill="#f7f7f7" stroke="none" stroke-width="1" />
<rect x="1216.34" y="504.26" width="9.12" height="13.93" fill="#fddbc7" stroke="none" stroke-width="1" />
<rect x="1225.17" y="504.26" width="9.12" height="13.93" fill="#f7f7f7" stroke="none" stroke-width="1" />
<rect x="1233.99" y="504.26" width="17.94" height="13.93" fill="#fddbc7" stroke="none" stroke-width="1" />
<rect x="1251.63" y="504.26" width="9.12" height="13.93" fill="#f4a582" stroke="none" stroke-width="1" />
<rect x="1260.46" y="504.26" width="35.59" height="13.93" fill="#fddbc7" stroke="none" stroke-width="1" />
<rect x="1295.74" y="504.26" width="9.12" height="13.93" fill="#f4a582" stroke="none" stroke-width="1" />
<rect x="1304.57" y="504.26" width="17.94" height="13.93" fill="#fddbc7" stroke="none" stroke-width="1" />
<rect x="1322.21" y="504.26" width="26.77" height="13.93" fill="#f4a582" stroke="none" stroke-width="1" />
<rect x="1348.68" y="504.26" width="9.12" height="13.93" fill="#fddbc7" stroke="none" stroke-width="1" />
<rect x="960.5" y="517.89" width="26.77" height="13.93" fill="#f7f7f7" stroke="none" stroke-width="1" />
<rect x="986.97" y="517.89" width="9.12" height="13.93" fill="#fddbc7" stroke="none" stroke-width="1" />
<rect x="995.79" y="517.89" width="17.94" height="13.93" fill="#f7f7f7" stroke="none" stroke-width="1" />
<rect x="1013.43" y="517.89" width="9.12" height="13.93" fill="#d1e5f0" stroke="none" stroke-width="1" />
<rect x="1022.26" y="517.89" width="9.12" height="13.93" fill="#f7f7f7" stroke="none" stroke-width="1" />
<rect x="1031.08" y="517.89" width="9.12" height="13.93" fill="#fddbc7" stroke="none" stroke-width="1" />
<rect x="1039.9" y="517.89" width="9.12" height="13.93" fill="#f7f7f7" stroke="none" stroke-width="1" />
<rect x="1048.72" y="517.89" width="9.12" height="13.93" fill="#92c5de" stroke="none" stroke-width="1" />
<rect x="1057.54" y="517.89" width="9.12" height="13.93" fill="#f7f7f7" stroke="none" stroke-width="1" />
<rect x="1066.37" y="517.89" width="9.12" height="13.93" fill="#fddbc7" stroke="none" stroke-width="1" />
<rect x="1075.19" y="517.89" width="44.41" height="13.93" fill="#f7f7f7" stroke="none" stroke-width="1" />
<rect x="1119.3" y="517.89" width="9.12" height="13.93" fill="#f4a582" stroke="none" stroke-width="1" />
<rect x="1128.12" y="517.89" width="26.77" height="13.93" fill="#f7f7f7" stroke="none" stroke-width="1" />
<rect x="1154.59" y="517.89" width="9.12" height="13.93" fill="#f4a582" stroke="none" stroke-width="1" />
<rect x="1163.41" y="517.89" width="9.12" height="13.93" fill="#d1e5f0" stroke="none" stroke-width="1" />
<rect x="1172.23" y="517.89" width="9.12" height="13.93" fill="#f7f7f7" stroke="none" stroke-width="1" />
<rect x="1181.06" y="517.89" width="17.94" height="13.93" fill="#fddbc7" stroke="none" stroke-width="1" />
<rect x="1198.7" y="517.89" width="9.12" height="13.93" fill="#f7f7f7" stroke="none" stroke-width="1" />
<rect x="1207.52" y="517.89" width="9.12" height="13.93" fill="#fddbc7" stroke="none" stroke-width="1" />
<rect x="1216.34" y="517.89" width="9.12" height="13.93" fill="#f4a582" stroke="none" stroke-width="1" />
<rect x="1225.17" y="517.89" width="9.12" height="13.93" fill="#fddbc7" stroke="none" stroke-width="1" />
<rect x="1233.99" y="517.89" width="17.94" height="13.93" fill="#f7f7f7" stroke="none" stroke-width="1" />
<rect x="1251.63" y="517.89" width="17.94" height="13.93" fill="#f4a582" stroke="none" stroke-width="1" />
<rect x="1269.28" y="517.89" width="17.94" height="13.93" fill="#fddbc7" stroke="none" stroke-width="1" />
<rect x="1286.92" y="517.89" width="9.12" height="13.93" fill="#f7f7f7" stroke="none" stroke-width="1" />
<rect x="1295.74" y="517.89" width="9.12" height="13.93" fill="#d6604d" stroke="none" stroke-width="1" />
<rect x="1304.57" y="517.89" width="26.77" height="13.93" fill="#fddbc7" stroke="none" stroke-width="1" />
<rect x="1331.03" y="517.89" width="9.12" height="13.93" fill="#d1e5f0" stroke="none" stroke-width="1" />
<rect x="1339.86" y="517.89" width="9.12" height="13.93" fill="#d6604d" stroke="none" stroke-width="1" />
<rect x="1348.68" y="517.89" width="9.12" height="13.93" fill="#fddbc7" stroke="none" stroke-width="1" />
<rect x="960.5" y="531.52" width="9.12" height="13.93" fill="#f7f7f7" stroke="none" stroke-width="1" />
<rect x="969.32" y="531.52" width="9.12" height="13.93" fill="#fddbc7" stroke="none" stroke-width="1" />
<rect x="978.14" y="531.52" width="17.94" height="13.93" fill="#f7f7f7" stroke="none" stroke-width="1" />
<rect x="995.79" y="531.52" width="17.94" height="13.93" fill="#fddbc7" stroke="none" stroke-width="1" />
<rect x="1013.43" y="531.52" width="9.12" height="13.93" fill="#f7f7f7" stroke="none" stroke-width="1" />
<rect x="1022.26" y="531.52" width="17.94" height="13.93" fill="#fddbc7" stroke="none" stroke-width="1" />
<rect x="1039.9" y="531.52" width="9.12" height="13.93" fill="#f7f7f7" stroke="none" stroke-width="1" />
<rect x="1048.72" y="531.52" width="17.94" height="13.93" fill="#fddbc7" stroke="none" stroke-width="1" />
<rect x="1066.37" y="531.52" width="9.12" height="13.93" fill="#f7f7f7" stroke="none" stroke-width="1" />
<rect x="1075.19" y="531.52" width="35.59" height="13.93" fill="#fddbc7" stroke="none" stroke-width="1" />
<rect x="1110.48" y="531.52" width="9.12" height="13.93" fill="#f7f7f7" stroke="none" stroke-width="1" />
<rect x="1119.3" y="531.52" width="9.12" height="13.93" fill="#fddbc7" stroke="none" stroke-width="1" />
<rect x="1128.12" y="531.52" width="9.12" height="13.93" fill="#f7f7f7" stroke="none" stroke-width="1" />
<rect x="1136.94" y="531.52" width="26.77" height="13.93" fill="#fddbc7" stroke="none" stroke-width="1" />
<rect x="1163.41" y="531.52" width="9.12" height="13.93" fill="#d1e5f0" stroke="none" stroke-width="1" />
<rect x="1172.23" y="531.52" width="9.12" height="13.93" fill="#f7f7f7" stroke="none" stroke-width="1" />
<rect x="1181.06" y="531.52" width="114.99" height="13.93" fill="#fddbc7" stroke="none" stroke-width="1" />
<rect x="1295.74" y="531.52" width="9.12" height="13.93" fill="#f7f7f7" stroke="none" stroke-width="1" />
<rect x="1304.57" y="531.52" width="53.23" height="13.93" fill="#fddbc7" stroke="none" stroke-width="1" />
<rect x="960.5" y="545.15" width="9.12" height="13.93" fill="#f7f7f7" stroke="none" stroke-width="1" />
<rect x="969.32" y="545.15" width="9.12" height="13.93" fill="#d1e5f0" stroke="none" stroke-width="1" />
<rect x="978.14" y="545.15" width="9.12" height="13.93" fill="#f7f7f7" stroke="none" stroke-width="1" />
<rect x="986.97" y="545.15" width="9.12" height="13.93" fill="#d1e5f0" stroke="none" stroke-width="1" />
<rect x="995.79" y="545.15" width="9.12" height="13.93" fill="#f7f7f7" stroke="none" stroke-width="1" />
<rect x="1004.61" y="545.15" width="9.12" height="13.93" fill="#92c5de" stroke="none" stroke-width="1" />
<rect x="1013.43" y="545.15" width="9.12" height="13.93" fill="#d1e5f0" stroke="none" stroke-width="1" />
<rect x="1022.26" y="545.15" width="9.12" height="13.93" fill="#fddbc7" stroke="none" stroke-width="1" />
<rect x="1031.08" y="545.15" width="17.94" height="13.93" fill="#d1e5f0" stroke="none" stroke-width="1" />
<rect x="1048.72" y="545.15" width="9.12" height="13.93" fill="#fddbc7" stroke="none" stroke-width="1" />
<rect x="1057.54" y="545.15" width="26.77" height="13.93" fill="#f7f7f7" stroke="none" stroke-width="1" />
<rect x="1084.01" y="545.15" width="9.12" height="13.93" fill="#f4a582" stroke="none" stroke-width="1" />
<rect x="1092.83" y="545.15" width="44.41" height="13.93" fill="#fddbc7" stroke="none" stroke-width="1" />
<rect x="1136.94" y="545.15" width="17.94" height="13.93" fill="#f4a582" stroke="none" stroke-width="1" />
<rect x="1154.59" y="545.15" width="9.12" height="13.93" fill="#d6604d" stroke="none" stroke-width="1" />
<rect x="1163.41" y="545.15" width="9.12" height="13.93" fill="#f7f7f7" stroke="none" stroke-width="1" />
<rect x="1172.23" y="545.15" width="9.12" height="13.93" fill="#d6604d" stroke="none" stroke-width="1" />
<rect x="1181.06" y="545.15" width="9.12" height="13.93" fill="#f7f7f7" stroke="none" stroke-width="1" />
<rect x="1189.88" y="545.15" width="9.12" height="13.93" fill="#f4a582" stroke="none" stroke-width="1" />
<rect x="1198.7" y="545.15" width="9.12" height="13.93" fill="#fddbc7" stroke="none" stroke-width="1" />
<rect x="1207.52" y="545.15" width="9.12" height="13.93" fill="#d6604d" stroke="none" stroke-width="1" />
<rect x="1216.34" y="545.15" width="9.12" height="13.93" fill="#fddbc7" stroke="none" stroke-width="1" />
<rect x="1225.17" y="545.15" width="9.12" height="13.93" fill="#d6604d" stroke="none" stroke-width="1" />
<rect x="1233.99" y="545.15" width="35.59" height="13.93" fill="#fddbc7" stroke="none" stroke-width="1" />
<rect x="1269.28" y="545.15" width="17.94" height="13.93" fill="#f4a582" stroke="none" stroke-width="1" />
<rect x="1286.92" y="545.15" width="9.12" height="13.93" fill="#f7f7f7" stroke="none" stroke-width="1" />
<rect x="1295.74" y="545.15" width="17.94" height="13.93" fill="#fddbc7" stroke="none" stroke-width="1" />
<rect x="1313.39" y="545.15" width="9.12" height="13.93" fill="#f7f7f7" stroke="none" stroke-width="1" />
<rect x="1322.21" y="545.15" width="9.12" height="13.93" fill="#d1e5f0" stroke="none" stroke-width="1" />
<rect x="1331.03" y="545.15" width="9.12" height="13.93" fill="#f4a582" stroke="none" stroke-width="1" />
<rect x="1339.86" y="545.15" width="9.12" height="13.93" fill="#fddbc7" stroke="none" stroke-width="1" />
<rect x="1348.68" y="545.15" width="9.12" height="13.93" fill="#f7f7f7" stroke="none" stroke-width="1" />
<rect x="960.5" y="558.78" width="26.77" height="13.93" fill="#f7f7f7" stroke="none" stroke-width="1" />
<rect x="986.97" y="558.78" width="9.12" height="13.93" fill="#053061" stroke="none" stroke-width="1" />
<rect x="995.79" y="558.78" width="9.12" height="13.93" fill="#fddbc7" stroke="none" stroke-width="1" />
<rect x="1004.61" y="558.78" width="17.94" height="13.93" fill="#f7f7f7" stroke="none" stroke-width="1" />
<rect x="1022.26" y="558.78" width="9.12" height="13.93" fill="#4393c3" stroke="none" stroke-width="1" />
<rect x="1031.08" y="558.78" width="9.12" height="13.93" fill="#f7f7f7" stroke="none" stroke-width="1" />
<rect x="1039.9" y="558.78" width="9.12" height="13.93" fill="#fddbc7" stroke="none" stroke-width="1" />
<rect x="1048.72" y="558.78" width="17.94" height="13.93" fill="#92c5de" stroke="none" stroke-width="1" />
<rect x="1066.37" y="558.78" width="53.23" height="13.93" fill="#d1e5f0" stroke="none" stroke-width="1" />
<rect x="1119.3" y="558.78" width="9.12" height="13.93" fill="#92c5de" stroke="none" stroke-width="1" />
<rect x="1128.12" y="558.78" width="9.12" height="13.93" fill="#d1e5f0" stroke="none" stroke-width="1" />
<rect x="1136.94" y="558.78" width="9.12" height="13.93" fill="#fddbc7" stroke="none" stroke-width="1" />
<rect x="1145.77" y="558.78" width="9.12" height="13.93" fill="#4393c3" stroke="none" stroke-width="1" />
<rect x="1154.59" y="558.78" width="9.12" height="13.93" fill="#d1e5f0" stroke="none" stroke-width="1" />
<rect x="1163.41" y="558.78" width="9.12" height="13.93" fill="#fddbc7" stroke="none" stroke-width="1" />
<rect x="1172.23" y="558.78" width="17.94" height="13.93" fill="#f7f7f7" stroke="none" stroke-width="1" />
<rect x="1189.88" y="558.78" width="9.12" height="13.93" fill="#f4a582" stroke="none" stroke-width="1" />
<rect x="1198.7" y="558.78" width="9.12" height="13.93" fill="#fddbc7" stroke="none" stroke-width="1" />
<rect x="1207.52" y="558.78" width="9.12" height="13.93" fill="#d1e5f0" stroke="none" stroke-width="1" />
<rect x="1216.34" y="558.78" width="9.12" height="13.93" fill="#fddbc7" stroke="none" stroke-width="1" />
<rect x="1225.17" y="558.78" width="17.94" height="13.93" fill="#f7f7f7" stroke="none" stroke-width="1" />
<rect x="1242.81" y="558.78" width="9.12" height="13.93" fill="#92c5de" stroke="none" stroke-width="1" />
<rect x="1251.63" y="558.78" width="17.94" height="13.93" fill="#f7f7f7" stroke="none" stroke-width="1" />
<rect x="1269.28" y="558.78" width="17.94" height="13.93" fill="#fddbc7" stroke="none" stroke-width="1" />
<rect x="1286.92" y="558.78" width="17.94" height="13.93" fill="#f7f7f7" stroke="none" stroke-width="1" />
<rect x="1304.57" y="558.78" width="9.12" height="13.93" fill="#fddbc7" stroke="none" stroke-width="1" />
<rect x="1313.39" y="558.78" width="9.12" height="13.93" fill="#f4a582" stroke="none" stroke-width="1" />
<rect x="1322.21" y="558.78" width="9.12" height="13.93" fill="#d6604d" stroke="none" stroke-width="1" />
<rect x="1331.03" y="558.78" width="26.77" height="13.93" fill="#fddbc7" stroke="none" stroke-width="1" />
<rect x="960.5" y="572.42" width="17.94" height="13.93" fill="#d1e5f0" stroke="none" stroke-width="1" />
<rect x="978.14" y="572.42" width="9.12" height="13.93" fill="#f7f7f7" stroke="none" stroke-width="1" />
<rect x="986.97" y="572.42" width="9.12" height="13.93" fill="#2166ac" stroke="none" stroke-width="1" />
<rect x="995.79" y="572.42" width="26.77" height="13.93" fill="#f7f7f7" stroke="none" stroke-width="1" />
<rect x="1022.26" y="572.42" width="9.12" height="13.93" fill="#d1e5f0" stroke="none" stroke-width="1" />
<rect x="1031.08" y="572.42" width="9.12" height="13.93" fill="#92c5de" stroke="none" stroke-width="1" />
<rect x="1039.9" y="572.42" width="9.12" height="13.93" fill="#f7f7f7" stroke="none" stroke-width="1" />
<rect x="1048.72" y="572.42" width="9.12" height="13.93" fill="#d1e5f0" stroke="none" stroke-width="1" />
<rect x="1057.54" y="572.42" width="9.12" height="13.93" fill="#92c5de" stroke="none" stroke-width="1" />
<rect x="1066.37" y="572.42" width="17.94" height="13.93" fill="#d1e5f0" stroke="none" stroke-width="1" />
<rect x="1084.01" y="572.42" width="26.77" height="13.93" fill="#f7f7f7" stroke="none" stroke-width="1" />
<rect x="1110.48" y="572.42" width="17.94" height="13.93" fill="#d1e5f0" stroke="none" stroke-width="1" />
<rect x="1128.12" y="572.42" width="9.12" height="13.93" fill="#f7f7f7" stroke="none" stroke-width="1" />
<rect x="1136.94" y="572.42" width="9.12" height="13.93" fill="#fddbc7" stroke="none" stroke-width="1" />
<rect x="1145.77" y="572.42" width="9.12" height="13.93" fill="#f7f7f7" stroke="none" stroke-width="1" />
<rect x="1154.59" y="572.42" width="9.12" height="13.93" fill="#d1e5f0" stroke="none" stroke-width="1" />
<rect x="1163.41" y="572.42" width="9.12" height="13.93" fill="#f7f7f7" stroke="none" stroke-width="1" />
<rect x="1172.23" y="572.42" width="17.94" height="13.93" fill="#fddbc7" stroke="none" stroke-width="1" />
<rect x="1189.88" y="572.42" width="9.12" height="13.93" fill="#f7f7f7" stroke="none" stroke-width="1" />
<rect x="1198.7" y="572.42" width="9.12" height="13.93" fill="#f4a582" stroke="none" stroke-width="1" />
<rect x="1207.52" y="572.42" width="9.12" height="13.93" fill="#f7f7f7" stroke="none" stroke-width="1" />
<rect x="1216.34" y="572.42" width="9.12" height="13.93" fill="#fddbc7" stroke="none" stroke-width="1" />
<rect x="1225.17" y="572.42" width="35.59" height="13.93" fill="#f7f7f7" stroke="none" stroke-width="1" />
<rect x="1260.46" y="572.42" width="17.94" height="13.93" fill="#d1e5f0" stroke="none" stroke-width="1" />
<rect x="1278.1" y="572.42" width="35.59" height="13.93" fill="#f7f7f7" stroke="none" stroke-width="1" />
<rect x="1313.39" y="572.42" width="35.59" height="13.93" fill="#fddbc7" stroke="none" stroke-width="1" />
<rect x="1348.68" y="572.42" width="9.12" height="13.93" fill="#f7f7f7" stroke="none" stroke-width="1" />
<rect x="960.5" y="586.05" width="26.77" height="13.93" fill="#d1e5f0" stroke="none" stroke-width="1" />
<rect x="986.97" y="586.05" width="9.12" height="13.93" fill="#92c5de" stroke="none" stroke-width="1" />
<rect x="995.79" y="586.05" width="9.12" height="13.93" fill="#d1e5f0" stroke="none" stroke-width="1" />
<rect x="1004.61" y="586.05" width="53.23" height="13.93" fill="#f7f7f7" stroke="none" stroke-width="1" />
<rect x="1057.54" y="586.05" width="35.59" height="13.93" fill="#d1e5f0" stroke="none" stroke-width="1" />
<rect x="1092.83" y="586.05" width="9.12" height="13.93" fill="#f7f7f7" stroke="none" stroke-width="1" />
<rect x="1101.66" y="586.05" width="9.12" height="13.93" fill="#d1e5f0" stroke="none" stroke-width="1" />
<rect x="1110.48" y="586.05" width="9.12" height="13.93" fill="#f7f7f7" stroke="none" stroke-width="1" />
<rect x="1119.3" y="586.05" width="9.12" height="13.93" fill="#d1e5f0" stroke="none" stroke-width="1" />
<rect x="1128.12" y="586.05" width="26.77" height="13.93" fill="#f7f7f7" stroke="none" stroke-width="1" />
<rect x="1154.59" y="586.05" width="9.12" height="13.93" fill="#d1e5f0" stroke="none" stroke-width="1" />
<rect x="1163.41" y="586.05" width="62.06" height="13.93" fill="#fddbc7" stroke="none" stroke-width="1" />
<rect x="1225.17" y="586.05" width="17.94" height="13.93" fill="#d1e5f0" stroke="none" stroke-width="1" />
<rect x="1242.81" y="586.05" width="17.94" height="13.93" fill="#f7f7f7" stroke="none" stroke-width="1" />
<rect x="1260.46" y="586.05" width="9.12" height="13.93" fill="#d1e5f0" stroke="none" stroke-width="1" />
<rect x="1269.28" y="586.05" width="88.52" height="13.93" fill="#f7f7f7" stroke="none" stroke-width="1" />
<rect x="960.5" y="599.68" width="26.77" height="13.93" fill="#92c5de" stroke="none" stroke-width="1" />
<rect x="986.97" y="599.68" width="9.12" height="13.93" fill="#4393c3" stroke="none" stroke-width="1" />
<rect x="995.79" y="599.68" width="9.12" height="13.93" fill="#92c5de" stroke="none" stroke-width="1" />
<rect x="1004.61" y="599.68" width="9.12" height="13.93" fill="#d1e5f0" stroke="none" stroke-width="1" />
<rect x="1013.43" y="599.68" width="9.12" height="13.93" fill="#fddbc7" stroke="none" stroke-width="1" />
<rect x="1022.26" y="599.68" width="35.59" height="13.93" fill="#f7f7f7" stroke="none" stroke-width="1" />
<rect x="1057.54" y="599.68" width="35.59" height="13.93" fill="#d1e5f0" stroke="none" stroke-width="1" />
<rect x="1092.83" y="599.68" width="62.06" height="13.93" fill="#f7f7f7" stroke="none" stroke-width="1" />
<rect x="1154.59" y="599.68" width="9.12" height="13.93" fill="#d1e5f0" stroke="none" stroke-width="1" />
<rect x="1163.41" y="599.68" width="26.77" height="13.93" fill="#fddbc7" stroke="none" stroke-width="1" />
<rect x="1189.88" y="599.68" width="9.12" height="13.93" fill="#f7f7f7" stroke="none" stroke-width="1" />
<rect x="1198.7" y="599.68" width="26.77" height="13.93" fill="#fddbc7" stroke="none" stroke-width="1" />
<rect x="1225.17" y="599.68" width="9.12" height="13.93" fill="#d1e5f0" stroke="none" stroke-width="1" />
<rect x="1233.99" y="599.68" width="123.81" height="13.93" fill="#f7f7f7" stroke="none" stroke-width="1" />
<rect x="960.5" y="613.31" width="9.12" height="13.93" fill="#d1e5f0" stroke="none" stroke-width="1" />
<rect x="969.32" y="613.31" width="9.12" height="13.93" fill="#92c5de" stroke="none" stroke-width="1" />
<rect x="978.14" y="613.31" width="9.12" height="13.93" fill="#d1e5f0" stroke="none" stroke-width="1" />
<rect x="986.97" y="613.31" width="17.94" height="13.93" fill="#92c5de" stroke="none" stroke-width="1" />
<rect x="1004.61" y="613.31" width="9.12" height="13.93" fill="#f7f7f7" stroke="none" stroke-width="1" />
<rect x="1013.43" y="613.31" width="9.12" height="13.93" fill="#fddbc7" stroke="none" stroke-width="1" />
<rect x="1022.26" y="613.31" width="44.41" height="13.93" fill="#f7f7f7" stroke="none" stroke-width="1" />
<rect x="1066.37" y="613.31" width="17.94" height="13.93" fill="#d1e5f0" stroke="none" stroke-width="1" />
<rect x="1084.01" y="613.31" width="62.06" height="13.93" fill="#f7f7f7" stroke="none" stroke-width="1" />
<rect x="1145.77" y="613.31" width="17.94" height="13.93" fill="#d1e5f0" stroke="none" stroke-width="1" />
<rect x="1163.41" y="613.31" width="17.94" height="13.93" fill="#f7f7f7" stroke="none" stroke-width="1" />
<rect x="1181.06" y="613.31" width="9.12" height="13.93" fill="#f4a582" stroke="none" stroke-width="1" />
<rect x="1189.88" y="613.31" width="9.12" height="13.93" fill="#fddbc7" stroke="none" stroke-width="1" />
<rect x="1198.7" y="613.31" width="9.12" height="13.93" fill="#f7f7f7" stroke="none" stroke-width="1" />
<rect x="1207.52" y="613.31" width="9.12" height="13.93" fill="#fddbc7" stroke="none" stroke-width="1" />
<rect x="1216.34" y="613.31" width="9.12" height="13.93" fill="#f4a582" stroke="none" stroke-width="1" />
<rect x="1225.17" y="613.31" width="9.12" height="13.93" fill="#f7f7f7" stroke="none" stroke-width="1" />
<rect x="1233.99" y="613.31" width="9.12" height="13.93" fill="#d1e5f0" stroke="none" stroke-width="1" />
<rect x="1242.81" y="613.31" width="35.59" height="13.93" fill="#f7f7f7" stroke="none" stroke-width="1" />
<rect x="1278.1" y="613.31" width="9.12" height="13.93" fill="#d1e5f0" stroke="none" stroke-width="1" />
<rect x="1286.92" y="613.31" width="26.77" height="13.93" fill="#f7f7f7" stroke="none" stroke-width="1" />
<rect x="1313.39" y="613.31" width="9.12" height="13.93" fill="#fddbc7" stroke="none" stroke-width="1" />
<rect x="1322.21" y="613.31" width="26.77" height="13.93" fill="#f7f7f7" stroke="none" stroke-width="1" />
<rect x="1348.68" y="613.31" width="9.12" height="13.93" fill="#fddbc7" stroke="none" stroke-width="1" />
<rect x="960.5" y="626.94" width="26.77" height="13.93" fill="#92c5de" stroke="none" stroke-width="1" />
<rect x="986.97" y="626.94" width="17.94" height="13.93" fill="#4393c3" stroke="none" stroke-width="1" />
<rect x="1004.61" y="626.94" width="9.12" height="13.93" fill="#d1e5f0" stroke="none" stroke-width="1" />
<rect x="1013.43" y="626.94" width="9.12" height="13.93" fill="#fddbc7" stroke="none" stroke-width="1" />
<rect x="1022.26" y="626.94" width="35.59" height="13.93" fill="#f7f7f7" stroke="none" stroke-width="1" />
<rect x="1057.54" y="626.94" width="35.59" height="13.93" fill="#d1e5f0" stroke="none" stroke-width="1" />
<rect x="1092.83" y="626.94" width="62.06" height="13.93" fill="#f7f7f7" stroke="none" stroke-width="1" />
<rect x="1154.59" y="626.94" width="9.12" height="13.93" fill="#d1e5f0" stroke="none" stroke-width="1" />
<rect x="1163.41" y="626.94" width="17.94" height="13.93" fill="#f7f7f7" stroke="none" stroke-width="1" />
<rect x="1181.06" y="626.94" width="9.12" height="13.93" fill="#f4a582" stroke="none" stroke-width="1" />
<rect x="1189.88" y="626.94" width="26.77" height="13.93" fill="#fddbc7" stroke="none" stroke-width="1" />
<rect x="1216.34" y="626.94" width="9.12" height="13.93" fill="#f4a582" stroke="none" stroke-width="1" />
<rect x="1225.17" y="626.94" width="17.94" height="13.93" fill="#d1e5f0" stroke="none" stroke-width="1" />
<rect x="1242.81" y="626.94" width="17.94" height="13.93" fill="#f7f7f7" stroke="none" stroke-width="1" />
<rect x="1260.46" y="626.94" width="9.12" height="13.93" fill="#d1e5f0" stroke="none" stroke-width="1" />
<rect x="1269.28" y="626.94" width="9.12" height="13.93" fill="#f7f7f7" stroke="none" stroke-width="1" />
<rect x="1278.1" y="626.94" width="17.94" height="13.93" fill="#d1e5f0" stroke="none" stroke-width="1" />
<rect x="1295.74" y="626.94" width="9.12" height="13.93" fill="#f7f7f7" stroke="none" stroke-width="1" />
<rect x="1304.57" y="626.94" width="9.12" height="13.93" fill="#d1e5f0" stroke="none" stroke-width="1" />
<rect x="1313.39" y="626.94" width="17.94" height="13.93" fill="#fddbc7" stroke="none" stroke-width="1" />
<rect x="1331.03" y="626.94" width="17.94" height="13.93" fill="#f7f7f7" stroke="none" stroke-width="1" />
<rect x="1348.68" y="626.94" width="9.12" height="13.93" fill="#fddbc7" stroke="none" stroke-width="1" />
<rect x="960.5" y="640.58" width="9.12" height="13.93" fill="#92c5de" stroke="none" stroke-width="1" />
<rect x="969.32" y="640.58" width="9.12" height="13.93" fill="#4393c3" stroke="none" stroke-width="1" />
<rect x="978.14" y="640.58" width="9.12" height="13.93" fill="#92c5de" stroke="none" stroke-width="1" />
<rect x="986.97" y="640.58" width="9.12" height="13.93" fill="#4393c3" stroke="none" stroke-width="1" />
<rect x="995.79" y="640.58" width="9.12" height="13.93" fill="#92c5de" stroke="none" stroke-width="1" />
<rect x="1004.61" y="640.58" width="9.12" height="13.93" fill="#f7f7f7" stroke="none" stroke-width="1" />
<rect x="1013.43" y="640.58" width="9.12" height="13.93" fill="#fddbc7" stroke="none" stroke-width="1" />
<rect x="1022.26" y="640.58" width="35.59" height="13.93" fill="#f7f7f7" stroke="none" stroke-width="1" />
<rect x="1057.54" y="640.58" width="35.59" height="13.93" fill="#d1e5f0" stroke="none" stroke-width="1" />
<rect x="1092.83" y="640.58" width="9.12" height="13.93" fill="#f7f7f7" stroke="none" stroke-width="1" />
<rect x="1101.66" y="640.58" width="9.12" height="13.93" fill="#d1e5f0" stroke="none" stroke-width="1" />
<rect x="1110.48" y="640.58" width="44.41" height="13.93" fill="#f7f7f7" stroke="none" stroke-width="1" />
<rect x="1154.59" y="640.58" width="9.12" height="13.93" fill="#d1e5f0" stroke="none" stroke-width="1" />
<rect x="1163.41" y="640.58" width="17.94" height="13.93" fill="#f7f7f7" stroke="none" stroke-width="1" />
<rect x="1181.06" y="640.58" width="9.12" height="13.93" fill="#f4a582" stroke="none" stroke-width="1" />
<rect x="1189.88" y="640.58" width="17.94" height="13.93" fill="#fddbc7" stroke="none" stroke-width="1" />
<rect x="1207.52" y="640.58" width="9.12" height="13.93" fill="#f4a582" stroke="none" stroke-width="1" />
<rect x="1216.34" y="640.58" width="9.12" height="13.93" fill="#fddbc7" stroke="none" stroke-width="1" />
<rect x="1225.17" y="640.58" width="9.12" height="13.93" fill="#f7f7f7" stroke="none" stroke-width="1" />
<rect x="1233.99" y="640.58" width="9.12" height="13.93" fill="#d1e5f0" stroke="none" stroke-width="1" />
<rect x="1242.81" y="640.58" width="35.59" height="13.93" fill="#f7f7f7" stroke="none" stroke-width="1" />
<rect x="1278.1" y="640.58" width="26.77" height="13.93" fill="#d1e5f0" stroke="none" stroke-width="1" />
<rect x="1304.57" y="640.58" width="9.12" height="13.93" fill="#f7f7f7" stroke="none" stroke-width="1" />
<rect x="1313.39" y="640.58" width="9.12" height="13.93" fill="#fddbc7" stroke="none" stroke-width="1" />
<rect x="1322.21" y="640.58" width="26.77" height="13.93" fill="#f7f7f7" stroke="none" stroke-width="1" />
<rect x="1348.68" y="640.58" width="9.12" height="13.93" fill="#fddbc7" stroke="none" stroke-width="1" />
<rect x="960.5" y="654.21" width="17.94" height="13.93" fill="#2166ac" stroke="none" stroke-width="1" />
<rect x="978.14" y="654.21" width="9.12" height="13.93" fill="#92c5de" stroke="none" stroke-width="1" />
<rect x="986.97" y="654.21" width="9.12" height="13.93" fill="#4393c3" stroke="none" stroke-width="1" />
<rect x="995.79" y="654.21" width="9.12" height="13.93" fill="#92c5de" stroke="none" stroke-width="1" />
<rect x="1004.61" y="654.21" width="9.12" height="13.93" fill="#f7f7f7" stroke="none" stroke-width="1" />
<rect x="1013.43" y="654.21" width="9.12" height="13.93" fill="#fddbc7" stroke="none" stroke-width="1" />
<rect x="1022.26" y="654.21" width="35.59" height="13.93" fill="#f7f7f7" stroke="none" stroke-width="1" />
<rect x="1057.54" y="654.21" width="9.12" height="13.93" fill="#d1e5f0" stroke="none" stroke-width="1" />
<rect x="1066.37" y="654.21" width="9.12" height="13.93" fill="#92c5de" stroke="none" stroke-width="1" />
<rect x="1075.19" y="654.21" width="17.94" height="13.93" fill="#d1e5f0" stroke="none" stroke-width="1" />
<rect x="1092.83" y="654.21" width="9.12" height="13.93" fill="#f7f7f7" stroke="none" stroke-width="1" />
<rect x="1101.66" y="654.21" width="9.12" height="13.93" fill="#d1e5f0" stroke="none" stroke-width="1" />
<rect x="1110.48" y="654.21" width="9.12" height="13.93" fill="#f7f7f7" stroke="none" stroke-width="1" />
<rect x="1119.3" y="654.21" width="9.12" height="13.93" fill="#d1e5f0" stroke="none" stroke-width="1" />
<rect x="1128.12" y="654.21" width="26.77" height="13.93" fill="#f7f7f7" stroke="none" stroke-width="1" />
<rect x="1154.59" y="654.21" width="9.12" height="13.93" fill="#d1e5f0" stroke="none" stroke-width="1" />
<rect x="1163.41" y="654.21" width="17.94" height="13.93" fill="#f7f7f7" stroke="none" stroke-width="1" />
<rect x="1181.06" y="654.21" width="17.94" height="13.93" fill="#fddbc7" stroke="none" stroke-width="1" />
<rect x="1198.7" y="654.21" width="9.12" height="13.93" fill="#f4a582" stroke="none" stroke-width="1" />
<rect x="1207.52" y="654.21" width="9.12" height="13.93" fill="#fddbc7" stroke="none" stroke-width="1" />
<rect x="1216.34" y="654.21" width="9.12" height="13.93" fill="#f4a582" stroke="none" stroke-width="1" />
<rect x="1225.17" y="654.21" width="26.77" height="13.93" fill="#d1e5f0" stroke="none" stroke-width="1" />
<rect x="1251.63" y="654.21" width="9.12" height="13.93" fill="#fddbc7" stroke="none" stroke-width="1" />
<rect x="1260.46" y="654.21" width="9.12" height="13.93" fill="#d1e5f0" stroke="none" stroke-width="1" />
<rect x="1269.28" y="654.21" width="17.94" height="13.93" fill="#f7f7f7" stroke="none" stroke-width="1" />
<rect x="1286.92" y="654.21" width="9.12" height="13.93" fill="#d1e5f0" stroke="none" stroke-width="1" />
<rect x="1295.74" y="654.21" width="9.12" height="13.93" fill="#f7f7f7" stroke="none" stroke-width="1" />
<rect x="1304.57" y="654.21" width="9.12" height="13.93" fill="#d1e5f0" stroke="none" stroke-width="1" />
<rect x="1313.39" y="654.21" width="9.12" height="13.93" fill="#fddbc7" stroke="none" stroke-width="1" />
<rect x="1322.21" y="654.21" width="9.12" height="13.93" fill="#f4a582" stroke="none" stroke-width="1" />
<rect x="1331.03" y="654.21" width="26.77" height="13.93" fill="#fddbc7" stroke="none" stroke-width="1" />
<rect x="960.5" y="667.84" width="9.12" height="13.93" fill="#2166ac" stroke="none" stroke-width="1" />
<rect x="969.32" y="667.84" width="9.12" height="13.93" fill="#053061" stroke="none" stroke-width="1" />
<rect x="978.14" y="667.84" width="9.12" height="13.93" fill="#4393c3" stroke="none" stroke-width="1" />
<rect x="986.97" y="667.84" width="9.12" height="13.93" fill="#2166ac" stroke="none" stroke-width="1" />
<rect x="995.79" y="667.84" width="9.12" height="13.93" fill="#4393c3" stroke="none" stroke-width="1" />
<rect x="1004.61" y="667.84" width="9.12" height="13.93" fill="#92c5de" stroke="none" stroke-width="1" />
<rect x="1013.43" y="667.84" width="9.12" height="13.93" fill="#f7f7f7" stroke="none" stroke-width="1" />
<rect x="1022.26" y="667.84" width="9.12" height="13.93" fill="#4393c3" stroke="none" stroke-width="1" />
<rect x="1031.08" y="667.84" width="9.12" height="13.93" fill="#d1e5f0" stroke="none" stroke-width="1" />
<rect x="1039.9" y="667.84" width="9.12" height="13.93" fill="#92c5de" stroke="none" stroke-width="1" />
<rect x="1048.72" y="667.84" width="9.12" height="13.93" fill="#d1e5f0" stroke="none" stroke-width="1" />
<rect x="1057.54" y="667.84" width="17.94" height="13.93" fill="#92c5de" stroke="none" stroke-width="1" />
<rect x="1075.19" y="667.84" width="9.12" height="13.93" fill="#d1e5f0" stroke="none" stroke-width="1" />
<rect x="1084.01" y="667.84" width="9.12" height="13.93" fill="#92c5de" stroke="none" stroke-width="1" />
<rect x="1092.83" y="667.84" width="26.77" height="13.93" fill="#f7f7f7" stroke="none" stroke-width="1" />
<rect x="1119.3" y="667.84" width="9.12" height="13.93" fill="#d1e5f0" stroke="none" stroke-width="1" />
<rect x="1128.12" y="667.84" width="9.12" height="13.93" fill="#f7f7f7" stroke="none" stroke-width="1" />
<rect x="1136.94" y="667.84" width="17.94" height="13.93" fill="#fddbc7" stroke="none" stroke-width="1" />
<rect x="1154.59" y="667.84" width="9.12" height="13.93" fill="#d1e5f0" stroke="none" stroke-width="1" />
<rect x="1163.41" y="667.84" width="26.77" height="13.93" fill="#fddbc7" stroke="none" stroke-width="1" />
<rect x="1189.88" y="667.84" width="9.12" height="13.93" fill="#f7f7f7" stroke="none" stroke-width="1" />
<rect x="1198.7" y="667.84" width="9.12" height="13.93" fill="#f4a582" stroke="none" stroke-width="1" />
<rect x="1207.52" y="667.84" width="9.12" height="13.93" fill="#fddbc7" stroke="none" stroke-width="1" />
<rect x="1216.34" y="667.84" width="9.12" height="13.93" fill="#f4a582" stroke="none" stroke-width="1" />
<rect x="1225.17" y="667.84" width="17.94" height="13.93" fill="#f7f7f7" stroke="none" stroke-width="1" />
<rect x="1242.81" y="667.84" width="9.12" height="13.93" fill="#fddbc7" stroke="none" stroke-width="1" />
<rect x="1251.63" y="667.84" width="17.94" height="13.93" fill="#f7f7f7" stroke="none" stroke-width="1" />
<rect x="1269.28" y="667.84" width="17.94" height="13.93" fill="#fddbc7" stroke="none" stroke-width="1" />
<rect x="1286.92" y="667.84" width="17.94" height="13.93" fill="#f7f7f7" stroke="none" stroke-width="1" />
<rect x="1304.57" y="667.84" width="35.59" height="13.93" fill="#fddbc7" stroke="none" stroke-width="1" />
<rect x="1339.86" y="667.84" width="9.12" height="13.93" fill="#f7f7f7" stroke="none" stroke-width="1" />
<rect x="1348.68" y="667.84" width="9.12" height="13.93" fill="#fddbc7" stroke="none" stroke-width="1" />
<rect x="960.5" y="681.47" width="17.94" height="13.93" fill="#4393c3" stroke="none" stroke-width="1" />
<rect x="978.14" y="681.47" width="9.12" height="13.93" fill="#92c5de" stroke="none" stroke-width="1" />
<rect x="986.97" y="681.47" width="17.94" height="13.93" fill="#4393c3" stroke="none" stroke-width="1" />
<rect x="1004.61" y="681.47" width="9.12" height="13.93" fill="#92c5de" stroke="none" stroke-width="1" />
<rect x="1013.43" y="681.47" width="9.12" height="13.93" fill="#d1e5f0" stroke="none" stroke-width="1" />
<rect x="1022.26" y="681.47" width="9.12" height="13.93" fill="#92c5de" stroke="none" stroke-width="1" />
<rect x="1031.08" y="681.47" width="35.59" height="13.93" fill="#d1e5f0" stroke="none" stroke-width="1" />
<rect x="1066.37" y="681.47" width="9.12" height="13.93" fill="#fddbc7" stroke="none" stroke-width="1" />
<rect x="1075.19" y="681.47" width="9.12" height="13.93" fill="#f7f7f7" stroke="none" stroke-width="1" />
<rect x="1084.01" y="681.47" width="9.12" height="13.93" fill="#fddbc7" stroke="none" stroke-width="1" />
<rect x="1092.83" y="681.47" width="26.77" height="13.93" fill="#f4a582" stroke="none" stroke-width="1" />
<rect x="1119.3" y="681.47" width="17.94" height="13.93" fill="#fddbc7" stroke="none" stroke-width="1" />
<rect x="1136.94" y="681.47" width="17.94" height="13.93" fill="#f4a582" stroke="none" stroke-width="1" />
<rect x="1154.59" y="681.47" width="17.94" height="13.93" fill="#fddbc7" stroke="none" stroke-width="1" />
<rect x="1172.23" y="681.47" width="9.12" height="13.93" fill="#f4a582" stroke="none" stroke-width="1" />
<rect x="1181.06" y="681.47" width="9.12" height="13.93" fill="#f7f7f7" stroke="none" stroke-width="1" />
<rect x="1189.88" y="681.47" width="9.12" height="13.93" fill="#d1e5f0" stroke="none" stroke-width="1" />
<rect x="1198.7" y="681.47" width="9.12" height="13.93" fill="#f7f7f7" stroke="none" stroke-width="1" />
<rect x="1207.52" y="681.47" width="9.12" height="13.93" fill="#d1e5f0" stroke="none" stroke-width="1" />
<rect x="1216.34" y="681.47" width="26.77" height="13.93" fill="#fddbc7" stroke="none" stroke-width="1" />
<rect x="1242.81" y="681.47" width="9.12" height="13.93" fill="#f7f7f7" stroke="none" stroke-width="1" />
<rect x="1251.63" y="681.47" width="17.94" height="13.93" fill="#fddbc7" stroke="none" stroke-width="1" />
<rect x="1269.28" y="681.47" width="17.94" height="13.93" fill="#f4a582" stroke="none" stroke-width="1" />
<rect x="1286.92" y="681.47" width="9.12" height="13.93" fill="#fddbc7" stroke="none" stroke-width="1" />
<rect x="1295.74" y="681.47" width="17.94" height="13.93" fill="#f4a582" stroke="none" stroke-width="1" />
<rect x="1313.39" y="681.47" width="9.12" height="13.93" fill="#fddbc7" stroke="none" stroke-width="1" />
<rect x="1322.21" y="681.47" width="17.94" height="13.93" fill="#f7f7f7" stroke="none" stroke-width="1" />
<rect x="1339.86" y="681.47" width="17.94" height="13.93" fill="#d1e5f0" stroke="none" stroke-width="1" />
<rect x="960.5" y="695.1" width="17.94" height="13.93" fill="#4393c3" stroke="none" stroke-width="1" />
<rect x="978.14" y="695.1" width="9.12" height="13.93" fill="#92c5de" stroke="none" stroke-width="1" />
<rect x="986.97" y="695.1" width="9.12" height="13.93" fill="#4393c3" stroke="none" stroke-width="1" />
<rect x="995.79" y="695.1" width="35.59" height="13.93" fill="#92c5de" stroke="none" stroke-width="1" />
<rect x="1031.08" y="695.1" width="9.12" height="13.93" fill="#4393c3" stroke="none" stroke-width="1" />
<rect x="1039.9" y="695.1" width="9.12" height="13.93" fill="#92c5de" stroke="none" stroke-width="1" />
<rect x="1048.72" y="695.1" width="9.12" height="13.93" fill="#d1e5f0" stroke="none" stroke-width="1" />
<rect x="1057.54" y="695.1" width="9.12" height="13.93" fill="#92c5de" stroke="none" stroke-width="1" />
<rect x="1066.37" y="695.1" width="17.94" height="13.93" fill="#fddbc7" stroke="none" stroke-width="1" />
<rect x="1084.01" y="695.1" width="9.12" height="13.93" fill="#f7f7f7" stroke="none" stroke-width="1" />
<rect x="1092.83" y="695.1" width="26.77" height="13.93" fill="#f4a582" stroke="none" stroke-width="1" />
<rect x="1119.3" y="695.1" width="9.12" height="13.93" fill="#f7f7f7" stroke="none" stroke-width="1" />
<rect x="1128.12" y="695.1" width="9.12" height="13.93" fill="#fddbc7" stroke="none" stroke-width="1" />
<rect x="1136.94" y="695.1" width="17.94" height="13.93" fill="#f4a582" stroke="none" stroke-width="1" />
<rect x="1154.59" y="695.1" width="9.12" height="13.93" fill="#fddbc7" stroke="none" stroke-width="1" />
<rect x="1163.41" y="695.1" width="17.94" height="13.93" fill="#f4a582" stroke="none" stroke-width="1" />
<rect x="1181.06" y="695.1" width="9.12" height="13.93" fill="#d1e5f0" stroke="none" stroke-width="1" />
<rect x="1189.88" y="695.1" width="9.12" height="13.93" fill="#92c5de" stroke="none" stroke-width="1" />
<rect x="1198.7" y="695.1" width="9.12" height="13.93" fill="#f7f7f7" stroke="none" stroke-width="1" />
<rect x="1207.52" y="695.1" width="9.12" height="13.93" fill="#92c5de" stroke="none" stroke-width="1" />
<rect x="1216.34" y="695.1" width="9.12" height="13.93" fill="#d1e5f0" stroke="none" stroke-width="1" />
<rect x="1225.17" y="695.1" width="9.12" height="13.93" fill="#fddbc7" stroke="none" stroke-width="1" />
<rect x="1233.99" y="695.1" width="17.94" height="13.93" fill="#f7f7f7" stroke="none" stroke-width="1" />
<rect x="1251.63" y="695.1" width="9.12" height="13.93" fill="#fddbc7" stroke="none" stroke-width="1" />
<rect x="1260.46" y="695.1" width="9.12" height="13.93" fill="#f7f7f7" stroke="none" stroke-width="1" />
<rect x="1269.28" y="695.1" width="9.12" height="13.93" fill="#f4a582" stroke="none" stroke-width="1" />
<rect x="1278.1" y="695.1" width="9.12" height="13.93" fill="#d6604d" stroke="none" stroke-width="1" />
<rect x="1286.92" y="695.1" width="9.12" height="13.93" fill="#fddbc7" stroke="none" stroke-width="1" />
<rect x="1295.74" y="695.1" width="17.94" height="13.93" fill="#f4a582" stroke="none" stroke-width="1" />
<rect x="1313.39" y="695.1" width="9.12" height="13.93" fill="#d1e5f0" stroke="none" stroke-width="1" />
<rect x="1322.21" y="695.1" width="17.94" height="13.93" fill="#f7f7f7" stroke="none" stroke-width="1" />
<rect x="1339.86" y="695.1" width="17.94" height="13.93" fill="#d1e5f0" stroke="none" stroke-width="1" />
<rect x="960.5" y="708.74" width="9.12" height="13.93" fill="#053061" stroke="none" stroke-width="1" />
<rect x="969.32" y="708.74" width="9.12" height="13.93" fill="#2166ac" stroke="none" stroke-width="1" />
<rect x="978.14" y="708.74" width="9.12" height="13.93" fill="#053061" stroke="none" stroke-width="1" />
<rect x="986.97" y="708.74" width="9.12" height="13.93" fill="#2166ac" stroke="none" stroke-width="1" />
<rect x="995.79" y="708.74" width="9.12" height="13.93" fill="#4393c3" stroke="none" stroke-width="1" />
<rect x="1004.61" y="708.74" width="9.12" height="13.93" fill="#92c5de" stroke="none" stroke-width="1" />
<rect x="1013.43" y="708.74" width="9.12" height="13.93" fill="#d1e5f0" stroke="none" stroke-width="1" />
<rect x="1022.26" y="708.74" width="9.12" height="13.93" fill="#92c5de" stroke="none" stroke-width="1" />
<rect x="1031.08" y="708.74" width="9.12" height="13.93" fill="#4393c3" stroke="none" stroke-width="1" />
<rect x="1039.9" y="708.74" width="17.94" height="13.93" fill="#d1e5f0" stroke="none" stroke-width="1" />
<rect x="1057.54" y="708.74" width="9.12" height="13.93" fill="#92c5de" stroke="none" stroke-width="1" />
<rect x="1066.37" y="708.74" width="9.12" height="13.93" fill="#fddbc7" stroke="none" stroke-width="1" />
<rect x="1075.19" y="708.74" width="44.41" height="13.93" fill="#f4a582" stroke="none" stroke-width="1" />
<rect x="1119.3" y="708.74" width="9.12" height="13.93" fill="#fddbc7" stroke="none" stroke-width="1" />
<rect x="1128.12" y="708.74" width="9.12" height="13.93" fill="#f4a582" stroke="none" stroke-width="1" />
<rect x="1136.94" y="708.74" width="17.94" height="13.93" fill="#d6604d" stroke="none" stroke-width="1" />
<rect x="1154.59" y="708.74" width="26.77" height="13.93" fill="#f4a582" stroke="none" stroke-width="1" />
<rect x="1181.06" y="708.74" width="9.12" height="13.93" fill="#d1e5f0" stroke="none" stroke-width="1" />
<rect x="1189.88" y="708.74" width="9.12" height="13.93" fill="#4393c3" stroke="none" stroke-width="1" />
<rect x="1198.7" y="708.74" width="9.12" height="13.93" fill="#f7f7f7" stroke="none" stroke-width="1" />
<rect x="1207.52" y="708.74" width="9.12" height="13.93" fill="#92c5de" stroke="none" stroke-width="1" />
<rect x="1216.34" y="708.74" width="9.12" height="13.93" fill="#f7f7f7" stroke="none" stroke-width="1" />
<rect x="1225.17" y="708.74" width="26.77" height="13.93" fill="#fddbc7" stroke="none" stroke-width="1" />
<rect x="1251.63" y="708.74" width="9.12" height="13.93" fill="#f4a582" stroke="none" stroke-width="1" />
<rect x="1260.46" y="708.74" width="9.12" height="13.93" fill="#fddbc7" stroke="none" stroke-width="1" />
<rect x="1269.28" y="708.74" width="9.12" height="13.93" fill="#d6604d" stroke="none" stroke-width="1" />
<rect x="1278.1" y="708.74" width="17.94" height="13.93" fill="#f4a582" stroke="none" stroke-width="1" />
<rect x="1295.74" y="708.74" width="9.12" height="13.93" fill="#d6604d" stroke="none" stroke-width="1" />
<rect x="1304.57" y="708.74" width="9.12" height="13.93" fill="#f4a582" stroke="none" stroke-width="1" />
<rect x="1313.39" y="708.74" width="17.94" height="13.93" fill="#d1e5f0" stroke="none" stroke-width="1" />
<rect x="1331.03" y="708.74" width="9.12" height="13.93" fill="#f7f7f7" stroke="none" stroke-width="1" />
<rect x="1339.86" y="708.74" width="9.12" height="13.93" fill="#d1e5f0" stroke="none" stroke-width="1" />
<rect x="1348.68" y="708.74" width="9.12" height="13.93" fill="#2166ac" stroke="none" stroke-width="1" />
<rect x="960.5" y="722.37" width="9.12" height="13.93" fill="#4393c3" stroke="none" stroke-width="1" />
<rect x="969.32" y="722.37" width="53.23" height="13.93" fill="#2166ac" stroke="none" stroke-width="1" />
<rect x="1022.26" y="722.37" width="9.12" height="13.93" fill="#4393c3" stroke="none" stroke-width="1" />
<rect x="1031.08" y="722.37" width="17.94" height="13.93" fill="#2166ac" stroke="none" stroke-width="1" />
<rect x="1048.72" y="722.37" width="26.77" height="13.93" fill="#f7f7f7" stroke="none" stroke-width="1" />
<rect x="1075.19" y="722.37" width="9.12" height="13.93" fill="#d1e5f0" stroke="none" stroke-width="1" />
<rect x="1084.01" y="722.37" width="17.94" height="13.93" fill="#fddbc7" stroke="none" stroke-width="1" />
<rect x="1101.66" y="722.37" width="17.94" height="13.93" fill="#f4a582" stroke="none" stroke-width="1" />
<rect x="1119.3" y="722.37" width="17.94" height="13.93" fill="#fddbc7" stroke="none" stroke-width="1" />
<rect x="1136.94" y="722.37" width="17.94" height="13.93" fill="#d6604d" stroke="none" stroke-width="1" />
<rect x="1154.59" y="722.37" width="17.94" height="13.93" fill="#f4a582" stroke="none" stroke-width="1" />
<rect x="1172.23" y="722.37" width="9.12" height="13.93" fill="#d6604d" stroke="none" stroke-width="1" />
<rect x="1181.06" y="722.37" width="17.94" height="13.93" fill="#92c5de" stroke="none" stroke-width="1" />
<rect x="1198.7" y="722.37" width="9.12" height="13.93" fill="#d1e5f0" stroke="none" stroke-width="1" />
<rect x="1207.52" y="722.37" width="9.12" height="13.93" fill="#92c5de" stroke="none" stroke-width="1" />
<rect x="1216.34" y="722.37" width="17.94" height="13.93" fill="#f7f7f7" stroke="none" stroke-width="1" />
<rect x="1233.99" y="722.37" width="9.12" height="13.93" fill="#fddbc7" stroke="none" stroke-width="1" />
<rect x="1242.81" y="722.37" width="9.12" height="13.93" fill="#f7f7f7" stroke="none" stroke-width="1" />
<rect x="1251.63" y="722.37" width="9.12" height="13.93" fill="#f4a582" stroke="none" stroke-width="1" />
<rect x="1260.46" y="722.37" width="9.12" height="13.93" fill="#f7f7f7" stroke="none" stroke-width="1" />
<rect x="1269.28" y="722.37" width="9.12" height="13.93" fill="#d6604d" stroke="none" stroke-width="1" />
<rect x="1278.1" y="722.37" width="9.12" height="13.93" fill="#f4a582" stroke="none" stroke-width="1" />
<rect x="1286.92" y="722.37" width="9.12" height="13.93" fill="#fddbc7" stroke="none" stroke-width="1" />
<rect x="1295.74" y="722.37" width="9.12" height="13.93" fill="#d6604d" stroke="none" stroke-width="1" />
<rect x="1304.57" y="722.37" width="9.12" height="13.93" fill="#f4a582" stroke="none" stroke-width="1" />
<rect x="1313.39" y="722.37" width="17.94" height="13.93" fill="#d1e5f0" stroke="none" stroke-width="1" />
<rect x="1331.03" y="722.37" width="9.12" height="13.93" fill="#f7f7f7" stroke="none" stroke-width="1" />
<rect x="1339.86" y="722.37" width="9.12" height="13.93" fill="#92c5de" stroke="none" stroke-width="1" />
<rect x="1348.68" y="722.37" width="9.12" height="13.93" fill="#d1e5f0" stroke="none" stroke-width="1" />
</g>
<rect x="960.5" y="54.4" width="397" height="681.6" fill="none" stroke="#333" stroke-width="1.2" />
<text x="1159.5" y="17.6" font-size="22.5" text-anchor="middle" fill="#000" >MR</text>
<line x1="967" y1="26.3" x2="1359.5" y2="23.9" stroke="#f0101a" stroke-width="2.7" />
<text x="961.5" y="45" font-size="22.5" text-anchor="start" fill="#000" >0d</text>
<text x="1357" y="45" font-size="22.5" text-anchor="end" fill="#000" >21d</text>
<text x="1364.7" y="67.6" font-size="16.7" text-anchor="start" fill="#000" >bilirubin</text>
<text x="1364.7" y="81.22" font-size="16.7" text-anchor="start" fill="#000" >thiosulfate</text>
<text x="1364.7" y="94.84" font-size="16.7" text-anchor="start" fill="#000" >Taurodeoxycholic acid/taurochenodeoxycholate</text>
<text x="1364.7" y="108.46" font-size="16.7" text-anchor="start" fill="#000" >Deoxyinosine</text>
<text x="1364.7" y="122.08" font-size="16.7" text-anchor="start" fill="#000" >S-(2-Methylpropanoyl)-dihydrolipoamide</text>
<text x="1364.7" y="135.7" font-size="16.7" text-anchor="start" fill="#000" >C20H30O2(4)</text>
<text x="1364.7" y="149.32" font-size="16.7" text-anchor="start" fill="#000" >6(S)-hydroxy-tetradeca-2E4E8Z-trienoate/6(R)-hydroxy-tetradeca-2E4E8Z-trienoate</text>
<text x="1364.7" y="162.94" font-size="16.7" text-anchor="start" fill="#000" >adenosine</text>
<text x="1364.7" y="176.56" font-size="16.7" text-anchor="start" fill="#000" >Glycyl-phenylalanine</text>
<text x="1364.7" y="190.18" font-size="16.7" text-anchor="start" fill="#000" >C4H8O3(3)</text>
<text x="1364.7" y="203.8" font-size="16.7" text-anchor="start" fill="#000" >2-Hydroxybutyric acid</text>
<text x="1364.7" y="217.42" font-size="16.7" text-anchor="start" fill="#000" >decenoyl carnitine</text>
<text x="1364.7" y="231.04" font-size="16.7" text-anchor="start" fill="#000" >octenoyl carnitine</text>
<text x="1364.7" y="244.66" font-size="16.7" text-anchor="start" fill="#000" >decanoyl carnitine</text>
<text x="1364.7" y="258.28" font-size="16.7" text-anchor="start" fill="#000" >lauroyl carnitine</text>
<text x="1364.7" y="271.9" font-size="16.7" text-anchor="start" fill="#000" >C14H24O3(4)</text>
<text x="1364.7" y="285.52" font-size="16.7" text-anchor="start" fill="#000" >alpha-linolenyl carnitine/gamma-linolenyl carnitine</text>
<text x="1364.7" y="299.14" font-size="16.7" text-anchor="start" fill="#000" >3-hydroxyhexadecanoylcarnitine</text>
<text x="1364.7" y="312.76" font-size="16.7" text-anchor="start" fill="#000" >15(S)-Hydroxyeicosatrienoic acid</text>
<text x="1364.7" y="326.38" font-size="16.7" text-anchor="start" fill="#000" >C20H28O2(7)</text>
<text x="1364.7" y="340" font-size="16.7" text-anchor="start" fill="#000" >C20H30O3(6)</text>
<text x="1364.7" y="353.62" font-size="16.7" text-anchor="start" fill="#000" >Hypotaurine</text>
<text x="1364.7" y="367.24" font-size="16.7" text-anchor="start" fill="#000" >N-acetyl-L-cystathionine</text>
<text x="1364.7" y="380.86" font-size="16.7" text-anchor="start" fill="#000" >L-homocysteine</text>
<text x="1364.7" y="394.48" font-size="16.7" text-anchor="start" fill="#000" >2-keto-4-methylthiobutyrate</text>
<text x="1364.7" y="408.1" font-size="16.7" text-anchor="start" fill="#000" >Methionine sulfoxide</text>
<text x="1364.7" y="421.72" font-size="16.7" text-anchor="start" fill="#000" >L-methionine</text>
<text x="1364.7" y="435.34" font-size="16.7" text-anchor="start" fill="#000" >(4-hydroxy-3-methoxyphenyl)acetaldehyde</text>
<text x="1364.7" y="448.96" font-size="16.7" text-anchor="start" fill="#000" >malate(2-)</text>
<text x="1364.7" y="462.58" font-size="16.7" text-anchor="start" fill="#000" >ribose-phosphate</text>
<text x="1364.7" y="476.2" font-size="16.7" text-anchor="start" fill="#000" >Hypoxanthine</text>
<text x="1364.7" y="489.82" font-size="16.7" text-anchor="start" fill="#000" >inosine</text>
<text x="1364.7" y="503.44" font-size="16.7" text-anchor="start" fill="#000" >guanosine</text>
<text x="1364.7" y="517.06" font-size="16.7" text-anchor="start" fill="#000" >L-histidine</text>
<text x="1364.7" y="530.68" font-size="16.7" text-anchor="start" fill="#000" >24-oxo-1alpha-23-25-trihydroxyvitamin D3</text>
<text x="1364.7" y="544.3" font-size="16.7" text-anchor="start" fill="#000" >gama-L-glutamyl-L-alpha-aminobutyrate</text>
<text x="1364.7" y="557.92" font-size="16.7" text-anchor="start" fill="#000" >N1,N12-diacetylspermidine</text>
<text x="1364.7" y="571.54" font-size="16.7" text-anchor="start" fill="#000" >2-keto-3-deoxy-D-glycero-D-galactononic acid 9-phosphate</text>
<text x="1364.7" y="585.16" font-size="16.7" text-anchor="start" fill="#000" >IMP</text>
<text x="1364.7" y="598.78" font-size="16.7" text-anchor="start" fill="#000" >Dihydroxyacetone phosphate</text>
<text x="1364.7" y="612.4" font-size="16.7" text-anchor="start" fill="#000" >Phosphoenolpyruvate</text>
<text x="1364.7" y="626.02" font-size="16.7" text-anchor="start" fill="#000" >G6P/F6P</text>
<text x="1364.7" y="639.64" font-size="16.7" text-anchor="start" fill="#000" >Sedoheptulose 7-phosphate</text>
<text x="1364.7" y="653.26" font-size="16.7" text-anchor="start" fill="#000" >D-Erythrose 4-phosphate</text>
<text x="1364.7" y="666.88" font-size="16.7" text-anchor="start" fill="#000" >dUDP</text>
<text x="1364.7" y="680.5" font-size="16.7" text-anchor="start" fill="#000" >beta-D-Fructose 1,6-bisphosphate</text>
<text x="1364.7" y="694.12" font-size="16.7" text-anchor="start" fill="#000" >UMP</text>
<text x="1364.7" y="707.74" font-size="16.7" text-anchor="start" fill="#000" >AMP</text>
<text x="1364.7" y="721.36" font-size="16.7" text-anchor="start" fill="#000" >ADP-ribose</text>
<text x="1364.7" y="734.98" font-size="16.7" text-anchor="start" fill="#000" >UDP</text>
<path d="M951.2 75.62H823.4V89.24H951.2" fill="none" stroke="#f00000" stroke-width="2" />
<path d="M823.4 82.43H807.9V102.86H951.2" fill="none" stroke="#f00000" stroke-width="1.8" />
<path d="M951.2 62H769.8V92.65H807.9" fill="none" stroke="#000" stroke-width="1.8" />
<path d="M951.2 130.1H900V143.72H951.2" fill="none" stroke="#14f0f0" stroke-width="2" />
<path d="M951.2 116.48H886.6V136.91H900" fill="none" stroke="#14f0f0" stroke-width="2" />
<path d="M951.2 157.34H890.4V170.96H951.2" fill="none" stroke="#14f0f0" stroke-width="2" />
<path d="M951.2 184.58H941.9V198.2H951.2" fill="none" stroke="#14f0f0" stroke-width="2" />
<path d="M951.2 211.82H932V225.44H951.2" fill="none" stroke="#14f0f0" stroke-width="2" />
<path d="M932 218.63H928V239.06H951.2" fill="none" stroke="#14f0f0" stroke-width="2" />
<path d="M951.2 252.68H928.9V266.3H951.2" fill="none" stroke="#14f0f0" stroke-width="2" />
<path d="M928.9 259.49H911.6V279.92H951.2" fill="none" stroke="#14f0f0" stroke-width="2" />
<path d="M928 228.84H906.6V269.7H911.6" fill="none" stroke="#14f0f0" stroke-width="2" />
<path d="M941.9 191.39H898.7V249.27H906.6" fill="none" stroke="#14f0f0" stroke-width="2" />
<path d="M890.4 164.15H866.2V220.33H898.7" fill="none" stroke="#14f0f0" stroke-width="2" />
<path d="M886.6 126.69H852.2V192.24H866.2" fill="none" stroke="#14f0f0" stroke-width="2" />
<path d="M951.2 320.78H913V334.4H951.2" fill="none" stroke="#14f0f0" stroke-width="2" />
<path d="M951.2 307.16H884.2V327.59H913" fill="none" stroke="#14f0f0" stroke-width="2" />
<path d="M951.2 293.54H842.4V317.38H884.2" fill="none" stroke="#14f0f0" stroke-width="2" />
<path d="M852.2 159.47H827.5V305.46H842.4" fill="none" stroke="#14f0f0" stroke-width="2" />
<path d="M951.2 361.64H877.1V375.26H951.2" fill="none" stroke="#00f000" stroke-width="2" />
<path d="M951.2 402.5H930.7V416.12H951.2" fill="none" stroke="#00f000" stroke-width="2" />
<path d="M951.2 388.88H912.9V409.31H930.7" fill="none" stroke="#00f000" stroke-width="2" />
<path d="M877.1 368.45H862.5V399.1H912.9" fill="none" stroke="#00f000" stroke-width="2" />
<path d="M951.2 348.02H821.1V383.77H862.5" fill="none" stroke="#00f000" stroke-width="2" />
<path d="M827.5 232.46H781.8V365.9H821.1" fill="none" stroke="#000" stroke-width="2.4" />
<path d="M769.8 77.32H716.4V299.18H781.8" fill="none" stroke="#000" stroke-width="2.4" />
<path d="M951.2 456.98H917.9V470.6H951.2" fill="none" stroke="#ffff00" stroke-width="2" />
<path d="M951.2 443.36H910.7V463.79H917.9" fill="none" stroke="#ffff00" stroke-width="2" />
<path d="M951.2 484.22H907.9V497.84H951.2" fill="none" stroke="#ffff00" stroke-width="2" />
<path d="M910.7 453.57H894.9V491.03H907.9" fill="none" stroke="#ffff00" stroke-width="2" />
<path d="M951.2 429.74H881.4V472.3H894.9" fill="none" stroke="#ffff00" stroke-width="2" />
<path d="M951.2 525.08H885.3V538.7H951.2" fill="none" stroke="#ffff00" stroke-width="2" />
<path d="M951.2 511.46H865.8V531.89H885.3" fill="none" stroke="#ffff00" stroke-width="2" />
<path d="M881.4 451.02H854.9V521.67H865.8" fill="none" stroke="#ffff00" stroke-width="2" />
<path d="M854.9 486.35H820V552.32H951.2" fill="none" stroke="#ffff00" stroke-width="2" />
<path d="M951.2 593.18H924.4V606.8H951.2" fill="none" stroke="#1414e6" stroke-width="2" />
<path d="M951.2 634.04H934.6V647.66H951.2" fill="none" stroke="#1414e6" stroke-width="2" />
<path d="M951.2 620.42H919.4V640.85H934.6" fill="none" stroke="#1414e6" stroke-width="2" />
<path d="M924.4 599.99H911.4V630.63H919.4" fill="none" stroke="#1414e6" stroke-width="2" />
<path d="M951.2 579.56H888.6V615.31H911.4" fill="none" stroke="#1414e6" stroke-width="2" />
<path d="M951.2 661.28H881V674.9H951.2" fill="none" stroke="#1414e6" stroke-width="2" />
<path d="M888.6 597.44H863.6V668.09H881" fill="none" stroke="#1414e6" stroke-width="2" />
<path d="M951.2 565.94H839.3V632.76H863.6" fill="none" stroke="#1414e6" stroke-width="2" />
<path d="M820 519.33H799.6V599.35H839.3" fill="none" stroke="#000" stroke-width="1.6" />
<path d="M951.2 688.52H906.4V702.14H951.2" fill="none" stroke="#ff28ff" stroke-width="2" />
<path d="M906.4 695.33H878.8V715.76H951.2" fill="none" stroke="#ff28ff" stroke-width="2" />
<path d="M878.8 705.54H867.3V729.38H951.2" fill="none" stroke="#ff28ff" stroke-width="2" />
<path d="M799.6 559.34H742.9V717.46H867.3" fill="none" stroke="#000" stroke-width="1.6" />
<path d="M716.4 188.25H695.2V638.4H742.9" fill="none" stroke="#000" stroke-width="1.8" />
<rect x="672.1" y="208.4" width="1059.6" height="95.5" fill="none" stroke="#14f0f0" stroke-width="3.2" />
<rect x="675" y="338.3" width="1058.5" height="98.5" fill="none" stroke="#f03c14" stroke-width="2.8" />
<rect x="677.8" y="581.4" width="1054.9" height="71" fill="none" stroke="#1428f0" stroke-width="2.8" />
<rect x="677.8" y="654.2" width="1054.9" height="84.1" fill="none" stroke="#ff28ff" stroke-width="2.8" />
<text x="1741.7" y="258.3" font-size="22.5" text-anchor="start" fill="#000" >Carnitines</text>
<text x="1747" y="388.5" font-size="22.5" text-anchor="start" fill="#000" >Methionine-related</text>
<text x="1747.8" y="626.4" font-size="22.7" text-anchor="start" fill="#000" >Glycolysis and PPP</text>
<text x="1747" y="708" font-size="22.5" text-anchor="start" fill="#000" >Nucleotides</text>
<text x="17.5" y="738.3" font-size="30" text-anchor="start" fill="#000" font-weight="bold" >c</text>
<circle cx="181.51" cy="909.87" r="4.1" fill="#000" stroke="none" stroke-width="1"/>
<circle cx="427.68" cy="880.94" r="4.1" fill="#000" stroke="none" stroke-width="1"/>
<circle cx="281.62" cy="931.71" r="4.1" fill="#000" stroke="none" stroke-width="1"/>
<circle cx="346.57" cy="933.13" r="4.1" fill="#000" stroke="none" stroke-width="1"/>
<circle cx="342.31" cy="946.74" r="4.1" fill="#000" stroke="none" stroke-width="1"/>
<circle cx="363.02" cy="949.01" r="4.1" fill="#000" stroke="none" stroke-width="1"/>
<circle cx="342.31" cy="956.66" r="4.1" fill="#000" stroke="none" stroke-width="1"/>
<circle cx="347.42" cy="957.52" r="4.1" fill="#000" stroke="none" stroke-width="1"/>
<circle cx="363.87" cy="956.1" r="4.1" fill="#000" stroke="none" stroke-width="1"/>
<circle cx="344.02" cy="966.59" r="4.1" fill="#000" stroke="none" stroke-width="1"/>
<circle cx="302.04" cy="966.59" r="4.1" fill="#000" stroke="none" stroke-width="1"/>
<circle cx="360.75" cy="975.1" r="4.1" fill="#000" stroke="none" stroke-width="1"/>
<circle cx="269.43" cy="975.67" r="4.1" fill="#000" stroke="none" stroke-width="1"/>
<circle cx="266.59" cy="982.76" r="4.1" fill="#000" stroke="none" stroke-width="1"/>
<circle cx="273.68" cy="984.46" r="4.1" fill="#000" stroke="none" stroke-width="1"/>
<circle cx="309.98" cy="985.03" r="4.1" fill="#000" stroke="none" stroke-width="1"/>
<circle cx="305.73" cy="994.95" r="4.1" fill="#000" stroke="none" stroke-width="1"/>
<circle cx="357.91" cy="986.44" r="4.1" fill="#000" stroke="none" stroke-width="1"/>
<circle cx="389.96" cy="974.25" r="4.1" fill="#000" stroke="none" stroke-width="1"/>
<circle cx="394.21" cy="979.35" r="4.1" fill="#000" stroke="none" stroke-width="1"/>
<circle cx="391.38" cy="984.46" r="4.1" fill="#000" stroke="none" stroke-width="1"/>
<circle cx="398.47" cy="991.26" r="4.1" fill="#000" stroke="none" stroke-width="1"/>
<circle cx="395.63" cy="999.21" r="4.1" fill="#000" stroke="none" stroke-width="1"/>
<circle cx="371.53" cy="990.7" r="4.1" fill="#000" stroke="none" stroke-width="1"/>
<circle cx="368.69" cy="996.37" r="4.1" fill="#000" stroke="none" stroke-width="1"/>
<circle cx="374.36" cy="1000.62" r="4.1" fill="#000" stroke="none" stroke-width="1"/>
<circle cx="348.84" cy="997.79" r="4.1" fill="#000" stroke="none" stroke-width="1"/>
<circle cx="338.91" cy="997.79" r="4.1" fill="#000" stroke="none" stroke-width="1"/>
<circle cx="279.35" cy="1001.19" r="4.1" fill="#000" stroke="none" stroke-width="1"/>
<circle cx="236.25" cy="1008.28" r="4.1" fill="#000" stroke="none" stroke-width="1"/>
<circle cx="262.34" cy="1006.86" r="4.1" fill="#000" stroke="none" stroke-width="1"/>
<circle cx="288.71" cy="1008.56" r="4.1" fill="#000" stroke="none" stroke-width="1"/>
<circle cx="289.28" cy="1019.63" r="4.1" fill="#000" stroke="none" stroke-width="1"/>
<circle cx="424.56" cy="999.21" r="4.1" fill="#000" stroke="none" stroke-width="1"/>
<circle cx="415.48" cy="1005.45" r="4.1" fill="#000" stroke="none" stroke-width="1"/>
<circle cx="423.43" cy="1006.3" r="4.1" fill="#000" stroke="none" stroke-width="1"/>
<circle cx="371.53" cy="1009.13" r="4.1" fill="#000" stroke="none" stroke-width="1"/>
<circle cx="368.69" cy="1014.8" r="4.1" fill="#000" stroke="none" stroke-width="1"/>
<circle cx="459.44" cy="1024.73" r="4.1" fill="#000" stroke="none" stroke-width="1"/>
<circle cx="424.56" cy="1028.98" r="4.1" fill="#000" stroke="none" stroke-width="1"/>
<circle cx="407.83" cy="1027.57" r="4.1" fill="#000" stroke="none" stroke-width="1"/>
<circle cx="375.78" cy="1030.4" r="4.1" fill="#000" stroke="none" stroke-width="1"/>
<circle cx="258.08" cy="1028.98" r="4.1" fill="#000" stroke="none" stroke-width="1"/>
<circle cx="268.01" cy="1023.31" r="4.1" fill="#000" stroke="none" stroke-width="1"/>
<circle cx="266.59" cy="1030.4" r="4.1" fill="#000" stroke="none" stroke-width="1"/>
<circle cx="279.35" cy="1030.4" r="4.1" fill="#000" stroke="none" stroke-width="1"/>
<circle cx="250.14" cy="1039.76" r="4.1" fill="#000" stroke="none" stroke-width="1"/>
<circle cx="212.71" cy="1042.6" r="4.1" fill="#000" stroke="none" stroke-width="1"/>
<circle cx="400.74" cy="1038.91" r="4.1" fill="#000" stroke="none" stroke-width="1"/>
<circle cx="398.47" cy="1043.73" r="4.1" fill="#000" stroke="none" stroke-width="1"/>
<circle cx="382.02" cy="1043.73" r="4.1" fill="#000" stroke="none" stroke-width="1"/>
<circle cx="353.09" cy="1044.58" r="4.1" fill="#000" stroke="none" stroke-width="1"/>
<circle cx="249.57" cy="1052.24" r="4.1" fill="#000" stroke="none" stroke-width="1"/>
<circle cx="266.59" cy="1057.91" r="4.1" fill="#000" stroke="none" stroke-width="1"/>
<circle cx="409.25" cy="1054.51" r="4.1" fill="#000" stroke="none" stroke-width="1"/>
<circle cx="419.74" cy="1055.93" r="4.1" fill="#000" stroke="none" stroke-width="1"/>
<circle cx="428.81" cy="1057.35" r="4.1" fill="#000" stroke="none" stroke-width="1"/>
<circle cx="455.19" cy="1057.35" r="4.1" fill="#000" stroke="none" stroke-width="1"/>
<circle cx="439.59" cy="1068.69" r="4.1" fill="#000" stroke="none" stroke-width="1"/>
<circle cx="485.54" cy="1072.38" r="4.1" fill="#000" stroke="none" stroke-width="1"/>
<circle cx="201.36" cy="1066.7" r="4.1" fill="#000" stroke="none" stroke-width="1"/>
<circle cx="241.07" cy="1072.38" r="4.1" fill="#000" stroke="none" stroke-width="1"/>
<circle cx="406.98" cy="1067.27" r="4.1" fill="#000" stroke="none" stroke-width="1"/>
<circle cx="422.58" cy="1067.27" r="4.1" fill="#000" stroke="none" stroke-width="1"/>
<circle cx="389.96" cy="1070.11" r="4.1" fill="#000" stroke="none" stroke-width="1"/>
<circle cx="374.36" cy="1068.69" r="4.1" fill="#000" stroke="none" stroke-width="1"/>
<circle cx="365.85" cy="1020.48" r="4.1" fill="#000" stroke="none" stroke-width="1"/>
<circle cx="361.6" cy="1019.06" r="4.1" fill="#000" stroke="none" stroke-width="1"/>
<circle cx="344.58" cy="1007.71" r="4.1" fill="#000" stroke="none" stroke-width="1"/>
<circle cx="341.75" cy="1013.39" r="4.1" fill="#000" stroke="none" stroke-width="1"/>
<circle cx="350.26" cy="1019.06" r="4.1" fill="#000" stroke="none" stroke-width="1"/>
<circle cx="354.51" cy="1026.15" r="4.1" fill="#000" stroke="none" stroke-width="1"/>
<circle cx="326.15" cy="1017.64" r="4.1" fill="#000" stroke="none" stroke-width="1"/>
<circle cx="328.98" cy="1023.31" r="4.1" fill="#000" stroke="none" stroke-width="1"/>
<circle cx="321.89" cy="1030.4" r="4.1" fill="#000" stroke="none" stroke-width="1"/>
<circle cx="336.07" cy="1030.4" r="4.1" fill="#000" stroke="none" stroke-width="1"/>
<circle cx="343.17" cy="1033.24" r="4.1" fill="#000" stroke="none" stroke-width="1"/>
<circle cx="365.85" cy="1037.49" r="4.1" fill="#000" stroke="none" stroke-width="1"/>
<circle cx="370.11" cy="1043.17" r="4.1" fill="#000" stroke="none" stroke-width="1"/>
<circle cx="363.02" cy="1046" r="4.1" fill="#000" stroke="none" stroke-width="1"/>
<circle cx="371.53" cy="1053.09" r="4.1" fill="#000" stroke="none" stroke-width="1"/>
<circle cx="381.45" cy="1054.51" r="4.1" fill="#000" stroke="none" stroke-width="1"/>
<circle cx="385.71" cy="1061.6" r="4.1" fill="#000" stroke="none" stroke-width="1"/>
<circle cx="391.38" cy="1065.85" r="4.1" fill="#000" stroke="none" stroke-width="1"/>
<circle cx="375.78" cy="1064.44" r="4.1" fill="#000" stroke="none" stroke-width="1"/>
<circle cx="363.02" cy="1068.69" r="4.1" fill="#000" stroke="none" stroke-width="1"/>
<circle cx="358.76" cy="1078.62" r="4.1" fill="#000" stroke="none" stroke-width="1"/>
<circle cx="354.51" cy="1084.29" r="4.1" fill="#000" stroke="none" stroke-width="1"/>
<circle cx="283.61" cy="1036.07" r="4.1" fill="#000" stroke="none" stroke-width="1"/>
<circle cx="287.86" cy="1041.75" r="4.1" fill="#000" stroke="none" stroke-width="1"/>
<circle cx="279.35" cy="1044.58" r="4.1" fill="#000" stroke="none" stroke-width="1"/>
<circle cx="275.1" cy="1050.26" r="4.1" fill="#000" stroke="none" stroke-width="1"/>
<circle cx="293.53" cy="1047.42" r="4.1" fill="#000" stroke="none" stroke-width="1"/>
<circle cx="307.71" cy="1044.58" r="4.1" fill="#000" stroke="none" stroke-width="1"/>
<circle cx="311.97" cy="1047.42" r="4.1" fill="#000" stroke="none" stroke-width="1"/>
<circle cx="319.06" cy="1051.67" r="4.1" fill="#000" stroke="none" stroke-width="1"/>
<circle cx="313.39" cy="1057.91" r="4.1" fill="#000" stroke="none" stroke-width="1"/>
<circle cx="328.98" cy="1054.51" r="4.1" fill="#000" stroke="none" stroke-width="1"/>
<circle cx="344.58" cy="1054.51" r="4.1" fill="#000" stroke="none" stroke-width="1"/>
<circle cx="351.67" cy="1058.76" r="4.1" fill="#000" stroke="none" stroke-width="1"/>
<circle cx="340.33" cy="1044.58" r="4.1" fill="#000" stroke="none" stroke-width="1"/>
<circle cx="330.4" cy="1044.58" r="4.1" fill="#000" stroke="none" stroke-width="1"/>
<circle cx="324.73" cy="1037.49" r="4.1" fill="#000" stroke="none" stroke-width="1"/>
<circle cx="333.81" cy="1007.71" r="4.1" fill="#000" stroke="none" stroke-width="1"/>
<circle cx="339.48" cy="1003.18" r="4.1" fill="#000" stroke="none" stroke-width="1"/>
<circle cx="344.3" cy="1009.7" r="4.1" fill="#000" stroke="none" stroke-width="1"/>
<circle cx="347.14" cy="1013.39" r="4.1" fill="#000" stroke="none" stroke-width="1"/>
<circle cx="349.97" cy="1011.68" r="4.1" fill="#000" stroke="none" stroke-width="1"/>
<circle cx="341.46" cy="1015.37" r="4.1" fill="#000" stroke="none" stroke-width="1"/>
<circle cx="324.45" cy="1018.21" r="4.1" fill="#000" stroke="none" stroke-width="1"/>
<circle cx="328.13" cy="1021.04" r="4.1" fill="#000" stroke="none" stroke-width="1"/>
<circle cx="322.46" cy="1030.4" r="4.1" fill="#000" stroke="none" stroke-width="1"/>
<circle cx="330.12" cy="1032.39" r="4.1" fill="#000" stroke="none" stroke-width="1"/>
<circle cx="335.79" cy="1029.55" r="4.1" fill="#000" stroke="none" stroke-width="1"/>
<circle cx="339.48" cy="1030.4" r="4.1" fill="#000" stroke="none" stroke-width="1"/>
<circle cx="343.45" cy="1032.39" r="4.1" fill="#000" stroke="none" stroke-width="1"/>
<circle cx="347.14" cy="1035.22" r="4.1" fill="#000" stroke="none" stroke-width="1"/>
<circle cx="330.97" cy="1036.07" r="4.1" fill="#000" stroke="none" stroke-width="1"/>
<circle cx="336.64" cy="1040.05" r="4.1" fill="#000" stroke="none" stroke-width="1"/>
<circle cx="343.45" cy="1040.9" r="4.1" fill="#000" stroke="none" stroke-width="1"/>
<circle cx="356.49" cy="1028.7" r="4.1" fill="#000" stroke="none" stroke-width="1"/>
<circle cx="353.66" cy="1024.73" r="4.1" fill="#000" stroke="none" stroke-width="1"/>
<circle cx="369.82" cy="994.67" r="4.1" fill="#000" stroke="none" stroke-width="1"/>
<circle cx="372.66" cy="998.36" r="4.1" fill="#000" stroke="none" stroke-width="1"/>
<circle cx="371.81" cy="1003.18" r="4.1" fill="#000" stroke="none" stroke-width="1"/>
<circle cx="370.67" cy="1009.7" r="4.1" fill="#000" stroke="none" stroke-width="1"/>
<circle cx="367.84" cy="1017.36" r="4.1" fill="#000" stroke="none" stroke-width="1"/>
<circle cx="364.15" cy="1019.06" r="4.1" fill="#000" stroke="none" stroke-width="1"/>
<circle cx="369.82" cy="1023.03" r="4.1" fill="#000" stroke="none" stroke-width="1"/>
<circle cx="366.99" cy="1036.07" r="4.1" fill="#000" stroke="none" stroke-width="1"/>
<circle cx="365" cy="1040.9" r="4.1" fill="#000" stroke="none" stroke-width="1"/>
<circle cx="368.97" cy="1038.91" r="4.1" fill="#000" stroke="none" stroke-width="1"/>
<circle cx="327.28" cy="1044.58" r="4.1" fill="#000" stroke="none" stroke-width="1"/>
<circle cx="363.3" cy="1045.72" r="4.1" fill="#000" stroke="none" stroke-width="1"/>
<circle cx="373.51" cy="1051.39" r="4.1" fill="#000" stroke="none" stroke-width="1"/>
<circle cx="378.33" cy="1051.39" r="4.1" fill="#000" stroke="none" stroke-width="1"/>
<circle cx="394.5" cy="1057.06" r="4.1" fill="#000" stroke="none" stroke-width="1"/>
<circle cx="385.99" cy="1055.93" r="4.1" fill="#000" stroke="none" stroke-width="1"/>
<circle cx="383.15" cy="1062.73" r="4.1" fill="#000" stroke="none" stroke-width="1"/>
<circle cx="388.83" cy="1068.41" r="4.1" fill="#000" stroke="none" stroke-width="1"/>
<circle cx="391.66" cy="1072.09" r="4.1" fill="#000" stroke="none" stroke-width="1"/>
<circle cx="373.51" cy="1066.42" r="4.1" fill="#000" stroke="none" stroke-width="1"/>
<circle cx="373.51" cy="1071.24" r="4.1" fill="#000" stroke="none" stroke-width="1"/>
<circle cx="409.53" cy="1053.09" r="4.1" fill="#000" stroke="none" stroke-width="1"/>
<circle cx="411.51" cy="1060.75" r="4.1" fill="#000" stroke="none" stroke-width="1"/>
<circle cx="406.69" cy="1066.42" r="4.1" fill="#000" stroke="none" stroke-width="1"/>
<circle cx="420.87" cy="1055.93" r="4.1" fill="#000" stroke="none" stroke-width="1"/>
<circle cx="421.72" cy="1066.42" r="4.1" fill="#000" stroke="none" stroke-width="1"/>
<circle cx="425.69" cy="1060.75" r="4.1" fill="#000" stroke="none" stroke-width="1"/>
<circle cx="360.47" cy="1077.77" r="4.1" fill="#000" stroke="none" stroke-width="1"/>
<circle cx="358.48" cy="1066.42" r="4.1" fill="#000" stroke="none" stroke-width="1"/>
<circle cx="363.3" cy="1071.24" r="4.1" fill="#000" stroke="none" stroke-width="1"/>
<circle cx="356.49" cy="1060.75" r="4.1" fill="#000" stroke="none" stroke-width="1"/>
<circle cx="352.81" cy="1057.06" r="4.1" fill="#000" stroke="none" stroke-width="1"/>
<circle cx="347.14" cy="1053.09" r="4.1" fill="#000" stroke="none" stroke-width="1"/>
<circle cx="316.25" cy="1087.95" r="4.1" fill="#000" stroke="none" stroke-width="1"/>
<circle cx="313.65" cy="1077.99" r="4.1" fill="#000" stroke="none" stroke-width="1"/>
<circle cx="310.58" cy="1098.53" r="4.1" fill="#000" stroke="none" stroke-width="1"/>
<circle cx="322.87" cy="1083.38" r="4.1" fill="#000" stroke="none" stroke-width="1"/>
<circle cx="336.05" cy="1073.35" r="4.1" fill="#000" stroke="none" stroke-width="1"/>
<circle cx="339.17" cy="1054.21" r="4.1" fill="#000" stroke="none" stroke-width="1"/>
<circle cx="308.04" cy="1095.17" r="4.1" fill="#000" stroke="none" stroke-width="1"/>
<circle cx="313.22" cy="1093.82" r="4.1" fill="#000" stroke="none" stroke-width="1"/>
<circle cx="313.76" cy="1077.4" r="4.1" fill="#000" stroke="none" stroke-width="1"/>
<circle cx="300.52" cy="1070.58" r="4.1" fill="#000" stroke="none" stroke-width="1"/>
<circle cx="298.96" cy="1082.02" r="4.1" fill="#000" stroke="none" stroke-width="1"/>
<circle cx="305.83" cy="1091.33" r="4.1" fill="#000" stroke="none" stroke-width="1"/>
<circle cx="332.72" cy="1067.97" r="4.1" fill="#000" stroke="none" stroke-width="1"/>
<circle cx="313.69" cy="1083.68" r="4.1" fill="#000" stroke="none" stroke-width="1"/>
<circle cx="308.81" cy="1098.49" r="4.1" fill="#000" stroke="none" stroke-width="1"/>
<circle cx="288.14" cy="1059.95" r="4.1" fill="#000" stroke="none" stroke-width="1"/>
<circle cx="294.58" cy="1075.78" r="4.1" fill="#000" stroke="none" stroke-width="1"/>
<circle cx="306.52" cy="1081.02" r="4.1" fill="#000" stroke="none" stroke-width="1"/>
<circle cx="340.07" cy="1072.33" r="4.1" fill="#000" stroke="none" stroke-width="1"/>
<circle cx="312.27" cy="1085.17" r="4.1" fill="#000" stroke="none" stroke-width="1"/>
<circle cx="308.53" cy="1094.3" r="4.1" fill="#000" stroke="none" stroke-width="1"/>
<circle cx="308.01" cy="1095.7" r="4.1" fill="#000" stroke="none" stroke-width="1"/>
<circle cx="308.39" cy="1097.3" r="4.1" fill="#000" stroke="none" stroke-width="1"/>
<circle cx="341.24" cy="1063.08" r="4.1" fill="#000" stroke="none" stroke-width="1"/>
<circle cx="325.43" cy="1086.4" r="4.1" fill="#000" stroke="none" stroke-width="1"/>
<circle cx="311.82" cy="1093.99" r="4.1" fill="#000" stroke="none" stroke-width="1"/>
<circle cx="313.26" cy="1075.32" r="4.1" fill="#000" stroke="none" stroke-width="1"/>
<circle cx="300" cy="1085.92" r="4.1" fill="#000" stroke="none" stroke-width="1"/>
<circle cx="321.13" cy="1079" r="4.1" fill="#000" stroke="none" stroke-width="1"/>
<circle cx="282.97" cy="1058.59" r="4.1" fill="#000" stroke="none" stroke-width="1"/>
<circle cx="306.73" cy="1084.87" r="4.1" fill="#000" stroke="none" stroke-width="1"/>
<circle cx="310.81" cy="1097.86" r="4.1" fill="#000" stroke="none" stroke-width="1"/>
<circle cx="311.84" cy="1087.23" r="4.1" fill="#000" stroke="none" stroke-width="1"/>
<circle cx="308.94" cy="1096.64" r="4.1" fill="#000" stroke="none" stroke-width="1"/>
<circle cx="317.22" cy="1074.04" r="4.1" fill="#000" stroke="none" stroke-width="1"/>
<circle cx="300.99" cy="1086.15" r="4.1" fill="#000" stroke="none" stroke-width="1"/>
<circle cx="313.44" cy="1081.41" r="4.1" fill="#000" stroke="none" stroke-width="1"/>
<circle cx="318" cy="1087.12" r="4.1" fill="#000" stroke="none" stroke-width="1"/>
<circle cx="310.87" cy="1098.88" r="4.1" fill="#000" stroke="none" stroke-width="1"/>
<circle cx="299.85" cy="1077.63" r="4.1" fill="#000" stroke="none" stroke-width="1"/>
<circle cx="321.02" cy="1060.63" r="4.1" fill="#000" stroke="none" stroke-width="1"/>
<circle cx="307.11" cy="1094.34" r="4.1" fill="#000" stroke="none" stroke-width="1"/>
<circle cx="302.23" cy="1087.69" r="4.1" fill="#000" stroke="none" stroke-width="1"/>
<circle cx="285.98" cy="1061.23" r="4.1" fill="#000" stroke="none" stroke-width="1"/>
<circle cx="312.87" cy="1092.03" r="4.1" fill="#000" stroke="none" stroke-width="1"/>
<circle cx="309.14" cy="1098.77" r="4.1" fill="#000" stroke="none" stroke-width="1"/>
<circle cx="279.2" cy="1055.34" r="4.1" fill="#000" stroke="none" stroke-width="1"/>
<circle cx="321.35" cy="1055.43" r="4.1" fill="#000" stroke="none" stroke-width="1"/>
<circle cx="306.28" cy="1093.21" r="4.1" fill="#000" stroke="none" stroke-width="1"/>
<circle cx="290.16" cy="1061.91" r="4.1" fill="#000" stroke="none" stroke-width="1"/>
<circle cx="307.86" cy="1097.17" r="4.1" fill="#000" stroke="none" stroke-width="1"/>
<circle cx="302.06" cy="1066.86" r="4.1" fill="#000" stroke="none" stroke-width="1"/>
<circle cx="318.74" cy="1087.57" r="4.1" fill="#000" stroke="none" stroke-width="1"/>
<circle cx="326.1" cy="1084.45" r="4.1" fill="#000" stroke="none" stroke-width="1"/>
<circle cx="306.94" cy="1095.78" r="4.1" fill="#000" stroke="none" stroke-width="1"/>
<circle cx="304.37" cy="1095.1" r="4.1" fill="#000" stroke="none" stroke-width="1"/>
<circle cx="312.89" cy="1086.77" r="4.1" fill="#000" stroke="none" stroke-width="1"/>
<circle cx="289.82" cy="1054.52" r="4.1" fill="#000" stroke="none" stroke-width="1"/>
<circle cx="328.46" cy="1082.94" r="4.1" fill="#000" stroke="none" stroke-width="1"/>
<circle cx="307.12" cy="1091.01" r="4.1" fill="#000" stroke="none" stroke-width="1"/>
<circle cx="307.62" cy="1090.7" r="4.1" fill="#000" stroke="none" stroke-width="1"/>
<circle cx="303.34" cy="1086.62" r="4.1" fill="#000" stroke="none" stroke-width="1"/>
<circle cx="325.44" cy="1083.56" r="4.1" fill="#000" stroke="none" stroke-width="1"/>
<circle cx="318.37" cy="1078.61" r="4.1" fill="#000" stroke="none" stroke-width="1"/>
<circle cx="310.47" cy="1099.25" r="4.1" fill="#000" stroke="none" stroke-width="1"/>
<circle cx="320.18" cy="1068.2" r="4.1" fill="#000" stroke="none" stroke-width="1"/>
<circle cx="305.3" cy="1077.02" r="4.1" fill="#000" stroke="none" stroke-width="1"/>
<circle cx="315.22" cy="1091.15" r="4.1" fill="#000" stroke="none" stroke-width="1"/>
<circle cx="325.59" cy="1076.7" r="4.1" fill="#000" stroke="none" stroke-width="1"/>
<circle cx="298.56" cy="1074.12" r="4.1" fill="#000" stroke="none" stroke-width="1"/>
<circle cx="302.3" cy="1082.06" r="4.1" fill="#000" stroke="none" stroke-width="1"/>
<circle cx="344.71" cy="1069.59" r="4.1" fill="#000" stroke="none" stroke-width="1"/>
<circle cx="335.34" cy="1076.81" r="4.1" fill="#000" stroke="none" stroke-width="1"/>
<circle cx="310.99" cy="1095.96" r="4.1" fill="#000" stroke="none" stroke-width="1"/>
<circle cx="308.24" cy="1097.53" r="4.1" fill="#000" stroke="none" stroke-width="1"/>
<circle cx="312.78" cy="1094.8" r="4.1" fill="#000" stroke="none" stroke-width="1"/>
<circle cx="276.56" cy="1059.53" r="4.1" fill="#000" stroke="none" stroke-width="1"/>
<circle cx="298.75" cy="1084.6" r="4.1" fill="#000" stroke="none" stroke-width="1"/>
<circle cx="312.5" cy="1094.54" r="4.1" fill="#000" stroke="none" stroke-width="1"/>
<circle cx="313.81" cy="1093.25" r="4.1" fill="#000" stroke="none" stroke-width="1"/>
<circle cx="313.24" cy="1077.09" r="4.1" fill="#000" stroke="none" stroke-width="1"/>
<circle cx="305.34" cy="1073.53" r="4.1" fill="#000" stroke="none" stroke-width="1"/>
<circle cx="337.06" cy="1064.78" r="4.1" fill="#000" stroke="none" stroke-width="1"/>
<circle cx="310.69" cy="1098.48" r="4.1" fill="#000" stroke="none" stroke-width="1"/>
<circle cx="327.81" cy="1083.48" r="4.1" fill="#000" stroke="none" stroke-width="1"/>
<circle cx="305.04" cy="1094.98" r="4.1" fill="#000" stroke="none" stroke-width="1"/>
<circle cx="311.67" cy="1097.03" r="4.1" fill="#000" stroke="none" stroke-width="1"/>
<circle cx="307.52" cy="1097.55" r="4.1" fill="#000" stroke="none" stroke-width="1"/>
<circle cx="307.71" cy="1097.21" r="4.1" fill="#000" stroke="none" stroke-width="1"/>
<circle cx="301.48" cy="1081.99" r="4.1" fill="#000" stroke="none" stroke-width="1"/>
<circle cx="314.36" cy="1090.35" r="4.1" fill="#000" stroke="none" stroke-width="1"/>
<circle cx="310.89" cy="1096.37" r="4.1" fill="#000" stroke="none" stroke-width="1"/>
<circle cx="316.71" cy="1088.46" r="4.1" fill="#000" stroke="none" stroke-width="1"/>
<circle cx="316.82" cy="1079.76" r="4.1" fill="#000" stroke="none" stroke-width="1"/>
<circle cx="315.07" cy="1091.07" r="4.1" fill="#000" stroke="none" stroke-width="1"/>
<circle cx="314.43" cy="1093.49" r="4.1" fill="#000" stroke="none" stroke-width="1"/>
<circle cx="294.25" cy="1063.1" r="4.1" fill="#000" stroke="none" stroke-width="1"/>
<circle cx="301.58" cy="1084.84" r="4.1" fill="#000" stroke="none" stroke-width="1"/>
<circle cx="296.55" cy="1087.12" r="4.1" fill="#000" stroke="none" stroke-width="1"/>
<circle cx="312.67" cy="1084.3" r="4.1" fill="#000" stroke="none" stroke-width="1"/>
<circle cx="310.92" cy="1097.61" r="4.1" fill="#000" stroke="none" stroke-width="1"/>
<circle cx="306.91" cy="1097.18" r="4.1" fill="#000" stroke="none" stroke-width="1"/>
<circle cx="313.25" cy="1089.75" r="4.1" fill="#000" stroke="none" stroke-width="1"/>
<circle cx="308.02" cy="1094.69" r="4.1" fill="#000" stroke="none" stroke-width="1"/>
<circle cx="297.48" cy="1054.42" r="4.1" fill="#000" stroke="none" stroke-width="1"/>
<circle cx="311.69" cy="1088.57" r="4.1" fill="#000" stroke="none" stroke-width="1"/>
<circle cx="314.79" cy="1080.99" r="4.1" fill="#000" stroke="none" stroke-width="1"/>
<circle cx="310.47" cy="1099.24" r="4.1" fill="#000" stroke="none" stroke-width="1"/>
<circle cx="310.72" cy="1098.43" r="4.1" fill="#000" stroke="none" stroke-width="1"/>
<circle cx="295.69" cy="1075.5" r="4.1" fill="#000" stroke="none" stroke-width="1"/>
<circle cx="338.02" cy="1068.69" r="4.1" fill="#000" stroke="none" stroke-width="1"/>
<circle cx="283.99" cy="1053.72" r="4.1" fill="#000" stroke="none" stroke-width="1"/>
<circle cx="308.23" cy="1098.37" r="4.1" fill="#000" stroke="none" stroke-width="1"/>
<circle cx="316.74" cy="1067.74" r="4.1" fill="#000" stroke="none" stroke-width="1"/>
<circle cx="287.75" cy="1079.55" r="4.1" fill="#000" stroke="none" stroke-width="1"/>
<circle cx="284.74" cy="1075.57" r="4.1" fill="#000" stroke="none" stroke-width="1"/>
<circle cx="311.91" cy="1091.9" r="4.1" fill="#000" stroke="none" stroke-width="1"/>
<circle cx="306.57" cy="1096.53" r="4.1" fill="#000" stroke="none" stroke-width="1"/>
<circle cx="321.13" cy="1073.41" r="4.1" fill="#000" stroke="none" stroke-width="1"/>
<circle cx="325.18" cy="1064.27" r="4.1" fill="#000" stroke="none" stroke-width="1"/>
<circle cx="325.99" cy="1071.69" r="4.1" fill="#000" stroke="none" stroke-width="1"/>
<circle cx="311.47" cy="1097.49" r="4.1" fill="#000" stroke="none" stroke-width="1"/>
<circle cx="340.69" cy="1067.42" r="4.1" fill="#000" stroke="none" stroke-width="1"/>
<circle cx="298.53" cy="1080.78" r="4.1" fill="#000" stroke="none" stroke-width="1"/>
<circle cx="315.91" cy="1072.56" r="4.1" fill="#000" stroke="none" stroke-width="1"/>
<circle cx="325.2" cy="1067.23" r="4.1" fill="#000" stroke="none" stroke-width="1"/>
<circle cx="308.55" cy="1097.9" r="4.1" fill="#000" stroke="none" stroke-width="1"/>
<circle cx="322.66" cy="1070.83" r="4.1" fill="#000" stroke="none" stroke-width="1"/>
<circle cx="322.25" cy="1081.39" r="4.1" fill="#000" stroke="none" stroke-width="1"/>
<circle cx="343.49" cy="1054.1" r="4.1" fill="#000" stroke="none" stroke-width="1"/>
<circle cx="344.1" cy="1063.05" r="4.1" fill="#000" stroke="none" stroke-width="1"/>
<circle cx="303.88" cy="1092.7" r="4.1" fill="#000" stroke="none" stroke-width="1"/>
<circle cx="313.27" cy="1095.26" r="4.1" fill="#000" stroke="none" stroke-width="1"/>
<circle cx="285.57" cy="1063.03" r="4.1" fill="#000" stroke="none" stroke-width="1"/>
<circle cx="317.51" cy="1091.84" r="4.1" fill="#000" stroke="none" stroke-width="1"/>
<circle cx="310.48" cy="1099.26" r="4.1" fill="#000" stroke="none" stroke-width="1"/>
<circle cx="308.06" cy="1095.3" r="4.1" fill="#000" stroke="none" stroke-width="1"/>
<circle cx="310.47" cy="1099.28" r="4.1" fill="#000" stroke="none" stroke-width="1"/>
<circle cx="338.46" cy="1057.07" r="4.1" fill="#000" stroke="none" stroke-width="1"/>
<circle cx="299.53" cy="1085.79" r="4.1" fill="#000" stroke="none" stroke-width="1"/>
<circle cx="314.12" cy="1086.31" r="4.1" fill="#000" stroke="none" stroke-width="1"/>
<circle cx="307.01" cy="1096.63" r="4.1" fill="#000" stroke="none" stroke-width="1"/>
<circle cx="313.94" cy="1091.11" r="4.1" fill="#000" stroke="none" stroke-width="1"/>
<circle cx="294.01" cy="1085.74" r="4.1" fill="#000" stroke="none" stroke-width="1"/>
<circle cx="340.57" cy="1073.17" r="4.1" fill="#000" stroke="none" stroke-width="1"/>
<circle cx="327.7" cy="1068.5" r="4.1" fill="#000" stroke="none" stroke-width="1"/>
<circle cx="319.85" cy="1066.72" r="4.1" fill="#000" stroke="none" stroke-width="1"/>
<circle cx="327.43" cy="1057.04" r="4.1" fill="#000" stroke="none" stroke-width="1"/>
<circle cx="317.7" cy="1089.08" r="4.1" fill="#000" stroke="none" stroke-width="1"/>
<circle cx="322.9" cy="1071.87" r="4.1" fill="#000" stroke="none" stroke-width="1"/>
<circle cx="308.09" cy="1094.33" r="4.1" fill="#000" stroke="none" stroke-width="1"/>
<circle cx="296.37" cy="1079.91" r="4.1" fill="#000" stroke="none" stroke-width="1"/>
<circle cx="314.42" cy="1082.18" r="4.1" fill="#000" stroke="none" stroke-width="1"/>
<circle cx="313.62" cy="1087.15" r="4.1" fill="#000" stroke="none" stroke-width="1"/>
<circle cx="334.95" cy="1076.3" r="4.1" fill="#000" stroke="none" stroke-width="1"/>
<circle cx="315.76" cy="1083.87" r="4.1" fill="#000" stroke="none" stroke-width="1"/>
<circle cx="311.47" cy="1097.86" r="4.1" fill="#000" stroke="none" stroke-width="1"/>
<circle cx="323.06" cy="1079.6" r="4.1" fill="#000" stroke="none" stroke-width="1"/>
<circle cx="313.71" cy="1090.21" r="4.1" fill="#000" stroke="none" stroke-width="1"/>
<circle cx="359.58" cy="1055.49" r="4.1" fill="#000" stroke="none" stroke-width="1"/>
<circle cx="310.88" cy="1098.67" r="4.1" fill="#000" stroke="none" stroke-width="1"/>
<circle cx="300.87" cy="1075.42" r="4.1" fill="#000" stroke="none" stroke-width="1"/>
<circle cx="353.12" cy="1062.73" r="4.1" fill="#000" stroke="none" stroke-width="1"/>
<circle cx="308.03" cy="1096.39" r="4.1" fill="#000" stroke="none" stroke-width="1"/>
<circle cx="287.39" cy="1056.2" r="4.1" fill="#000" stroke="none" stroke-width="1"/>
<circle cx="306.87" cy="1081.82" r="4.1" fill="#000" stroke="none" stroke-width="1"/>
<circle cx="318.1" cy="1091.79" r="4.1" fill="#000" stroke="none" stroke-width="1"/>
<circle cx="307.5" cy="1095.74" r="4.1" fill="#000" stroke="none" stroke-width="1"/>
<circle cx="307.98" cy="1096.28" r="4.1" fill="#000" stroke="none" stroke-width="1"/>
<circle cx="317.29" cy="1085.07" r="4.1" fill="#000" stroke="none" stroke-width="1"/>
<circle cx="302.04" cy="1088.92" r="4.1" fill="#000" stroke="none" stroke-width="1"/>
<circle cx="320.7" cy="1059.48" r="4.1" fill="#000" stroke="none" stroke-width="1"/>
<circle cx="323.77" cy="1055.11" r="4.1" fill="#000" stroke="none" stroke-width="1"/>
<circle cx="317.66" cy="1079.84" r="4.1" fill="#000" stroke="none" stroke-width="1"/>
<circle cx="333.62" cy="1071.27" r="4.1" fill="#000" stroke="none" stroke-width="1"/>
<circle cx="316.81" cy="1087.32" r="4.1" fill="#000" stroke="none" stroke-width="1"/>
<circle cx="325.21" cy="1064.3" r="4.1" fill="#000" stroke="none" stroke-width="1"/>
<circle cx="337.89" cy="1054.58" r="4.1" fill="#000" stroke="none" stroke-width="1"/>
<circle cx="307.21" cy="1092.24" r="4.1" fill="#000" stroke="none" stroke-width="1"/>
<circle cx="315.3" cy="1079.97" r="4.1" fill="#000" stroke="none" stroke-width="1"/>
<circle cx="332.51" cy="1071.38" r="4.1" fill="#000" stroke="none" stroke-width="1"/>
<circle cx="315.76" cy="1092.58" r="4.1" fill="#000" stroke="none" stroke-width="1"/>
<circle cx="308.37" cy="1097.92" r="4.1" fill="#000" stroke="none" stroke-width="1"/>
<circle cx="346.63" cy="1067.8" r="4.1" fill="#000" stroke="none" stroke-width="1"/>
<circle cx="316.48" cy="1093.64" r="4.1" fill="#000" stroke="none" stroke-width="1"/>
<circle cx="319.99" cy="1071.42" r="4.1" fill="#000" stroke="none" stroke-width="1"/>
<circle cx="311.9" cy="1094.26" r="4.1" fill="#000" stroke="none" stroke-width="1"/>
<circle cx="341.23" cy="1055.4" r="4.1" fill="#000" stroke="none" stroke-width="1"/>
<circle cx="324.52" cy="1086.49" r="4.1" fill="#000" stroke="none" stroke-width="1"/>
<circle cx="308.92" cy="1098.22" r="4.1" fill="#000" stroke="none" stroke-width="1"/>
<circle cx="314.39" cy="1093.35" r="4.1" fill="#000" stroke="none" stroke-width="1"/>
<circle cx="319.34" cy="1084.02" r="4.1" fill="#000" stroke="none" stroke-width="1"/>
<circle cx="310.93" cy="1098.6" r="4.1" fill="#000" stroke="none" stroke-width="1"/>
<circle cx="338.79" cy="1067.01" r="4.1" fill="#000" stroke="none" stroke-width="1"/>
<circle cx="297.24" cy="1055.28" r="4.1" fill="#000" stroke="none" stroke-width="1"/>
<circle cx="308" cy="1088.27" r="4.1" fill="#000" stroke="none" stroke-width="1"/>
<circle cx="339.14" cy="1057.63" r="4.1" fill="#000" stroke="none" stroke-width="1"/>
<circle cx="304.02" cy="1091.74" r="4.1" fill="#000" stroke="none" stroke-width="1"/>
<circle cx="315.78" cy="1085.14" r="4.1" fill="#000" stroke="none" stroke-width="1"/>
<circle cx="283.78" cy="1056.97" r="4.1" fill="#000" stroke="none" stroke-width="1"/>
<circle cx="328.07" cy="1062.89" r="4.1" fill="#000" stroke="none" stroke-width="1"/>
<circle cx="317.05" cy="1088.14" r="4.1" fill="#000" stroke="none" stroke-width="1"/>
<circle cx="312.08" cy="1093.19" r="4.1" fill="#000" stroke="none" stroke-width="1"/>
<circle cx="309.07" cy="1098.62" r="4.1" fill="#000" stroke="none" stroke-width="1"/>
<circle cx="344.04" cy="1059.5" r="4.1" fill="#000" stroke="none" stroke-width="1"/>
<circle cx="311.83" cy="1096.8" r="4.1" fill="#000" stroke="none" stroke-width="1"/>
<circle cx="305.56" cy="1091.73" r="4.1" fill="#000" stroke="none" stroke-width="1"/>
<circle cx="343.63" cy="1066.98" r="4.1" fill="#000" stroke="none" stroke-width="1"/>
<circle cx="327.64" cy="1061.88" r="4.1" fill="#000" stroke="none" stroke-width="1"/>
<circle cx="318.88" cy="1067.51" r="4.1" fill="#000" stroke="none" stroke-width="1"/>
<circle cx="314.86" cy="1094.84" r="4.1" fill="#000" stroke="none" stroke-width="1"/>
<circle cx="324.4" cy="1084.7" r="4.1" fill="#000" stroke="none" stroke-width="1"/>
<circle cx="336.01" cy="1063.68" r="4.1" fill="#000" stroke="none" stroke-width="1"/>
<circle cx="297.83" cy="1080.99" r="4.1" fill="#000" stroke="none" stroke-width="1"/>
<circle cx="310.62" cy="1098.46" r="4.1" fill="#000" stroke="none" stroke-width="1"/>
<circle cx="341.01" cy="1054.4" r="4.1" fill="#000" stroke="none" stroke-width="1"/>
<circle cx="298.71" cy="1060.47" r="4.1" fill="#000" stroke="none" stroke-width="1"/>
<circle cx="288.61" cy="1055.96" r="4.1" fill="#000" stroke="none" stroke-width="1"/>
<circle cx="311.84" cy="1092.39" r="4.1" fill="#000" stroke="none" stroke-width="1"/>
<circle cx="314.76" cy="1090.88" r="4.1" fill="#000" stroke="none" stroke-width="1"/>
<circle cx="310.55" cy="1099.13" r="4.1" fill="#000" stroke="none" stroke-width="1"/>
<circle cx="316.95" cy="1088.46" r="4.1" fill="#000" stroke="none" stroke-width="1"/>
<circle cx="310.99" cy="1097.83" r="4.1" fill="#000" stroke="none" stroke-width="1"/>
<circle cx="303.61" cy="1072.74" r="4.1" fill="#000" stroke="none" stroke-width="1"/>
<circle cx="304.69" cy="1084.06" r="4.1" fill="#000" stroke="none" stroke-width="1"/>
<circle cx="314.06" cy="1088.45" r="4.1" fill="#000" stroke="none" stroke-width="1"/>
<circle cx="344.88" cy="1060.58" r="4.1" fill="#000" stroke="none" stroke-width="1"/>
<circle cx="305.61" cy="1068.05" r="4.1" fill="#000" stroke="none" stroke-width="1"/>
<circle cx="294.86" cy="1083.41" r="4.1" fill="#000" stroke="none" stroke-width="1"/>
<circle cx="312.64" cy="1081.65" r="4.1" fill="#000" stroke="none" stroke-width="1"/>
<circle cx="238.23" cy="841.8" r="3.7" fill="#e8192c" stroke="#5a0000" stroke-width="1"/>
<circle cx="374.36" cy="841.8" r="3.7" fill="#e8192c" stroke="#5a0000" stroke-width="1"/>
<circle cx="133.3" cy="909.87" r="3.7" fill="#e8192c" stroke="#5a0000" stroke-width="1"/>
<circle cx="211.29" cy="919.23" r="3.7" fill="#e8192c" stroke="#5a0000" stroke-width="1"/>
<circle cx="274.25" cy="919.23" r="3.7" fill="#e8192c" stroke="#5a0000" stroke-width="1"/>
<line x1="112" y1="775.1" x2="112" y2="1100.8" stroke="#000" stroke-width="3.1" />
<line x1="110.5" y1="1099.3" x2="506.1" y2="1099.3" stroke="#000" stroke-width="3.1" />
<line x1="103.5" y1="1099.3" x2="112" y2="1099.3" stroke="#000" stroke-width="2.7" />
<text x="102.5" y="1106.7" font-size="21.3" text-anchor="end" fill="#000" >0</text>
<line x1="103.5" y1="1034.76" x2="112" y2="1034.76" stroke="#000" stroke-width="2.7" />
<text x="102.5" y="1042.16" font-size="21.3" text-anchor="end" fill="#000" >1</text>
<line x1="103.5" y1="970.22" x2="112" y2="970.22" stroke="#000" stroke-width="2.7" />
<text x="102.5" y="977.62" font-size="21.3" text-anchor="end" fill="#000" >2</text>
<line x1="103.5" y1="905.68" x2="112" y2="905.68" stroke="#000" stroke-width="2.7" />
<text x="102.5" y="913.08" font-size="21.3" text-anchor="end" fill="#000" >3</text>
<line x1="103.5" y1="841.14" x2="112" y2="841.14" stroke="#000" stroke-width="2.7" />
<text x="102.5" y="848.54" font-size="21.3" text-anchor="end" fill="#000" >4</text>
<line x1="103.5" y1="776.6" x2="112" y2="776.6" stroke="#000" stroke-width="2.7" />
<text x="102.5" y="784" font-size="21.3" text-anchor="end" fill="#000" >5</text>
<line x1="112" y1="1099.3" x2="112" y2="1107.8" stroke="#000" stroke-width="2.7" />
<text x="109" y="1129" font-size="21.3" text-anchor="middle" fill="#000" >-4</text>
<line x1="210.2" y1="1099.3" x2="210.2" y2="1107.8" stroke="#000" stroke-width="2.7" />
<text x="207.2" y="1129" font-size="21.3" text-anchor="middle" fill="#000" >-2</text>
<line x1="308.4" y1="1099.3" x2="308.4" y2="1107.8" stroke="#000" stroke-width="2.7" />
<text x="308.4" y="1129" font-size="21.3" text-anchor="middle" fill="#000" >0</text>
<line x1="406.6" y1="1099.3" x2="406.6" y2="1107.8" stroke="#000" stroke-width="2.7" />
<text x="406.6" y="1129" font-size="21.3" text-anchor="middle" fill="#000" >2</text>
<line x1="504.8" y1="1099.3" x2="504.8" y2="1107.8" stroke="#000" stroke-width="2.7" />
<text x="504.8" y="1129" font-size="21.3" text-anchor="middle" fill="#000" >4</text>
<text x="131" y="824.8" font-size="22.3" text-anchor="start" fill="#000" >L-methionine</text>
<text x="330.4" y="824.8" font-size="22.3" text-anchor="start" fill="#000" >L-cystathionine</text>
<text x="114.9" y="897.7" font-size="22.3" text-anchor="start" fill="#000" >2-keto-4-methylthiobutyrate</text>
<text x="283.6" y="921.8" font-size="22.3" text-anchor="start" fill="#000" >Methionine sulfoxide</text>
<text x="174.4" y="947.3" font-size="22.3" text-anchor="start" fill="#000" >Hypotaurine</text>
<text x="73.5" y="945" font-size="23" text-anchor="middle" transform="rotate(-90 73.5 945)">-log<tspan font-size="14.5" dy="4">10</tspan><tspan dy="-4">(P)</tspan></text>
<text x="290.7" y="1162.8" font-size="23" text-anchor="middle">log<tspan font-size="14.5" dy="4">2</tspan><tspan dy="-4"> (FC of MR/Con)</tspan></text>
<text x="528" y="772" font-size="30" text-anchor="start" fill="#000" font-weight="bold" >d</text>
<rect x="1013.9" y="852.4" width="8.4" height="18" fill="#000" stroke="none" stroke-width="1" />
<line x1="1004.9" y1="861.4" x2="1013.9" y2="861.4" stroke="#000" stroke-width="2.8" />
<text x="996.5" y="868.4" font-size="20.8" text-anchor="end" fill="#000" >Alanine, aspartate and glutamate metabolism</text>
<rect x="1013.9" y="877.8" width="8.4" height="18" fill="#000" stroke="none" stroke-width="1" />
<line x1="1004.9" y1="886.8" x2="1013.9" y2="886.8" stroke="#000" stroke-width="2.8" />
<text x="996.5" y="893.8" font-size="20.8" text-anchor="end" fill="#000" >Arginine and proline metabolism</text>
<rect x="1013.9" y="903.1" width="14" height="18" fill="#000" stroke="none" stroke-width="1" />
<line x1="1004.9" y1="912.1" x2="1013.9" y2="912.1" stroke="#000" stroke-width="2.8" />
<text x="996.5" y="919.1" font-size="20.8" text-anchor="end" fill="#000" >Galactose metabolism</text>
<rect x="1013.9" y="928.5" width="40.25" height="18" fill="#000" stroke="none" stroke-width="1" />
<line x1="1004.9" y1="937.5" x2="1013.9" y2="937.5" stroke="#000" stroke-width="2.8" />
<text x="996.5" y="944.5" font-size="20.8" text-anchor="end" fill="#000" >Tryptophan metabolism</text>
<rect x="1013.9" y="953.9" width="101.5" height="18" fill="#000" stroke="none" stroke-width="1" />
<line x1="1004.9" y1="962.9" x2="1013.9" y2="962.9" stroke="#000" stroke-width="2.8" />
<text x="996.5" y="969.9" font-size="20.8" text-anchor="end" fill="#000" >Taurine and hypotaurine metabolism</text>
<rect x="1013.9" y="979.6" width="118.3" height="18" fill="#000" stroke="none" stroke-width="1" />
<line x1="1004.9" y1="988.6" x2="1013.9" y2="988.6" stroke="#000" stroke-width="2.8" />
<text x="996.5" y="995.6" font-size="20.8" text-anchor="end" fill="#000" >Cysteine and methionine metabolism</text>
<line x1="1013.9" y1="848.5" x2="1013.9" y2="1002.3" stroke="#000" stroke-width="3.2" />
<line x1="1012.3" y1="1000.7" x2="1155.3" y2="1000.7" stroke="#000" stroke-width="3.2" />
<line x1="1013.9" y1="1000.7" x2="1013.9" y2="1009.2" stroke="#000" stroke-width="2.8" />
<text x="1022.4" y="1025.4" font-size="22" text-anchor="middle" fill="#000" transform="rotate(-90 1022.4 1025.4)" >0.0</text>
<line x1="1048.9" y1="1000.7" x2="1048.9" y2="1009.2" stroke="#000" stroke-width="2.8" />
<text x="1057.4" y="1025.4" font-size="22" text-anchor="middle" fill="#000" transform="rotate(-90 1057.4 1025.4)" >0.1</text>
<line x1="1083.9" y1="1000.7" x2="1083.9" y2="1009.2" stroke="#000" stroke-width="2.8" />
<text x="1092.4" y="1025.4" font-size="22" text-anchor="middle" fill="#000" transform="rotate(-90 1092.4 1025.4)" >0.2</text>
<line x1="1118.9" y1="1000.7" x2="1118.9" y2="1009.2" stroke="#000" stroke-width="2.8" />
<text x="1127.4" y="1025.4" font-size="22" text-anchor="middle" fill="#000" transform="rotate(-90 1127.4 1025.4)" >0.3</text>
<line x1="1153.9" y1="1000.7" x2="1153.9" y2="1009.2" stroke="#000" stroke-width="2.8" />
<text x="1162.4" y="1025.4" font-size="22" text-anchor="middle" fill="#000" transform="rotate(-90 1162.4 1025.4)" >0.4</text>
<text x="1085" y="1062.5" font-size="20.5" text-anchor="middle" fill="#000" textLength="141" lengthAdjust="spacing" >Pathway impact</text>
<rect x="1463.9" y="780.8" width="136.37" height="29.2" fill="#fff" stroke="#000" stroke-width="2.6" />
<line x1="1453.9" y1="795.4" x2="1463.9" y2="795.4" stroke="#000" stroke-width="2.8" />
<text x="1450.8" y="799.7" font-size="20.5" text-anchor="end" fill="#000" letter-spacing="0.1">Anthranilate</text>
<line x1="1576.89" y1="795.4" x2="1623.64" y2="795.4" stroke="#000" stroke-width="2.4" />
<line x1="1576.89" y1="789.4" x2="1576.89" y2="801.4" stroke="#000" stroke-width="2.4" />
<line x1="1623.64" y1="789.4" x2="1623.64" y2="801.4" stroke="#000" stroke-width="2.4" />
<circle cx="1523.46" cy="795.4" r="2.6" fill="#000" stroke="none" stroke-width="1"/>
<circle cx="1579.67" cy="795.4" r="2.6" fill="#000" stroke="none" stroke-width="1"/>
<circle cx="1611.96" cy="799.4" r="2.6" fill="#000" stroke="none" stroke-width="1"/>
<circle cx="1619.75" cy="791.4" r="2.6" fill="#000" stroke="none" stroke-width="1"/>
<circle cx="1660.94" cy="795.4" r="2.6" fill="#000" stroke="none" stroke-width="1"/>
<rect x="1463.9" y="822.4" width="138.04" height="29.2" fill="#fff" stroke="#000" stroke-width="2.6" />
<line x1="1453.9" y1="837" x2="1463.9" y2="837" stroke="#000" stroke-width="2.8" />
<text x="1451.6" y="841.3" font-size="20.5" text-anchor="end" fill="#000" letter-spacing="0.9">5-Hydroxyindoleacetate</text>
<line x1="1572.44" y1="837" x2="1630.32" y2="837" stroke="#000" stroke-width="2.4" />
<line x1="1572.44" y1="831" x2="1572.44" y2="843" stroke="#000" stroke-width="2.4" />
<line x1="1630.32" y1="831" x2="1630.32" y2="843" stroke="#000" stroke-width="2.4" />
<circle cx="1561.31" cy="832" r="2.6" fill="#000" stroke="none" stroke-width="1"/>
<circle cx="1557.97" cy="841" r="2.6" fill="#000" stroke="none" stroke-width="1"/>
<circle cx="1572.44" cy="837" r="2.6" fill="#000" stroke="none" stroke-width="1"/>
<circle cx="1611.4" cy="837" r="2.6" fill="#000" stroke="none" stroke-width="1"/>
<circle cx="1707.69" cy="837" r="2.6" fill="#000" stroke="none" stroke-width="1"/>
<rect x="1463.9" y="864" width="3.9" height="29.2" fill="#fff" stroke="#000" stroke-width="2.6" />
<line x1="1453.9" y1="878.6" x2="1463.9" y2="878.6" stroke="#000" stroke-width="2.8" />
<text x="1451.6" y="882.9" font-size="20.5" text-anchor="end" fill="#000" letter-spacing="0.9">Hypotaurine</text>
<line x1="1466.68" y1="878.6" x2="1468.91" y2="878.6" stroke="#000" stroke-width="2.4" />
<line x1="1466.68" y1="872.6" x2="1466.68" y2="884.6" stroke="#000" stroke-width="2.4" />
<line x1="1468.91" y1="872.6" x2="1468.91" y2="884.6" stroke="#000" stroke-width="2.4" />
<circle cx="1466.13" cy="870.6" r="2.6" fill="#000" stroke="none" stroke-width="1"/>
<circle cx="1467.24" cy="875.6" r="2.6" fill="#000" stroke="none" stroke-width="1"/>
<circle cx="1467.8" cy="881.6" r="2.6" fill="#000" stroke="none" stroke-width="1"/>
<circle cx="1468.91" cy="886.6" r="2.6" fill="#000" stroke="none" stroke-width="1"/>
<circle cx="1470.58" cy="889.6" r="2.6" fill="#000" stroke="none" stroke-width="1"/>
<rect x="1463.9" y="905.7" width="14.47" height="29.2" fill="#fff" stroke="#000" stroke-width="2.6" />
<line x1="1453.9" y1="920.3" x2="1463.9" y2="920.3" stroke="#000" stroke-width="2.8" />
<text x="1451.6" y="924.6" font-size="20.5" text-anchor="end" fill="#000" letter-spacing="0.9">Methionine sulfoxide</text>
<line x1="1475.03" y1="920.3" x2="1481.71" y2="920.3" stroke="#000" stroke-width="2.4" />
<line x1="1475.03" y1="914.3" x2="1475.03" y2="926.3" stroke="#000" stroke-width="2.4" />
<line x1="1481.71" y1="914.3" x2="1481.71" y2="926.3" stroke="#000" stroke-width="2.4" />
<circle cx="1469.47" cy="924.3" r="2.6" fill="#000" stroke="none" stroke-width="1"/>
<circle cx="1475.03" cy="916.3" r="2.6" fill="#000" stroke="none" stroke-width="1"/>
<circle cx="1477.82" cy="922.3" r="2.6" fill="#000" stroke="none" stroke-width="1"/>
<circle cx="1480.6" cy="927.3" r="2.6" fill="#000" stroke="none" stroke-width="1"/>
<circle cx="1486.16" cy="920.3" r="2.6" fill="#000" stroke="none" stroke-width="1"/>
<rect x="1463.9" y="947.3" width="42.3" height="29.2" fill="#fff" stroke="#000" stroke-width="2.6" />
<line x1="1453.9" y1="961.9" x2="1463.9" y2="961.9" stroke="#000" stroke-width="2.8" />
<text x="1451.6" y="966.2" font-size="20.5" text-anchor="end" fill="#000" letter-spacing="0.9">L-cysteate</text>
<line x1="1503.98" y1="961.9" x2="1508.43" y2="961.9" stroke="#000" stroke-width="2.4" />
<line x1="1503.98" y1="955.9" x2="1503.98" y2="967.9" stroke="#000" stroke-width="2.4" />
<line x1="1508.43" y1="955.9" x2="1508.43" y2="967.9" stroke="#000" stroke-width="2.4" />
<circle cx="1497.3" cy="961.9" r="2.6" fill="#000" stroke="none" stroke-width="1"/>
<circle cx="1503.98" cy="955.9" r="2.6" fill="#000" stroke="none" stroke-width="1"/>
<circle cx="1507.31" cy="964.9" r="2.6" fill="#000" stroke="none" stroke-width="1"/>
<circle cx="1509.54" cy="958.9" r="2.6" fill="#000" stroke="none" stroke-width="1"/>
<circle cx="1512.88" cy="965.9" r="2.6" fill="#000" stroke="none" stroke-width="1"/>
<rect x="1463.9" y="989.4" width="9.46" height="29.2" fill="#fff" stroke="#000" stroke-width="2.6" />
<line x1="1453.9" y1="1004" x2="1463.9" y2="1004" stroke="#000" stroke-width="2.8" />
<text x="1451.6" y="1008.3" font-size="20.5" text-anchor="end" fill="#000" letter-spacing="0.9">2-keto-4-methylthiobutyrate</text>
<line x1="1469.47" y1="1004" x2="1477.26" y2="1004" stroke="#000" stroke-width="2.4" />
<line x1="1469.47" y1="998" x2="1469.47" y2="1010" stroke="#000" stroke-width="2.4" />
<line x1="1477.26" y1="998" x2="1477.26" y2="1010" stroke="#000" stroke-width="2.4" />
<circle cx="1469.47" cy="1001" r="2.6" fill="#000" stroke="none" stroke-width="1"/>
<circle cx="1471.14" cy="1009" r="2.6" fill="#000" stroke="none" stroke-width="1"/>
<circle cx="1473.36" cy="1004" r="2.6" fill="#000" stroke="none" stroke-width="1"/>
<circle cx="1476.15" cy="1000" r="2.6" fill="#000" stroke="none" stroke-width="1"/>
<circle cx="1480.6" cy="1010" r="2.6" fill="#000" stroke="none" stroke-width="1"/>
<rect x="1463.9" y="1031" width="20.59" height="29.2" fill="#fff" stroke="#000" stroke-width="2.6" />
<line x1="1453.9" y1="1045.6" x2="1463.9" y2="1045.6" stroke="#000" stroke-width="2.8" />
<text x="1451.6" y="1049.9" font-size="20.5" text-anchor="end" fill="#000" letter-spacing="0.9">L-cystathionine</text>
<line x1="1480.6" y1="1045.6" x2="1488.39" y2="1045.6" stroke="#000" stroke-width="2.4" />
<line x1="1480.6" y1="1039.6" x2="1480.6" y2="1051.6" stroke="#000" stroke-width="2.4" />
<line x1="1488.39" y1="1039.6" x2="1488.39" y2="1051.6" stroke="#000" stroke-width="2.4" />
<circle cx="1472.25" cy="1045.6" r="2.6" fill="#000" stroke="none" stroke-width="1"/>
<circle cx="1482.27" cy="1041.6" r="2.6" fill="#000" stroke="none" stroke-width="1"/>
<circle cx="1485.05" cy="1048.6" r="2.6" fill="#000" stroke="none" stroke-width="1"/>
<circle cx="1488.95" cy="1035.6" r="2.6" fill="#000" stroke="none" stroke-width="1"/>
<circle cx="1490.06" cy="1055.6" r="2.6" fill="#000" stroke="none" stroke-width="1"/>
<rect x="1463.9" y="1072.7" width="16.7" height="29.2" fill="#fff" stroke="#000" stroke-width="2.6" />
<line x1="1453.9" y1="1087.3" x2="1463.9" y2="1087.3" stroke="#000" stroke-width="2.8" />
<text x="1451.6" y="1091.6" font-size="20.5" text-anchor="end" fill="#000" letter-spacing="0.9">L-methionine</text>
<line x1="1477.26" y1="1087.3" x2="1483.94" y2="1087.3" stroke="#000" stroke-width="2.4" />
<line x1="1477.26" y1="1081.3" x2="1477.26" y2="1093.3" stroke="#000" stroke-width="2.4" />
<line x1="1483.94" y1="1081.3" x2="1483.94" y2="1093.3" stroke="#000" stroke-width="2.4" />
<circle cx="1469.47" cy="1089.3" r="2.6" fill="#000" stroke="none" stroke-width="1"/>
<circle cx="1477.82" cy="1084.3" r="2.6" fill="#000" stroke="none" stroke-width="1"/>
<circle cx="1480.6" cy="1091.3" r="2.6" fill="#000" stroke="none" stroke-width="1"/>
<circle cx="1482.27" cy="1087.3" r="2.6" fill="#000" stroke="none" stroke-width="1"/>
<circle cx="1493.4" cy="1089.3" r="2.6" fill="#000" stroke="none" stroke-width="1"/>
<line x1="1463.9" y1="774.7" x2="1463.9" y2="1109.5" stroke="#000" stroke-width="3.2" />
<line x1="1462.3" y1="1107.9" x2="1743.6" y2="1107.9" stroke="#000" stroke-width="3.2" />
<line x1="1463.9" y1="1107.9" x2="1463.9" y2="1116.4" stroke="#000" stroke-width="2.8" />
<text x="1463.9" y="1137.6" font-size="20.5" text-anchor="middle" fill="#000" >0</text>
<line x1="1519.56" y1="1107.9" x2="1519.56" y2="1116.4" stroke="#000" stroke-width="2.8" />
<text x="1519.56" y="1137.6" font-size="20.5" text-anchor="middle" fill="#000" >1</text>
<line x1="1575.22" y1="1107.9" x2="1575.22" y2="1116.4" stroke="#000" stroke-width="2.8" />
<text x="1575.22" y="1137.6" font-size="20.5" text-anchor="middle" fill="#000" >2</text>
<line x1="1630.88" y1="1107.9" x2="1630.88" y2="1116.4" stroke="#000" stroke-width="2.8" />
<text x="1630.88" y="1137.6" font-size="20.5" text-anchor="middle" fill="#000" >3</text>
<line x1="1686.54" y1="1107.9" x2="1686.54" y2="1116.4" stroke="#000" stroke-width="2.8" />
<text x="1686.54" y="1137.6" font-size="20.5" text-anchor="middle" fill="#000" >4</text>
<line x1="1742.2" y1="1107.9" x2="1742.2" y2="1116.4" stroke="#000" stroke-width="2.8" />
<text x="1742.2" y="1137.6" font-size="20.5" text-anchor="middle" fill="#000" >5</text>
<text x="1604" y="1162.3" font-size="20.5" text-anchor="middle" fill="#000" textLength="243" lengthAdjust="spacing" >FC of intensity (MR/Control)</text>
<line x1="1519.6" y1="774.7" x2="1519.6" y2="1107.9" stroke="#e8141c" stroke-width="2.2" stroke-dasharray="7 4"/>
<line x1="1731.9" y1="783.8" x2="1731.9" y2="837.8" stroke="#1414d2" stroke-width="2.2" />
<line x1="1541" y1="908.7" x2="1541" y2="1098.4" stroke="#1414d2" stroke-width="2.2" />
<text x="1738" y="819" font-size="20.5" text-anchor="start" fill="#000" textLength="207" lengthAdjust="spacing" >Tryptophan metabolism</text>
<text x="1546.3" y="881" font-size="20.5" text-anchor="start" fill="#000" textLength="321.6" lengthAdjust="spacing" >Taurine and hypotaurine metabolism</text>
<text x="1546.3" y="988.5" font-size="20.5" text-anchor="start" fill="#000" textLength="321.6" lengthAdjust="spacing" >Cysteine and methionine metabolism</text>
<text x="18" y="1227" font-size="30" text-anchor="start" fill="#000" font-weight="bold" >e</text>
<rect x="77.6" y="1393.93" width="11.5" height="46.67" fill="#fff" stroke="#000" stroke-width="2.5" />
<line x1="83.35" y1="1396.73" x2="83.35" y2="1391.13" stroke="#000" stroke-width="2" />
<line x1="78.85" y1="1391.13" x2="87.85" y2="1391.13" stroke="#000" stroke-width="2" />
<line x1="78.85" y1="1396.73" x2="87.85" y2="1396.73" stroke="#000" stroke-width="2" />
<circle cx="79.43" cy="1403.13" r="2.5" fill="#000" stroke="none" stroke-width="1"/>
<circle cx="85.64" cy="1395.89" r="2.5" fill="#000" stroke="none" stroke-width="1"/>
<circle cx="82.55" cy="1395.55" r="2.5" fill="#000" stroke="none" stroke-width="1"/>
<circle cx="86.07" cy="1390.27" r="2.5" fill="#000" stroke="none" stroke-width="1"/>
<circle cx="82.96" cy="1384.87" r="2.5" fill="#000" stroke="none" stroke-width="1"/>
<rect x="95.8" y="1426.6" width="11.5" height="14" fill="#f5141f" stroke="#000" stroke-width="2.5" />
<line x1="101.55" y1="1428.93" x2="101.55" y2="1424.27" stroke="#000" stroke-width="2" />
<line x1="97.05" y1="1424.27" x2="106.05" y2="1424.27" stroke="#000" stroke-width="2" />
<line x1="97.05" y1="1428.93" x2="106.05" y2="1428.93" stroke="#000" stroke-width="2" />
<circle cx="98.84" cy="1433.6" r="2.5" fill="#000" stroke="none" stroke-width="1"/>
<circle cx="104" cy="1428.93" r="2.5" fill="#000" stroke="none" stroke-width="1"/>
<circle cx="101.09" cy="1426.6" r="2.5" fill="#000" stroke="none" stroke-width="1"/>
<circle cx="105.01" cy="1425.2" r="2.5" fill="#000" stroke="none" stroke-width="1"/>
<circle cx="101.77" cy="1414.93" r="2.5" fill="#000" stroke="none" stroke-width="1"/>
<line x1="91.85" y1="1440.6" x2="91.85" y2="1449.3" stroke="#000" stroke-width="3" />
<text x="100.45" y="1458.6" font-size="22.2" text-anchor="end" fill="#000" transform="rotate(-45 100.45 1458.6)" >L-methionine</text>
<rect x="123.48" y="1393.93" width="11.5" height="46.67" fill="#fff" stroke="#000" stroke-width="2.5" />
<line x1="129.23" y1="1396.73" x2="129.23" y2="1391.13" stroke="#000" stroke-width="2" />
<line x1="124.73" y1="1391.13" x2="133.73" y2="1391.13" stroke="#000" stroke-width="2" />
<line x1="124.73" y1="1396.73" x2="133.73" y2="1396.73" stroke="#000" stroke-width="2" />
<circle cx="125.17" cy="1402.86" r="2.5" fill="#000" stroke="none" stroke-width="1"/>
<circle cx="132.32" cy="1396.18" r="2.5" fill="#000" stroke="none" stroke-width="1"/>
<circle cx="128.62" cy="1393.29" r="2.5" fill="#000" stroke="none" stroke-width="1"/>
<circle cx="132.03" cy="1390.58" r="2.5" fill="#000" stroke="none" stroke-width="1"/>
<circle cx="129.38" cy="1384.57" r="2.5" fill="#000" stroke="none" stroke-width="1"/>
<rect x="141.68" y="1376.2" width="11.5" height="64.4" fill="#f5141f" stroke="#000" stroke-width="2.5" />
<line x1="147.43" y1="1390.2" x2="147.43" y2="1362.19" stroke="#000" stroke-width="2" />
<line x1="142.93" y1="1362.19" x2="151.93" y2="1362.19" stroke="#000" stroke-width="2" />
<line x1="142.93" y1="1390.2" x2="151.93" y2="1390.2" stroke="#000" stroke-width="2" />
<circle cx="143.18" cy="1424.27" r="2.5" fill="#000" stroke="none" stroke-width="1"/>
<circle cx="150.51" cy="1389.26" r="2.5" fill="#000" stroke="none" stroke-width="1"/>
<circle cx="146.39" cy="1379.93" r="2.5" fill="#000" stroke="none" stroke-width="1"/>
<circle cx="151.28" cy="1365.93" r="2.5" fill="#000" stroke="none" stroke-width="1"/>
<circle cx="148.04" cy="1329.53" r="2.5" fill="#000" stroke="none" stroke-width="1"/>
<line x1="137.73" y1="1440.6" x2="137.73" y2="1449.3" stroke="#000" stroke-width="3" />
<text x="146.33" y="1458.6" font-size="22.2" text-anchor="end" fill="#000" transform="rotate(-45 146.33 1458.6)" >L-serine</text>
<rect x="169.36" y="1393.93" width="11.5" height="46.67" fill="#fff" stroke="#000" stroke-width="2.5" />
<line x1="175.11" y1="1396.73" x2="175.11" y2="1391.13" stroke="#000" stroke-width="2" />
<line x1="170.61" y1="1391.13" x2="179.61" y2="1391.13" stroke="#000" stroke-width="2" />
<line x1="170.61" y1="1396.73" x2="179.61" y2="1396.73" stroke="#000" stroke-width="2" />
<circle cx="171.95" cy="1402.01" r="2.5" fill="#000" stroke="none" stroke-width="1"/>
<circle cx="177.44" cy="1395.2" r="2.5" fill="#000" stroke="none" stroke-width="1"/>
<circle cx="174.02" cy="1392.3" r="2.5" fill="#000" stroke="none" stroke-width="1"/>
<circle cx="179.22" cy="1393.17" r="2.5" fill="#000" stroke="none" stroke-width="1"/>
<circle cx="174.53" cy="1384.95" r="2.5" fill="#000" stroke="none" stroke-width="1"/>
<rect x="187.56" y="1401.4" width="11.5" height="39.2" fill="#f5141f" stroke="#000" stroke-width="2.5" />
<line x1="193.31" y1="1408.4" x2="193.31" y2="1394.4" stroke="#000" stroke-width="2" />
<line x1="188.81" y1="1394.4" x2="197.81" y2="1394.4" stroke="#000" stroke-width="2" />
<line x1="188.81" y1="1408.4" x2="197.81" y2="1408.4" stroke="#000" stroke-width="2" />
<circle cx="190.55" cy="1428.93" r="2.5" fill="#000" stroke="none" stroke-width="1"/>
<circle cx="195.71" cy="1407.93" r="2.5" fill="#000" stroke="none" stroke-width="1"/>
<circle cx="192.51" cy="1400.93" r="2.5" fill="#000" stroke="none" stroke-width="1"/>
<circle cx="196.49" cy="1398.6" r="2.5" fill="#000" stroke="none" stroke-width="1"/>
<circle cx="193.32" cy="1376.66" r="2.5" fill="#000" stroke="none" stroke-width="1"/>
<line x1="183.61" y1="1440.6" x2="183.61" y2="1449.3" stroke="#000" stroke-width="3" />
<text x="192.21" y="1458.6" font-size="22.2" text-anchor="end" fill="#000" transform="rotate(-45 192.21 1458.6)" >L-glycine</text>
<rect x="215.24" y="1393.93" width="11.5" height="46.67" fill="#fff" stroke="#000" stroke-width="2.5" />
<line x1="220.99" y1="1396.73" x2="220.99" y2="1391.13" stroke="#000" stroke-width="2" />
<line x1="216.49" y1="1391.13" x2="225.49" y2="1391.13" stroke="#000" stroke-width="2" />
<line x1="216.49" y1="1396.73" x2="225.49" y2="1396.73" stroke="#000" stroke-width="2" />
<circle cx="217.31" cy="1403.71" r="2.5" fill="#000" stroke="none" stroke-width="1"/>
<circle cx="223.63" cy="1395.96" r="2.5" fill="#000" stroke="none" stroke-width="1"/>
<circle cx="220.64" cy="1393.25" r="2.5" fill="#000" stroke="none" stroke-width="1"/>
<circle cx="225.18" cy="1390.2" r="2.5" fill="#000" stroke="none" stroke-width="1"/>
<circle cx="221.78" cy="1382.88" r="2.5" fill="#000" stroke="none" stroke-width="1"/>
<rect x="233.44" y="1395.8" width="11.5" height="44.8" fill="#f5141f" stroke="#000" stroke-width="2.5" />
<line x1="239.19" y1="1401.4" x2="239.19" y2="1390.2" stroke="#000" stroke-width="2" />
<line x1="234.69" y1="1390.2" x2="243.69" y2="1390.2" stroke="#000" stroke-width="2" />
<line x1="234.69" y1="1401.4" x2="243.69" y2="1401.4" stroke="#000" stroke-width="2" />
<circle cx="235.15" cy="1407.93" r="2.5" fill="#000" stroke="none" stroke-width="1"/>
<circle cx="242.27" cy="1400.93" r="2.5" fill="#000" stroke="none" stroke-width="1"/>
<circle cx="238.93" cy="1396.26" r="2.5" fill="#000" stroke="none" stroke-width="1"/>
<circle cx="243.34" cy="1393.93" r="2.5" fill="#000" stroke="none" stroke-width="1"/>
<circle cx="239.3" cy="1372" r="2.5" fill="#000" stroke="none" stroke-width="1"/>
<line x1="229.49" y1="1440.6" x2="229.49" y2="1449.3" stroke="#000" stroke-width="3" />
<text x="238.09" y="1458.6" font-size="22.2" text-anchor="end" fill="#000" transform="rotate(-45 238.09 1458.6)" >L-phenylalanine</text>
<rect x="261.12" y="1393.93" width="11.5" height="46.67" fill="#fff" stroke="#000" stroke-width="2.5" />
<line x1="266.87" y1="1396.73" x2="266.87" y2="1391.13" stroke="#000" stroke-width="2" />
<line x1="262.37" y1="1391.13" x2="271.37" y2="1391.13" stroke="#000" stroke-width="2" />
<line x1="262.37" y1="1396.73" x2="271.37" y2="1396.73" stroke="#000" stroke-width="2" />
<circle cx="263.71" cy="1404.13" r="2.5" fill="#000" stroke="none" stroke-width="1"/>
<circle cx="269.9" cy="1396" r="2.5" fill="#000" stroke="none" stroke-width="1"/>
<circle cx="265.53" cy="1395.56" r="2.5" fill="#000" stroke="none" stroke-width="1"/>
<circle cx="270.94" cy="1389.68" r="2.5" fill="#000" stroke="none" stroke-width="1"/>
<circle cx="266.21" cy="1382.29" r="2.5" fill="#000" stroke="none" stroke-width="1"/>
<rect x="279.32" y="1388.33" width="11.5" height="52.27" fill="#f5141f" stroke="#000" stroke-width="2.5" />
<line x1="285.07" y1="1400.93" x2="285.07" y2="1375.73" stroke="#000" stroke-width="2" />
<line x1="280.57" y1="1375.73" x2="289.57" y2="1375.73" stroke="#000" stroke-width="2" />
<line x1="280.57" y1="1400.93" x2="289.57" y2="1400.93" stroke="#000" stroke-width="2" />
<circle cx="281.43" cy="1419.6" r="2.5" fill="#000" stroke="none" stroke-width="1"/>
<circle cx="287.01" cy="1407.93" r="2.5" fill="#000" stroke="none" stroke-width="1"/>
<circle cx="283.74" cy="1393.93" r="2.5" fill="#000" stroke="none" stroke-width="1"/>
<circle cx="289" cy="1369.66" r="2.5" fill="#000" stroke="none" stroke-width="1"/>
<circle cx="285.67" cy="1351.93" r="2.5" fill="#000" stroke="none" stroke-width="1"/>
<line x1="275.37" y1="1440.6" x2="275.37" y2="1449.3" stroke="#000" stroke-width="3" />
<text x="283.97" y="1458.6" font-size="22.2" text-anchor="end" fill="#000" transform="rotate(-45 283.97 1458.6)" >L-tyrosine</text>
<rect x="307" y="1393.93" width="11.5" height="46.67" fill="#fff" stroke="#000" stroke-width="2.5" />
<line x1="312.75" y1="1396.73" x2="312.75" y2="1391.13" stroke="#000" stroke-width="2" />
<line x1="308.25" y1="1391.13" x2="317.25" y2="1391.13" stroke="#000" stroke-width="2" />
<line x1="308.25" y1="1396.73" x2="317.25" y2="1396.73" stroke="#000" stroke-width="2" />
<circle cx="308.52" cy="1402.92" r="2.5" fill="#000" stroke="none" stroke-width="1"/>
<circle cx="314.52" cy="1395.49" r="2.5" fill="#000" stroke="none" stroke-width="1"/>
<circle cx="311.48" cy="1392.51" r="2.5" fill="#000" stroke="none" stroke-width="1"/>
<circle cx="317.02" cy="1391.58" r="2.5" fill="#000" stroke="none" stroke-width="1"/>
<circle cx="313.55" cy="1384.53" r="2.5" fill="#000" stroke="none" stroke-width="1"/>
<rect x="325.2" y="1390.2" width="11.5" height="50.4" fill="#f5141f" stroke="#000" stroke-width="2.5" />
<line x1="330.95" y1="1402.8" x2="330.95" y2="1377.6" stroke="#000" stroke-width="2" />
<line x1="326.45" y1="1377.6" x2="335.45" y2="1377.6" stroke="#000" stroke-width="2" />
<line x1="326.45" y1="1402.8" x2="335.45" y2="1402.8" stroke="#000" stroke-width="2" />
<circle cx="326.77" cy="1425.2" r="2.5" fill="#000" stroke="none" stroke-width="1"/>
<circle cx="333.61" cy="1398.6" r="2.5" fill="#000" stroke="none" stroke-width="1"/>
<circle cx="329.2" cy="1393.93" r="2.5" fill="#000" stroke="none" stroke-width="1"/>
<circle cx="333.97" cy="1389.26" r="2.5" fill="#000" stroke="none" stroke-width="1"/>
<circle cx="330.8" cy="1342.59" r="2.5" fill="#000" stroke="none" stroke-width="1"/>
<line x1="321.25" y1="1440.6" x2="321.25" y2="1449.3" stroke="#000" stroke-width="3" />
<text x="329.85" y="1458.6" font-size="22.2" text-anchor="end" fill="#000" transform="rotate(-45 329.85 1458.6)" >L-tryptophan</text>
<rect x="352.88" y="1393.93" width="11.5" height="46.67" fill="#fff" stroke="#000" stroke-width="2.5" />
<line x1="358.63" y1="1396.73" x2="358.63" y2="1391.13" stroke="#000" stroke-width="2" />
<line x1="354.13" y1="1391.13" x2="363.13" y2="1391.13" stroke="#000" stroke-width="2" />
<line x1="354.13" y1="1396.73" x2="363.13" y2="1396.73" stroke="#000" stroke-width="2" />
<circle cx="355.31" cy="1404.29" r="2.5" fill="#000" stroke="none" stroke-width="1"/>
<circle cx="360.4" cy="1394.96" r="2.5" fill="#000" stroke="none" stroke-width="1"/>
<circle cx="357.33" cy="1392.22" r="2.5" fill="#000" stroke="none" stroke-width="1"/>
<circle cx="362.76" cy="1392.08" r="2.5" fill="#000" stroke="none" stroke-width="1"/>
<circle cx="358.57" cy="1383.57" r="2.5" fill="#000" stroke="none" stroke-width="1"/>
<rect x="371.08" y="1394.4" width="11.5" height="46.2" fill="#f5141f" stroke="#000" stroke-width="2.5" />
<line x1="376.83" y1="1401.4" x2="376.83" y2="1387.4" stroke="#000" stroke-width="2" />
<line x1="372.33" y1="1387.4" x2="381.33" y2="1387.4" stroke="#000" stroke-width="2" />
<line x1="372.33" y1="1401.4" x2="381.33" y2="1401.4" stroke="#000" stroke-width="2" />
<circle cx="373.56" cy="1407.93" r="2.5" fill="#000" stroke="none" stroke-width="1"/>
<circle cx="379.48" cy="1403.26" r="2.5" fill="#000" stroke="none" stroke-width="1"/>
<circle cx="375.92" cy="1398.6" r="2.5" fill="#000" stroke="none" stroke-width="1"/>
<circle cx="380.52" cy="1393.93" r="2.5" fill="#000" stroke="none" stroke-width="1"/>
<circle cx="377.53" cy="1364.99" r="2.5" fill="#000" stroke="none" stroke-width="1"/>
<line x1="367.13" y1="1440.6" x2="367.13" y2="1449.3" stroke="#000" stroke-width="3" />
<text x="375.73" y="1458.6" font-size="22.2" text-anchor="end" fill="#000" transform="rotate(-45 375.73 1458.6)" >L-valine</text>
<rect x="398.76" y="1393.93" width="11.5" height="46.67" fill="#fff" stroke="#000" stroke-width="2.5" />
<line x1="404.51" y1="1396.73" x2="404.51" y2="1391.13" stroke="#000" stroke-width="2" />
<line x1="400.01" y1="1391.13" x2="409.01" y2="1391.13" stroke="#000" stroke-width="2" />
<line x1="400.01" y1="1396.73" x2="409.01" y2="1396.73" stroke="#000" stroke-width="2" />
<circle cx="401.02" cy="1403.47" r="2.5" fill="#000" stroke="none" stroke-width="1"/>
<circle cx="407.36" cy="1397.19" r="2.5" fill="#000" stroke="none" stroke-width="1"/>
<circle cx="403.19" cy="1392.15" r="2.5" fill="#000" stroke="none" stroke-width="1"/>
<circle cx="408.04" cy="1391.41" r="2.5" fill="#000" stroke="none" stroke-width="1"/>
<circle cx="403.73" cy="1384.05" r="2.5" fill="#000" stroke="none" stroke-width="1"/>
<rect x="416.96" y="1389.26" width="11.5" height="51.34" fill="#f5141f" stroke="#000" stroke-width="2.5" />
<line x1="422.71" y1="1399.53" x2="422.71" y2="1379" stroke="#000" stroke-width="2" />
<line x1="418.21" y1="1379" x2="427.21" y2="1379" stroke="#000" stroke-width="2" />
<line x1="418.21" y1="1399.53" x2="427.21" y2="1399.53" stroke="#000" stroke-width="2" />
<circle cx="419.34" cy="1418.67" r="2.5" fill="#000" stroke="none" stroke-width="1"/>
<circle cx="424.44" cy="1396.26" r="2.5" fill="#000" stroke="none" stroke-width="1"/>
<circle cx="421.9" cy="1389.26" r="2.5" fill="#000" stroke="none" stroke-width="1"/>
<circle cx="426.42" cy="1386.93" r="2.5" fill="#000" stroke="none" stroke-width="1"/>
<circle cx="422.01" cy="1354.26" r="2.5" fill="#000" stroke="none" stroke-width="1"/>
<line x1="413.01" y1="1440.6" x2="413.01" y2="1449.3" stroke="#000" stroke-width="3" />
<text x="421.61" y="1458.6" font-size="22.2" text-anchor="end" fill="#000" transform="rotate(-45 421.61 1458.6)" >L-proline</text>
<rect x="444.64" y="1393.93" width="11.5" height="46.67" fill="#fff" stroke="#000" stroke-width="2.5" />
<line x1="450.39" y1="1396.73" x2="450.39" y2="1391.13" stroke="#000" stroke-width="2" />
<line x1="445.89" y1="1391.13" x2="454.89" y2="1391.13" stroke="#000" stroke-width="2" />
<line x1="445.89" y1="1396.73" x2="454.89" y2="1396.73" stroke="#000" stroke-width="2" />
<circle cx="447.09" cy="1403.36" r="2.5" fill="#000" stroke="none" stroke-width="1"/>
<circle cx="453.18" cy="1396.79" r="2.5" fill="#000" stroke="none" stroke-width="1"/>
<circle cx="449.72" cy="1393.04" r="2.5" fill="#000" stroke="none" stroke-width="1"/>
<circle cx="453.13" cy="1393.32" r="2.5" fill="#000" stroke="none" stroke-width="1"/>
<circle cx="450.67" cy="1381.55" r="2.5" fill="#000" stroke="none" stroke-width="1"/>
<rect x="462.84" y="1384.6" width="11.5" height="56" fill="#f5141f" stroke="#000" stroke-width="2.5" />
<line x1="468.59" y1="1394.86" x2="468.59" y2="1374.33" stroke="#000" stroke-width="2" />
<line x1="464.09" y1="1374.33" x2="473.09" y2="1374.33" stroke="#000" stroke-width="2" />
<line x1="464.09" y1="1394.86" x2="473.09" y2="1394.86" stroke="#000" stroke-width="2" />
<circle cx="464.69" cy="1406.53" r="2.5" fill="#000" stroke="none" stroke-width="1"/>
<circle cx="471.02" cy="1400.93" r="2.5" fill="#000" stroke="none" stroke-width="1"/>
<circle cx="467.74" cy="1393.93" r="2.5" fill="#000" stroke="none" stroke-width="1"/>
<circle cx="471.8" cy="1379.93" r="2.5" fill="#000" stroke="none" stroke-width="1"/>
<circle cx="468.37" cy="1343.53" r="2.5" fill="#000" stroke="none" stroke-width="1"/>
<line x1="458.89" y1="1440.6" x2="458.89" y2="1449.3" stroke="#000" stroke-width="3" />
<text x="467.49" y="1458.6" font-size="22.2" text-anchor="end" fill="#000" transform="rotate(-45 467.49 1458.6)" >L-isoleucine/L-leucine</text>
<rect x="490.52" y="1393.93" width="11.5" height="46.67" fill="#fff" stroke="#000" stroke-width="2.5" />
<line x1="496.27" y1="1396.73" x2="496.27" y2="1391.13" stroke="#000" stroke-width="2" />
<line x1="491.77" y1="1391.13" x2="500.77" y2="1391.13" stroke="#000" stroke-width="2" />
<line x1="491.77" y1="1396.73" x2="500.77" y2="1396.73" stroke="#000" stroke-width="2" />
<circle cx="492.47" cy="1403.65" r="2.5" fill="#000" stroke="none" stroke-width="1"/>
<circle cx="498.92" cy="1396.97" r="2.5" fill="#000" stroke="none" stroke-width="1"/>
<circle cx="495.07" cy="1392.91" r="2.5" fill="#000" stroke="none" stroke-width="1"/>
<circle cx="499.01" cy="1391.32" r="2.5" fill="#000" stroke="none" stroke-width="1"/>
<circle cx="496.65" cy="1384.53" r="2.5" fill="#000" stroke="none" stroke-width="1"/>
<rect x="508.72" y="1401.86" width="11.5" height="38.74" fill="#f5141f" stroke="#000" stroke-width="2.5" />
<line x1="514.47" y1="1408.86" x2="514.47" y2="1394.86" stroke="#000" stroke-width="2" />
<line x1="509.97" y1="1394.86" x2="518.97" y2="1394.86" stroke="#000" stroke-width="2" />
<line x1="509.97" y1="1408.86" x2="518.97" y2="1408.86" stroke="#000" stroke-width="2" />
<circle cx="510.53" cy="1419.6" r="2.5" fill="#000" stroke="none" stroke-width="1"/>
<circle cx="517.46" cy="1410.26" r="2.5" fill="#000" stroke="none" stroke-width="1"/>
<circle cx="513.05" cy="1403.26" r="2.5" fill="#000" stroke="none" stroke-width="1"/>
<circle cx="517.47" cy="1398.6" r="2.5" fill="#000" stroke="none" stroke-width="1"/>
<circle cx="514.37" cy="1369.66" r="2.5" fill="#000" stroke="none" stroke-width="1"/>
<line x1="504.77" y1="1440.6" x2="504.77" y2="1449.3" stroke="#000" stroke-width="3" />
<text x="513.37" y="1458.6" font-size="22.2" text-anchor="end" fill="#000" transform="rotate(-45 513.37 1458.6)" >L-lysine</text>
<rect x="536.4" y="1393.93" width="11.5" height="46.67" fill="#fff" stroke="#000" stroke-width="2.5" />
<line x1="542.15" y1="1396.73" x2="542.15" y2="1391.13" stroke="#000" stroke-width="2" />
<line x1="537.65" y1="1391.13" x2="546.65" y2="1391.13" stroke="#000" stroke-width="2" />
<line x1="537.65" y1="1396.73" x2="546.65" y2="1396.73" stroke="#000" stroke-width="2" />
<circle cx="538.97" cy="1404.45" r="2.5" fill="#000" stroke="none" stroke-width="1"/>
<circle cx="544.37" cy="1396.85" r="2.5" fill="#000" stroke="none" stroke-width="1"/>
<circle cx="541.68" cy="1394.16" r="2.5" fill="#000" stroke="none" stroke-width="1"/>
<circle cx="546.22" cy="1392.89" r="2.5" fill="#000" stroke="none" stroke-width="1"/>
<circle cx="541.89" cy="1382.98" r="2.5" fill="#000" stroke="none" stroke-width="1"/>
<rect x="554.6" y="1390.2" width="11.5" height="50.4" fill="#f5141f" stroke="#000" stroke-width="2.5" />
<line x1="560.35" y1="1399.53" x2="560.35" y2="1380.86" stroke="#000" stroke-width="2" />
<line x1="555.85" y1="1380.86" x2="564.85" y2="1380.86" stroke="#000" stroke-width="2" />
<line x1="555.85" y1="1399.53" x2="564.85" y2="1399.53" stroke="#000" stroke-width="2" />
<circle cx="557.47" cy="1419.6" r="2.5" fill="#000" stroke="none" stroke-width="1"/>
<circle cx="562.77" cy="1398.6" r="2.5" fill="#000" stroke="none" stroke-width="1"/>
<circle cx="558.91" cy="1393.93" r="2.5" fill="#000" stroke="none" stroke-width="1"/>
<circle cx="563.24" cy="1384.6" r="2.5" fill="#000" stroke="none" stroke-width="1"/>
<circle cx="560.4" cy="1356.59" r="2.5" fill="#000" stroke="none" stroke-width="1"/>
<line x1="550.65" y1="1440.6" x2="550.65" y2="1449.3" stroke="#000" stroke-width="3" />
<text x="559.25" y="1458.6" font-size="22.2" text-anchor="end" fill="#000" transform="rotate(-45 559.25 1458.6)" >L-alanine</text>
<rect x="582.28" y="1393.93" width="11.5" height="46.67" fill="#fff" stroke="#000" stroke-width="2.5" />
<line x1="588.03" y1="1396.73" x2="588.03" y2="1391.13" stroke="#000" stroke-width="2" />
<line x1="583.53" y1="1391.13" x2="592.53" y2="1391.13" stroke="#000" stroke-width="2" />
<line x1="583.53" y1="1396.73" x2="592.53" y2="1396.73" stroke="#000" stroke-width="2" />
<circle cx="584.04" cy="1402.35" r="2.5" fill="#000" stroke="none" stroke-width="1"/>
<circle cx="591.07" cy="1397.39" r="2.5" fill="#000" stroke="none" stroke-width="1"/>
<circle cx="586.68" cy="1392.78" r="2.5" fill="#000" stroke="none" stroke-width="1"/>
<circle cx="591.76" cy="1390.4" r="2.5" fill="#000" stroke="none" stroke-width="1"/>
<circle cx="587.78" cy="1385.35" r="2.5" fill="#000" stroke="none" stroke-width="1"/>
<rect x="600.48" y="1375.73" width="11.5" height="64.87" fill="#f5141f" stroke="#000" stroke-width="2.5" />
<line x1="606.23" y1="1382.73" x2="606.23" y2="1368.73" stroke="#000" stroke-width="2" />
<line x1="601.73" y1="1368.73" x2="610.73" y2="1368.73" stroke="#000" stroke-width="2" />
<line x1="601.73" y1="1382.73" x2="610.73" y2="1382.73" stroke="#000" stroke-width="2" />
<circle cx="602.4" cy="1400.93" r="2.5" fill="#000" stroke="none" stroke-width="1"/>
<circle cx="609.2" cy="1384.6" r="2.5" fill="#000" stroke="none" stroke-width="1"/>
<circle cx="604.86" cy="1377.6" r="2.5" fill="#000" stroke="none" stroke-width="1"/>
<circle cx="609.48" cy="1368.26" r="2.5" fill="#000" stroke="none" stroke-width="1"/>
<circle cx="606.1" cy="1351.93" r="2.5" fill="#000" stroke="none" stroke-width="1"/>
<line x1="596.53" y1="1440.6" x2="596.53" y2="1449.3" stroke="#000" stroke-width="3" />
<text x="605.13" y="1458.6" font-size="22.2" text-anchor="end" fill="#000" transform="rotate(-45 605.13 1458.6)" >L-histidine</text>
<rect x="628.16" y="1393.93" width="11.5" height="46.67" fill="#fff" stroke="#000" stroke-width="2.5" />
<line x1="633.91" y1="1396.73" x2="633.91" y2="1391.13" stroke="#000" stroke-width="2" />
<line x1="629.41" y1="1391.13" x2="638.41" y2="1391.13" stroke="#000" stroke-width="2" />
<line x1="629.41" y1="1396.73" x2="638.41" y2="1396.73" stroke="#000" stroke-width="2" />
<circle cx="630.28" cy="1403.53" r="2.5" fill="#000" stroke="none" stroke-width="1"/>
<circle cx="637.08" cy="1397.48" r="2.5" fill="#000" stroke="none" stroke-width="1"/>
<circle cx="632.12" cy="1392.28" r="2.5" fill="#000" stroke="none" stroke-width="1"/>
<circle cx="638.02" cy="1389.69" r="2.5" fill="#000" stroke="none" stroke-width="1"/>
<circle cx="633.8" cy="1381.61" r="2.5" fill="#000" stroke="none" stroke-width="1"/>
<rect x="646.36" y="1392.53" width="11.5" height="48.07" fill="#f5141f" stroke="#000" stroke-width="2.5" />
<line x1="652.11" y1="1404.2" x2="652.11" y2="1380.86" stroke="#000" stroke-width="2" />
<line x1="647.61" y1="1380.86" x2="656.61" y2="1380.86" stroke="#000" stroke-width="2" />
<line x1="647.61" y1="1404.2" x2="656.61" y2="1404.2" stroke="#000" stroke-width="2" />
<circle cx="649.29" cy="1426.6" r="2.5" fill="#000" stroke="none" stroke-width="1"/>
<circle cx="654.17" cy="1398.6" r="2.5" fill="#000" stroke="none" stroke-width="1"/>
<circle cx="651.5" cy="1393.93" r="2.5" fill="#000" stroke="none" stroke-width="1"/>
<circle cx="656.15" cy="1386.93" r="2.5" fill="#000" stroke="none" stroke-width="1"/>
<circle cx="652.37" cy="1356.59" r="2.5" fill="#000" stroke="none" stroke-width="1"/>
<line x1="642.41" y1="1440.6" x2="642.41" y2="1449.3" stroke="#000" stroke-width="3" />
<text x="651.01" y="1458.6" font-size="22.2" text-anchor="end" fill="#000" transform="rotate(-45 651.01 1458.6)" >L-threonine</text>
<rect x="674.04" y="1393.93" width="11.5" height="46.67" fill="#fff" stroke="#000" stroke-width="2.5" />
<line x1="679.79" y1="1396.73" x2="679.79" y2="1391.13" stroke="#000" stroke-width="2" />
<line x1="675.29" y1="1391.13" x2="684.29" y2="1391.13" stroke="#000" stroke-width="2" />
<line x1="675.29" y1="1396.73" x2="684.29" y2="1396.73" stroke="#000" stroke-width="2" />
<circle cx="676.32" cy="1403.89" r="2.5" fill="#000" stroke="none" stroke-width="1"/>
<circle cx="682.04" cy="1397.23" r="2.5" fill="#000" stroke="none" stroke-width="1"/>
<circle cx="678.1" cy="1393.6" r="2.5" fill="#000" stroke="none" stroke-width="1"/>
<circle cx="682.95" cy="1390.38" r="2.5" fill="#000" stroke="none" stroke-width="1"/>
<circle cx="679.06" cy="1381.82" r="2.5" fill="#000" stroke="none" stroke-width="1"/>
<rect x="692.24" y="1380.86" width="11.5" height="59.74" fill="#f5141f" stroke="#000" stroke-width="2.5" />
<line x1="697.99" y1="1393.46" x2="697.99" y2="1368.26" stroke="#000" stroke-width="2" />
<line x1="693.49" y1="1368.26" x2="702.49" y2="1368.26" stroke="#000" stroke-width="2" />
<line x1="693.49" y1="1393.46" x2="702.49" y2="1393.46" stroke="#000" stroke-width="2" />
<circle cx="694.8" cy="1403.26" r="2.5" fill="#000" stroke="none" stroke-width="1"/>
<circle cx="701.17" cy="1398.6" r="2.5" fill="#000" stroke="none" stroke-width="1"/>
<circle cx="697.62" cy="1391.6" r="2.5" fill="#000" stroke="none" stroke-width="1"/>
<circle cx="702.13" cy="1379.93" r="2.5" fill="#000" stroke="none" stroke-width="1"/>
<circle cx="698.11" cy="1328.59" r="2.5" fill="#000" stroke="none" stroke-width="1"/>
<line x1="688.29" y1="1440.6" x2="688.29" y2="1449.3" stroke="#000" stroke-width="3" />
<text x="696.89" y="1458.6" font-size="22.2" text-anchor="end" fill="#000" transform="rotate(-45 696.89 1458.6)" >L-arginine</text>
<rect x="719.92" y="1393.93" width="11.5" height="46.67" fill="#fff" stroke="#000" stroke-width="2.5" />
<line x1="725.67" y1="1396.73" x2="725.67" y2="1391.13" stroke="#000" stroke-width="2" />
<line x1="721.17" y1="1391.13" x2="730.17" y2="1391.13" stroke="#000" stroke-width="2" />
<line x1="721.17" y1="1396.73" x2="730.17" y2="1396.73" stroke="#000" stroke-width="2" />
<circle cx="721.39" cy="1402.53" r="2.5" fill="#000" stroke="none" stroke-width="1"/>
<circle cx="727.64" cy="1396.97" r="2.5" fill="#000" stroke="none" stroke-width="1"/>
<circle cx="724.93" cy="1393.84" r="2.5" fill="#000" stroke="none" stroke-width="1"/>
<circle cx="729.03" cy="1389.88" r="2.5" fill="#000" stroke="none" stroke-width="1"/>
<circle cx="725.85" cy="1384.39" r="2.5" fill="#000" stroke="none" stroke-width="1"/>
<rect x="738.12" y="1403.26" width="11.5" height="37.34" fill="#f5141f" stroke="#000" stroke-width="2.5" />
<line x1="743.87" y1="1410.26" x2="743.87" y2="1396.26" stroke="#000" stroke-width="2" />
<line x1="739.37" y1="1396.26" x2="748.37" y2="1396.26" stroke="#000" stroke-width="2" />
<line x1="739.37" y1="1410.26" x2="748.37" y2="1410.26" stroke="#000" stroke-width="2" />
<circle cx="739.97" cy="1421.93" r="2.5" fill="#000" stroke="none" stroke-width="1"/>
<circle cx="746.95" cy="1417.26" r="2.5" fill="#000" stroke="none" stroke-width="1"/>
<circle cx="742.83" cy="1400.93" r="2.5" fill="#000" stroke="none" stroke-width="1"/>
<circle cx="747.82" cy="1396.26" r="2.5" fill="#000" stroke="none" stroke-width="1"/>
<circle cx="743.63" cy="1379.93" r="2.5" fill="#000" stroke="none" stroke-width="1"/>
<line x1="734.17" y1="1440.6" x2="734.17" y2="1449.3" stroke="#000" stroke-width="3" />
<text x="742.77" y="1458.6" font-size="22.2" text-anchor="end" fill="#000" transform="rotate(-45 742.77 1458.6)" >L-aspartate</text>
<rect x="765.8" y="1393.93" width="11.5" height="46.67" fill="#fff" stroke="#000" stroke-width="2.5" />
<line x1="771.55" y1="1396.73" x2="771.55" y2="1391.13" stroke="#000" stroke-width="2" />
<line x1="767.05" y1="1391.13" x2="776.05" y2="1391.13" stroke="#000" stroke-width="2" />
<line x1="767.05" y1="1396.73" x2="776.05" y2="1396.73" stroke="#000" stroke-width="2" />
<circle cx="767.57" cy="1403.16" r="2.5" fill="#000" stroke="none" stroke-width="1"/>
<circle cx="774.56" cy="1397.43" r="2.5" fill="#000" stroke="none" stroke-width="1"/>
<circle cx="771.02" cy="1392.36" r="2.5" fill="#000" stroke="none" stroke-width="1"/>
<circle cx="775.54" cy="1390.33" r="2.5" fill="#000" stroke="none" stroke-width="1"/>
<circle cx="770.76" cy="1383.08" r="2.5" fill="#000" stroke="none" stroke-width="1"/>
<rect x="784" y="1387.4" width="11.5" height="53.2" fill="#f5141f" stroke="#000" stroke-width="2.5" />
<line x1="789.75" y1="1395.8" x2="789.75" y2="1379" stroke="#000" stroke-width="2" />
<line x1="785.25" y1="1379" x2="794.25" y2="1379" stroke="#000" stroke-width="2" />
<line x1="785.25" y1="1395.8" x2="794.25" y2="1395.8" stroke="#000" stroke-width="2" />
<circle cx="786.83" cy="1412.6" r="2.5" fill="#000" stroke="none" stroke-width="1"/>
<circle cx="791.53" cy="1403.26" r="2.5" fill="#000" stroke="none" stroke-width="1"/>
<circle cx="788.38" cy="1393.93" r="2.5" fill="#000" stroke="none" stroke-width="1"/>
<circle cx="792.88" cy="1379.93" r="2.5" fill="#000" stroke="none" stroke-width="1"/>
<circle cx="789.79" cy="1358.93" r="2.5" fill="#000" stroke="none" stroke-width="1"/>
<line x1="780.05" y1="1440.6" x2="780.05" y2="1449.3" stroke="#000" stroke-width="3" />
<text x="788.65" y="1458.6" font-size="22.2" text-anchor="end" fill="#000" transform="rotate(-45 788.65 1458.6)" >L-asparagine</text>
<rect x="811.68" y="1393.93" width="11.5" height="46.67" fill="#fff" stroke="#000" stroke-width="2.5" />
<line x1="817.43" y1="1396.73" x2="817.43" y2="1391.13" stroke="#000" stroke-width="2" />
<line x1="812.93" y1="1391.13" x2="821.93" y2="1391.13" stroke="#000" stroke-width="2" />
<line x1="812.93" y1="1396.73" x2="821.93" y2="1396.73" stroke="#000" stroke-width="2" />
<circle cx="813.81" cy="1403.34" r="2.5" fill="#000" stroke="none" stroke-width="1"/>
<circle cx="820.37" cy="1398.03" r="2.5" fill="#000" stroke="none" stroke-width="1"/>
<circle cx="815.72" cy="1395.32" r="2.5" fill="#000" stroke="none" stroke-width="1"/>
<circle cx="820.33" cy="1393.29" r="2.5" fill="#000" stroke="none" stroke-width="1"/>
<circle cx="818.19" cy="1382.05" r="2.5" fill="#000" stroke="none" stroke-width="1"/>
<rect x="829.88" y="1383.2" width="11.5" height="57.4" fill="#f5141f" stroke="#000" stroke-width="2.5" />
<line x1="835.63" y1="1390.2" x2="835.63" y2="1376.2" stroke="#000" stroke-width="2" />
<line x1="831.13" y1="1376.2" x2="840.13" y2="1376.2" stroke="#000" stroke-width="2" />
<line x1="831.13" y1="1390.2" x2="840.13" y2="1390.2" stroke="#000" stroke-width="2" />
<circle cx="831.47" cy="1407" r="2.5" fill="#000" stroke="none" stroke-width="1"/>
<circle cx="838.13" cy="1393.93" r="2.5" fill="#000" stroke="none" stroke-width="1"/>
<circle cx="834.34" cy="1384.6" r="2.5" fill="#000" stroke="none" stroke-width="1"/>
<circle cx="838.83" cy="1377.6" r="2.5" fill="#000" stroke="none" stroke-width="1"/>
<circle cx="835.39" cy="1356.59" r="2.5" fill="#000" stroke="none" stroke-width="1"/>
<line x1="825.93" y1="1440.6" x2="825.93" y2="1449.3" stroke="#000" stroke-width="3" />
<text x="834.53" y="1458.6" font-size="22.2" text-anchor="end" fill="#000" transform="rotate(-45 834.53 1458.6)" >L-glutamine</text>
<rect x="857.56" y="1393.93" width="11.5" height="46.67" fill="#fff" stroke="#000" stroke-width="2.5" />
<line x1="863.31" y1="1396.73" x2="863.31" y2="1391.13" stroke="#000" stroke-width="2" />
<line x1="858.81" y1="1391.13" x2="867.81" y2="1391.13" stroke="#000" stroke-width="2" />
<line x1="858.81" y1="1396.73" x2="867.81" y2="1396.73" stroke="#000" stroke-width="2" />
<circle cx="860.05" cy="1403.01" r="2.5" fill="#000" stroke="none" stroke-width="1"/>
<circle cx="865.59" cy="1397.36" r="2.5" fill="#000" stroke="none" stroke-width="1"/>
<circle cx="862.04" cy="1395.33" r="2.5" fill="#000" stroke="none" stroke-width="1"/>
<circle cx="866.9" cy="1390.75" r="2.5" fill="#000" stroke="none" stroke-width="1"/>
<circle cx="863.12" cy="1385.58" r="2.5" fill="#000" stroke="none" stroke-width="1"/>
<rect x="875.76" y="1400.46" width="11.5" height="40.14" fill="#f5141f" stroke="#000" stroke-width="2.5" />
<line x1="881.51" y1="1406.06" x2="881.51" y2="1394.86" stroke="#000" stroke-width="2" />
<line x1="877.01" y1="1394.86" x2="886.01" y2="1394.86" stroke="#000" stroke-width="2" />
<line x1="877.01" y1="1406.06" x2="886.01" y2="1406.06" stroke="#000" stroke-width="2" />
<circle cx="877.5" cy="1412.6" r="2.5" fill="#000" stroke="none" stroke-width="1"/>
<circle cx="883.81" cy="1410.26" r="2.5" fill="#000" stroke="none" stroke-width="1"/>
<circle cx="880.68" cy="1403.26" r="2.5" fill="#000" stroke="none" stroke-width="1"/>
<circle cx="885.46" cy="1389.26" r="2.5" fill="#000" stroke="none" stroke-width="1"/>
<circle cx="881.32" cy="1384.6" r="2.5" fill="#000" stroke="none" stroke-width="1"/>
<line x1="871.81" y1="1440.6" x2="871.81" y2="1449.3" stroke="#000" stroke-width="3" />
<text x="880.41" y="1458.6" font-size="22.2" text-anchor="end" fill="#000" transform="rotate(-45 880.41 1458.6)" >L-glutamate</text>
<line x1="70.4" y1="1299.4" x2="70.4" y2="1441.8" stroke="#000" stroke-width="3.3" />
<line x1="69.2" y1="1440.6" x2="899" y2="1440.6" stroke="#000" stroke-width="3.3" />
<line x1="61.6" y1="1440.6" x2="70.4" y2="1440.6" stroke="#000" stroke-width="3" />
<text x="59.5" y="1448" font-size="21" text-anchor="end" fill="#000" >0</text>
<line x1="61.6" y1="1393.93" x2="70.4" y2="1393.93" stroke="#000" stroke-width="3" />
<text x="59.5" y="1401.33" font-size="21" text-anchor="end" fill="#000" >1</text>
<line x1="61.6" y1="1347.26" x2="70.4" y2="1347.26" stroke="#000" stroke-width="3" />
<text x="59.5" y="1354.66" font-size="21" text-anchor="end" fill="#000" >2</text>
<line x1="61.6" y1="1300.59" x2="70.4" y2="1300.59" stroke="#000" stroke-width="3" />
<text x="59.5" y="1307.99" font-size="21" text-anchor="end" fill="#000" >3</text>
<text x="35" y="1368" font-size="21" text-anchor="middle" fill="#000" transform="rotate(-90 35 1368)" textLength="143" lengthAdjust="spacing" >Relative intensity</text>
<text x="448" y="1256.7" font-size="25" text-anchor="middle" fill="#000" >Amino acids</text>
<text x="102.4" y="1402" font-size="18" text-anchor="middle" fill="#e8143c" >*</text>
<rect x="768.9" y="1271.1" width="19.6" height="20.2" fill="#fff" stroke="#000" stroke-width="2.8" />
<rect x="769.7" y="1301.2" width="19.8" height="21.6" fill="#f5141f" stroke="#000" stroke-width="2.8" />
<text x="799.8" y="1284.3" font-size="21" text-anchor="start" fill="#000" >Control</text>
<text x="800.5" y="1315.3" font-size="21" text-anchor="start" fill="#000" >MR</text>
<rect x="1005.3" y="1352.6" width="14.8" height="90.3" fill="#fff" stroke="#000" stroke-width="2.5" />
<line x1="1012.7" y1="1358.92" x2="1012.7" y2="1346.28" stroke="#000" stroke-width="2" />
<line x1="1008.2" y1="1346.28" x2="1017.2" y2="1346.28" stroke="#000" stroke-width="2" />
<line x1="1008.2" y1="1358.92" x2="1017.2" y2="1358.92" stroke="#000" stroke-width="2" />
<circle cx="1008.78" cy="1372.22" r="2.5" fill="#000" stroke="none" stroke-width="1"/>
<circle cx="1014.99" cy="1358.22" r="2.5" fill="#000" stroke="none" stroke-width="1"/>
<circle cx="1011.9" cy="1355.74" r="2.5" fill="#000" stroke="none" stroke-width="1"/>
<circle cx="1015.42" cy="1345.53" r="2.5" fill="#000" stroke="none" stroke-width="1"/>
<circle cx="1012.31" cy="1334.19" r="2.5" fill="#000" stroke="none" stroke-width="1"/>
<rect x="1026.3" y="1414.91" width="14.8" height="27.99" fill="#f5141f" stroke="#000" stroke-width="2.5" />
<line x1="1033.7" y1="1420.33" x2="1033.7" y2="1409.49" stroke="#000" stroke-width="2" />
<line x1="1029.2" y1="1409.49" x2="1038.2" y2="1409.49" stroke="#000" stroke-width="2" />
<line x1="1029.2" y1="1420.33" x2="1038.2" y2="1420.33" stroke="#000" stroke-width="2" />
<circle cx="1030.99" cy="1431.16" r="2.5" fill="#000" stroke="none" stroke-width="1"/>
<circle cx="1036.15" cy="1424.84" r="2.5" fill="#000" stroke="none" stroke-width="1"/>
<circle cx="1033.24" cy="1415.81" r="2.5" fill="#000" stroke="none" stroke-width="1"/>
<circle cx="1037.16" cy="1413.1" r="2.5" fill="#000" stroke="none" stroke-width="1"/>
<circle cx="1033.92" cy="1395.04" r="2.5" fill="#000" stroke="none" stroke-width="1"/>
<line x1="1022.6" y1="1442.9" x2="1022.6" y2="1451.6" stroke="#000" stroke-width="3" />
<text x="1036.2" y="1461.4" font-size="22.2" text-anchor="end" fill="#000" transform="rotate(-45 1036.2 1461.4)" >L-methionine</text>
<rect x="1063.15" y="1352.6" width="14.8" height="90.3" fill="#fff" stroke="#000" stroke-width="2.5" />
<line x1="1070.55" y1="1359.82" x2="1070.55" y2="1345.38" stroke="#000" stroke-width="2" />
<line x1="1066.05" y1="1345.38" x2="1075.05" y2="1345.38" stroke="#000" stroke-width="2" />
<line x1="1066.05" y1="1359.82" x2="1075.05" y2="1359.82" stroke="#000" stroke-width="2" />
<circle cx="1066.49" cy="1372.62" r="2.5" fill="#000" stroke="none" stroke-width="1"/>
<circle cx="1073.64" cy="1366" r="2.5" fill="#000" stroke="none" stroke-width="1"/>
<circle cx="1069.94" cy="1351.36" r="2.5" fill="#000" stroke="none" stroke-width="1"/>
<circle cx="1073.35" cy="1341.52" r="2.5" fill="#000" stroke="none" stroke-width="1"/>
<circle cx="1070.7" cy="1334.49" r="2.5" fill="#000" stroke="none" stroke-width="1"/>
<rect x="1084.15" y="1382.4" width="14.8" height="60.5" fill="#f5141f" stroke="#000" stroke-width="2.5" />
<line x1="1091.55" y1="1395.04" x2="1091.55" y2="1369.76" stroke="#000" stroke-width="2" />
<line x1="1087.05" y1="1369.76" x2="1096.05" y2="1369.76" stroke="#000" stroke-width="2" />
<line x1="1087.05" y1="1395.04" x2="1096.05" y2="1395.04" stroke="#000" stroke-width="2" />
<circle cx="1087.3" cy="1429.36" r="2.5" fill="#000" stroke="none" stroke-width="1"/>
<circle cx="1094.63" cy="1393.24" r="2.5" fill="#000" stroke="none" stroke-width="1"/>
<circle cx="1090.51" cy="1384.21" r="2.5" fill="#000" stroke="none" stroke-width="1"/>
<circle cx="1095.4" cy="1370.66" r="2.5" fill="#000" stroke="none" stroke-width="1"/>
<circle cx="1092.16" cy="1348.09" r="2.5" fill="#000" stroke="none" stroke-width="1"/>
<line x1="1080.45" y1="1442.9" x2="1080.45" y2="1451.6" stroke="#000" stroke-width="3" />
<text x="1094.05" y="1461.4" font-size="22.2" text-anchor="end" fill="#000" transform="rotate(-45 1094.05 1461.4)" >L-homocysteine</text>
<rect x="1121" y="1352.6" width="14.8" height="90.3" fill="#fff" stroke="#000" stroke-width="2.5" />
<line x1="1128.4" y1="1358.92" x2="1128.4" y2="1346.28" stroke="#000" stroke-width="2" />
<line x1="1123.9" y1="1346.28" x2="1132.9" y2="1346.28" stroke="#000" stroke-width="2" />
<line x1="1123.9" y1="1358.92" x2="1132.9" y2="1358.92" stroke="#000" stroke-width="2" />
<circle cx="1125.24" cy="1365.43" r="2.5" fill="#000" stroke="none" stroke-width="1"/>
<circle cx="1130.73" cy="1364.3" r="2.5" fill="#000" stroke="none" stroke-width="1"/>
<circle cx="1127.31" cy="1349.45" r="2.5" fill="#000" stroke="none" stroke-width="1"/>
<circle cx="1132.51" cy="1348.52" r="2.5" fill="#000" stroke="none" stroke-width="1"/>
<circle cx="1127.82" cy="1336.99" r="2.5" fill="#000" stroke="none" stroke-width="1"/>
<rect x="1142" y="1409.49" width="14.8" height="33.41" fill="#f5141f" stroke="#000" stroke-width="2.5" />
<line x1="1149.4" y1="1413.1" x2="1149.4" y2="1405.88" stroke="#000" stroke-width="2" />
<line x1="1144.9" y1="1405.88" x2="1153.9" y2="1405.88" stroke="#000" stroke-width="2" />
<line x1="1144.9" y1="1413.1" x2="1153.9" y2="1413.1" stroke="#000" stroke-width="2" />
<circle cx="1146.64" cy="1428.45" r="2.5" fill="#000" stroke="none" stroke-width="1"/>
<circle cx="1151.8" cy="1414" r="2.5" fill="#000" stroke="none" stroke-width="1"/>
<circle cx="1148.6" cy="1408.59" r="2.5" fill="#000" stroke="none" stroke-width="1"/>
<circle cx="1152.58" cy="1402.27" r="2.5" fill="#000" stroke="none" stroke-width="1"/>
<circle cx="1149.41" cy="1400.46" r="2.5" fill="#000" stroke="none" stroke-width="1"/>
<line x1="1138.3" y1="1442.9" x2="1138.3" y2="1451.6" stroke="#000" stroke-width="3" />
<text x="1151.9" y="1461.4" font-size="22.2" text-anchor="end" fill="#000" transform="rotate(-45 1151.9 1461.4)" >L-cystathionine</text>
<rect x="1178.85" y="1352.6" width="14.8" height="90.3" fill="#fff" stroke="#000" stroke-width="2.5" />
<line x1="1186.25" y1="1362.53" x2="1186.25" y2="1342.67" stroke="#000" stroke-width="2" />
<line x1="1181.75" y1="1342.67" x2="1190.75" y2="1342.67" stroke="#000" stroke-width="2" />
<line x1="1181.75" y1="1362.53" x2="1190.75" y2="1362.53" stroke="#000" stroke-width="2" />
<circle cx="1182.57" cy="1379.55" r="2.5" fill="#000" stroke="none" stroke-width="1"/>
<circle cx="1188.89" cy="1363.81" r="2.5" fill="#000" stroke="none" stroke-width="1"/>
<circle cx="1185.9" cy="1355.87" r="2.5" fill="#000" stroke="none" stroke-width="1"/>
<circle cx="1190.44" cy="1350.03" r="2.5" fill="#000" stroke="none" stroke-width="1"/>
<circle cx="1187.04" cy="1314.75" r="2.5" fill="#000" stroke="none" stroke-width="1"/>
<rect x="1199.85" y="1419.42" width="14.8" height="23.48" fill="#f5141f" stroke="#000" stroke-width="2.5" />
<line x1="1207.25" y1="1423.03" x2="1207.25" y2="1415.81" stroke="#000" stroke-width="2" />
<line x1="1202.75" y1="1415.81" x2="1211.75" y2="1415.81" stroke="#000" stroke-width="2" />
<line x1="1202.75" y1="1423.03" x2="1211.75" y2="1423.03" stroke="#000" stroke-width="2" />
<circle cx="1203.21" cy="1433.87" r="2.5" fill="#000" stroke="none" stroke-width="1"/>
<circle cx="1210.33" cy="1424.84" r="2.5" fill="#000" stroke="none" stroke-width="1"/>
<circle cx="1206.99" cy="1418.52" r="2.5" fill="#000" stroke="none" stroke-width="1"/>
<circle cx="1211.4" cy="1415.81" r="2.5" fill="#000" stroke="none" stroke-width="1"/>
<circle cx="1207.36" cy="1406.78" r="2.5" fill="#000" stroke="none" stroke-width="1"/>
<line x1="1196.15" y1="1442.9" x2="1196.15" y2="1451.6" stroke="#000" stroke-width="3" />
<text x="1209.75" y="1461.4" font-size="22.2" text-anchor="end" fill="#000" transform="rotate(-45 1209.75 1461.4)" >Methionine sulfoxide</text>
<rect x="1236.7" y="1352.6" width="14.8" height="90.3" fill="#fff" stroke="#000" stroke-width="2.5" />
<line x1="1244.1" y1="1363.44" x2="1244.1" y2="1341.76" stroke="#000" stroke-width="2" />
<line x1="1239.6" y1="1341.76" x2="1248.6" y2="1341.76" stroke="#000" stroke-width="2" />
<line x1="1239.6" y1="1363.44" x2="1248.6" y2="1363.44" stroke="#000" stroke-width="2" />
<circle cx="1240.94" cy="1375.86" r="2.5" fill="#000" stroke="none" stroke-width="1"/>
<circle cx="1247.13" cy="1362.97" r="2.5" fill="#000" stroke="none" stroke-width="1"/>
<circle cx="1242.76" cy="1360.11" r="2.5" fill="#000" stroke="none" stroke-width="1"/>
<circle cx="1248.17" cy="1349.06" r="2.5" fill="#000" stroke="none" stroke-width="1"/>
<circle cx="1243.44" cy="1306.04" r="2.5" fill="#000" stroke="none" stroke-width="1"/>
<rect x="1257.7" y="1434.77" width="14.8" height="8.13" fill="#f5141f" stroke="#000" stroke-width="2.5" />
<line x1="1265.1" y1="1437.48" x2="1265.1" y2="1432.06" stroke="#000" stroke-width="2" />
<line x1="1260.6" y1="1432.06" x2="1269.6" y2="1432.06" stroke="#000" stroke-width="2" />
<line x1="1260.6" y1="1437.48" x2="1269.6" y2="1437.48" stroke="#000" stroke-width="2" />
<circle cx="1261.46" cy="1440.19" r="2.5" fill="#000" stroke="none" stroke-width="1"/>
<circle cx="1267.04" cy="1437.48" r="2.5" fill="#000" stroke="none" stroke-width="1"/>
<circle cx="1263.77" cy="1434.77" r="2.5" fill="#000" stroke="none" stroke-width="1"/>
<circle cx="1269.03" cy="1433.87" r="2.5" fill="#000" stroke="none" stroke-width="1"/>
<circle cx="1265.7" cy="1429.36" r="2.5" fill="#000" stroke="none" stroke-width="1"/>
<line x1="1254" y1="1442.9" x2="1254" y2="1451.6" stroke="#000" stroke-width="3" />
<text x="1267.6" y="1461.4" font-size="22.2" text-anchor="end" fill="#000" transform="rotate(-45 1267.6 1461.4)" >Hypotaurine</text>
<rect x="1294.55" y="1352.6" width="14.8" height="90.3" fill="#fff" stroke="#000" stroke-width="2.5" />
<line x1="1301.95" y1="1359.82" x2="1301.95" y2="1345.38" stroke="#000" stroke-width="2" />
<line x1="1297.45" y1="1345.38" x2="1306.45" y2="1345.38" stroke="#000" stroke-width="2" />
<line x1="1297.45" y1="1359.82" x2="1306.45" y2="1359.82" stroke="#000" stroke-width="2" />
<circle cx="1297.72" cy="1368.18" r="2.5" fill="#000" stroke="none" stroke-width="1"/>
<circle cx="1303.72" cy="1366.64" r="2.5" fill="#000" stroke="none" stroke-width="1"/>
<circle cx="1300.68" cy="1354.5" r="2.5" fill="#000" stroke="none" stroke-width="1"/>
<circle cx="1306.22" cy="1352.56" r="2.5" fill="#000" stroke="none" stroke-width="1"/>
<circle cx="1302.75" cy="1332.63" r="2.5" fill="#000" stroke="none" stroke-width="1"/>
<rect x="1315.55" y="1362.53" width="14.8" height="80.37" fill="#f5141f" stroke="#000" stroke-width="2.5" />
<line x1="1322.95" y1="1373.37" x2="1322.95" y2="1351.7" stroke="#000" stroke-width="2" />
<line x1="1318.45" y1="1351.7" x2="1327.45" y2="1351.7" stroke="#000" stroke-width="2" />
<line x1="1318.45" y1="1373.37" x2="1327.45" y2="1373.37" stroke="#000" stroke-width="2" />
<circle cx="1318.77" cy="1390.53" r="2.5" fill="#000" stroke="none" stroke-width="1"/>
<circle cx="1325.61" cy="1386.91" r="2.5" fill="#000" stroke="none" stroke-width="1"/>
<circle cx="1321.2" cy="1366.14" r="2.5" fill="#000" stroke="none" stroke-width="1"/>
<circle cx="1325.97" cy="1343.57" r="2.5" fill="#000" stroke="none" stroke-width="1"/>
<circle cx="1322.8" cy="1330.03" r="2.5" fill="#000" stroke="none" stroke-width="1"/>
<line x1="1311.85" y1="1442.9" x2="1311.85" y2="1451.6" stroke="#000" stroke-width="3" />
<text x="1325.45" y="1461.4" font-size="22.2" text-anchor="end" fill="#000" transform="rotate(-45 1325.45 1461.4)" >Taurine</text>
<rect x="1352.4" y="1352.6" width="14.8" height="90.3" fill="#fff" stroke="#000" stroke-width="2.5" />
<line x1="1359.8" y1="1370.66" x2="1359.8" y2="1334.54" stroke="#000" stroke-width="2" />
<line x1="1355.3" y1="1334.54" x2="1364.3" y2="1334.54" stroke="#000" stroke-width="2" />
<line x1="1355.3" y1="1370.66" x2="1364.3" y2="1370.66" stroke="#000" stroke-width="2" />
<circle cx="1356.48" cy="1390.21" r="2.5" fill="#000" stroke="none" stroke-width="1"/>
<circle cx="1361.57" cy="1375.97" r="2.5" fill="#000" stroke="none" stroke-width="1"/>
<circle cx="1358.5" cy="1369.88" r="2.5" fill="#000" stroke="none" stroke-width="1"/>
<circle cx="1363.93" cy="1335.6" r="2.5" fill="#000" stroke="none" stroke-width="1"/>
<circle cx="1359.74" cy="1290.05" r="2.5" fill="#000" stroke="none" stroke-width="1"/>
<rect x="1373.4" y="1343.57" width="14.8" height="99.33" fill="#f5141f" stroke="#000" stroke-width="2.5" />
<line x1="1380.8" y1="1369.76" x2="1380.8" y2="1317.38" stroke="#000" stroke-width="2" />
<line x1="1376.3" y1="1317.38" x2="1385.3" y2="1317.38" stroke="#000" stroke-width="2" />
<line x1="1376.3" y1="1369.76" x2="1385.3" y2="1369.76" stroke="#000" stroke-width="2" />
<circle cx="1377.53" cy="1404.97" r="2.5" fill="#000" stroke="none" stroke-width="1"/>
<circle cx="1383.45" cy="1395.94" r="2.5" fill="#000" stroke="none" stroke-width="1"/>
<circle cx="1379.89" cy="1358.92" r="2.5" fill="#000" stroke="none" stroke-width="1"/>
<circle cx="1384.49" cy="1286.68" r="2.5" fill="#000" stroke="none" stroke-width="1"/>
<circle cx="1381.5" cy="1276.75" r="2.5" fill="#000" stroke="none" stroke-width="1"/>
<line x1="1369.7" y1="1442.9" x2="1369.7" y2="1451.6" stroke="#000" stroke-width="3" />
<text x="1383.3" y="1461.4" font-size="22.2" text-anchor="end" fill="#000" transform="rotate(-45 1383.3 1461.4)" >S-Adenosyl-L-homocysteine</text>
<rect x="1410.25" y="1352.6" width="14.8" height="90.3" fill="#fff" stroke="#000" stroke-width="2.5" />
<line x1="1417.65" y1="1358.92" x2="1417.65" y2="1346.28" stroke="#000" stroke-width="2" />
<line x1="1413.15" y1="1346.28" x2="1422.15" y2="1346.28" stroke="#000" stroke-width="2" />
<line x1="1413.15" y1="1358.92" x2="1422.15" y2="1358.92" stroke="#000" stroke-width="2" />
<circle cx="1414.16" cy="1369.26" r="2.5" fill="#000" stroke="none" stroke-width="1"/>
<circle cx="1420.5" cy="1367.76" r="2.5" fill="#000" stroke="none" stroke-width="1"/>
<circle cx="1416.33" cy="1353.84" r="2.5" fill="#000" stroke="none" stroke-width="1"/>
<circle cx="1421.18" cy="1343.19" r="2.5" fill="#000" stroke="none" stroke-width="1"/>
<circle cx="1416.87" cy="1333.48" r="2.5" fill="#000" stroke="none" stroke-width="1"/>
<rect x="1431.25" y="1368.85" width="14.8" height="74.05" fill="#f5141f" stroke="#000" stroke-width="2.5" />
<line x1="1438.65" y1="1377.88" x2="1438.65" y2="1359.82" stroke="#000" stroke-width="2" />
<line x1="1434.15" y1="1359.82" x2="1443.15" y2="1359.82" stroke="#000" stroke-width="2" />
<line x1="1434.15" y1="1377.88" x2="1443.15" y2="1377.88" stroke="#000" stroke-width="2" />
<circle cx="1435.28" cy="1397.75" r="2.5" fill="#000" stroke="none" stroke-width="1"/>
<circle cx="1440.38" cy="1384.21" r="2.5" fill="#000" stroke="none" stroke-width="1"/>
<circle cx="1437.84" cy="1375.18" r="2.5" fill="#000" stroke="none" stroke-width="1"/>
<circle cx="1442.36" cy="1352.6" r="2.5" fill="#000" stroke="none" stroke-width="1"/>
<circle cx="1437.95" cy="1347.18" r="2.5" fill="#000" stroke="none" stroke-width="1"/>
<line x1="1427.55" y1="1442.9" x2="1427.55" y2="1451.6" stroke="#000" stroke-width="3" />
<text x="1441.15" y="1461.4" font-size="22.2" text-anchor="end" fill="#000" transform="rotate(-45 1441.15 1461.4)" >S-adenosyl-L-methionine</text>
<line x1="994" y1="1261.2" x2="994" y2="1444.1" stroke="#000" stroke-width="3.3" />
<line x1="992.8" y1="1442.9" x2="1459.9" y2="1442.9" stroke="#000" stroke-width="3.3" />
<line x1="985.2" y1="1442.9" x2="994" y2="1442.9" stroke="#000" stroke-width="3" />
<text x="983.5" y="1450.3" font-size="21" text-anchor="end" fill="#000" >0.0</text>
<line x1="985.2" y1="1397.75" x2="994" y2="1397.75" stroke="#000" stroke-width="3" />
<text x="983.5" y="1405.15" font-size="21" text-anchor="end" fill="#000" >0.5</text>
<line x1="985.2" y1="1352.6" x2="994" y2="1352.6" stroke="#000" stroke-width="3" />
<text x="983.5" y="1360" font-size="21" text-anchor="end" fill="#000" >1.0</text>
<line x1="985.2" y1="1307.45" x2="994" y2="1307.45" stroke="#000" stroke-width="3" />
<text x="983.5" y="1314.85" font-size="21" text-anchor="end" fill="#000" >1.5</text>
<line x1="985.2" y1="1262.3" x2="994" y2="1262.3" stroke="#000" stroke-width="3" />
<text x="983.5" y="1269.7" font-size="21" text-anchor="end" fill="#000" >2.0</text>
<text x="935.5" y="1367" font-size="21" text-anchor="middle" fill="#000" transform="rotate(-90 935.5 1367)" textLength="142.6" lengthAdjust="spacing" >Relative intensity</text>
<text x="1199.4" y="1249.6" font-size="25" text-anchor="middle" fill="#000" >One-carbon metabolism</text>
<text x="1033.1" y="1372.2" font-size="18" text-anchor="middle" fill="#e8143c" >*</text>
<text x="1149.2" y="1377.4" font-size="18" text-anchor="middle" fill="#e8143c" >*</text>
<text x="1207" y="1388" font-size="18" text-anchor="middle" fill="#e8143c" >*</text>
<text x="1263.4" y="1420" font-size="18" text-anchor="middle" fill="#e8143c" >*</text>
<rect x="1556.5" y="1417.55" width="12.2" height="20.75" fill="#fff" stroke="#000" stroke-width="2.5" />
<line x1="1562.6" y1="1419.62" x2="1562.6" y2="1415.47" stroke="#000" stroke-width="2" />
<line x1="1558.1" y1="1415.47" x2="1567.1" y2="1415.47" stroke="#000" stroke-width="2" />
<line x1="1558.1" y1="1419.62" x2="1567.1" y2="1419.62" stroke="#000" stroke-width="2" />
<circle cx="1558.68" cy="1423.72" r="2.5" fill="#000" stroke="none" stroke-width="1"/>
<circle cx="1564.89" cy="1419.47" r="2.5" fill="#000" stroke="none" stroke-width="1"/>
<circle cx="1561.8" cy="1418.27" r="2.5" fill="#000" stroke="none" stroke-width="1"/>
<circle cx="1565.32" cy="1414.86" r="2.5" fill="#000" stroke="none" stroke-width="1"/>
<circle cx="1562.21" cy="1412.91" r="2.5" fill="#000" stroke="none" stroke-width="1"/>
<rect x="1574.7" y="1410.29" width="12.2" height="28.01" fill="#f5141f" stroke="#000" stroke-width="2.5" />
<line x1="1580.8" y1="1415.47" x2="1580.8" y2="1405.1" stroke="#000" stroke-width="2" />
<line x1="1576.3" y1="1405.1" x2="1585.3" y2="1405.1" stroke="#000" stroke-width="2" />
<line x1="1576.3" y1="1415.47" x2="1585.3" y2="1415.47" stroke="#000" stroke-width="2" />
<circle cx="1578.09" cy="1423.77" r="2.5" fill="#000" stroke="none" stroke-width="1"/>
<circle cx="1583.25" cy="1417.55" r="2.5" fill="#000" stroke="none" stroke-width="1"/>
<circle cx="1580.34" cy="1413.4" r="2.5" fill="#000" stroke="none" stroke-width="1"/>
<circle cx="1584.26" cy="1411.33" r="2.5" fill="#000" stroke="none" stroke-width="1"/>
<circle cx="1581.02" cy="1389.54" r="2.5" fill="#000" stroke="none" stroke-width="1"/>
<line x1="1571.1" y1="1438.3" x2="1571.1" y2="1447" stroke="#000" stroke-width="3" />
<text x="1577.7" y="1458.3" font-size="21.7" text-anchor="end" fill="#000" transform="rotate(-45 1577.7 1458.3)" >GSH</text>
<rect x="1603.86" y="1417.55" width="12.2" height="20.75" fill="#fff" stroke="#000" stroke-width="2.5" />
<line x1="1609.96" y1="1420.66" x2="1609.96" y2="1414.44" stroke="#000" stroke-width="2" />
<line x1="1605.46" y1="1414.44" x2="1614.46" y2="1414.44" stroke="#000" stroke-width="2" />
<line x1="1605.46" y1="1420.66" x2="1614.46" y2="1420.66" stroke="#000" stroke-width="2" />
<circle cx="1605.9" cy="1427.81" r="2.5" fill="#000" stroke="none" stroke-width="1"/>
<circle cx="1613.05" cy="1421.67" r="2.5" fill="#000" stroke="none" stroke-width="1"/>
<circle cx="1609.35" cy="1417.27" r="2.5" fill="#000" stroke="none" stroke-width="1"/>
<circle cx="1612.76" cy="1415" r="2.5" fill="#000" stroke="none" stroke-width="1"/>
<circle cx="1610.11" cy="1405.63" r="2.5" fill="#000" stroke="none" stroke-width="1"/>
<rect x="1622.06" y="1424.19" width="12.2" height="14.11" fill="#f5141f" stroke="#000" stroke-width="2.5" />
<line x1="1628.16" y1="1426.68" x2="1628.16" y2="1421.7" stroke="#000" stroke-width="2" />
<line x1="1623.66" y1="1421.7" x2="1632.66" y2="1421.7" stroke="#000" stroke-width="2" />
<line x1="1623.66" y1="1426.68" x2="1632.66" y2="1426.68" stroke="#000" stroke-width="2" />
<circle cx="1623.91" cy="1432.08" r="2.5" fill="#000" stroke="none" stroke-width="1"/>
<circle cx="1631.24" cy="1427.92" r="2.5" fill="#000" stroke="none" stroke-width="1"/>
<circle cx="1627.12" cy="1423.77" r="2.5" fill="#000" stroke="none" stroke-width="1"/>
<circle cx="1632.01" cy="1419.62" r="2.5" fill="#000" stroke="none" stroke-width="1"/>
<circle cx="1628.77" cy="1412.98" r="2.5" fill="#000" stroke="none" stroke-width="1"/>
<line x1="1618.46" y1="1438.3" x2="1618.46" y2="1447" stroke="#000" stroke-width="3" />
<text x="1625.06" y="1458.3" font-size="21.7" text-anchor="end" fill="#000" transform="rotate(-45 1625.06 1458.3)" >GSSG</text>
<rect x="1651.22" y="1417.55" width="12.2" height="20.75" fill="#fff" stroke="#000" stroke-width="2.5" />
<line x1="1657.32" y1="1420.04" x2="1657.32" y2="1415.06" stroke="#000" stroke-width="2" />
<line x1="1652.82" y1="1415.06" x2="1661.82" y2="1415.06" stroke="#000" stroke-width="2" />
<line x1="1652.82" y1="1420.04" x2="1661.82" y2="1420.04" stroke="#000" stroke-width="2" />
<circle cx="1654.16" cy="1427.58" r="2.5" fill="#000" stroke="none" stroke-width="1"/>
<circle cx="1659.65" cy="1419.18" r="2.5" fill="#000" stroke="none" stroke-width="1"/>
<circle cx="1656.23" cy="1416.83" r="2.5" fill="#000" stroke="none" stroke-width="1"/>
<circle cx="1661.43" cy="1416.21" r="2.5" fill="#000" stroke="none" stroke-width="1"/>
<circle cx="1656.74" cy="1413.96" r="2.5" fill="#000" stroke="none" stroke-width="1"/>
<rect x="1669.42" y="1388.5" width="12.2" height="49.8" fill="#f5141f" stroke="#000" stroke-width="2.5" />
<line x1="1675.52" y1="1409.25" x2="1675.52" y2="1367.75" stroke="#000" stroke-width="2" />
<line x1="1671.02" y1="1367.75" x2="1680.02" y2="1367.75" stroke="#000" stroke-width="2" />
<line x1="1671.02" y1="1409.25" x2="1680.02" y2="1409.25" stroke="#000" stroke-width="2" />
<circle cx="1672.76" cy="1417.55" r="2.5" fill="#000" stroke="none" stroke-width="1"/>
<circle cx="1677.92" cy="1413.4" r="2.5" fill="#000" stroke="none" stroke-width="1"/>
<circle cx="1674.72" cy="1411.33" r="2.5" fill="#000" stroke="none" stroke-width="1"/>
<circle cx="1678.7" cy="1386.42" r="2.5" fill="#000" stroke="none" stroke-width="1"/>
<circle cx="1675.53" cy="1307.58" r="2.5" fill="#000" stroke="none" stroke-width="1"/>
<line x1="1665.82" y1="1438.3" x2="1665.82" y2="1447" stroke="#000" stroke-width="3" />
<text x="1672.42" y="1458.3" font-size="21.7" text-anchor="end" fill="#000" transform="rotate(-45 1672.42 1458.3)" >GSH/GSSG</text>
<rect x="1698.58" y="1417.55" width="12.2" height="20.75" fill="#fff" stroke="#000" stroke-width="2.5" />
<line x1="1704.68" y1="1419.62" x2="1704.68" y2="1415.47" stroke="#000" stroke-width="2" />
<line x1="1700.18" y1="1415.47" x2="1709.18" y2="1415.47" stroke="#000" stroke-width="2" />
<line x1="1700.18" y1="1419.62" x2="1709.18" y2="1419.62" stroke="#000" stroke-width="2" />
<circle cx="1701" cy="1423.95" r="2.5" fill="#000" stroke="none" stroke-width="1"/>
<circle cx="1707.32" cy="1419.5" r="2.5" fill="#000" stroke="none" stroke-width="1"/>
<circle cx="1704.33" cy="1417.25" r="2.5" fill="#000" stroke="none" stroke-width="1"/>
<circle cx="1708.87" cy="1414.82" r="2.5" fill="#000" stroke="none" stroke-width="1"/>
<circle cx="1705.47" cy="1412.01" r="2.5" fill="#000" stroke="none" stroke-width="1"/>
<rect x="1716.78" y="1406.14" width="12.2" height="32.16" fill="#f5141f" stroke="#000" stroke-width="2.5" />
<line x1="1722.88" y1="1413.4" x2="1722.88" y2="1398.88" stroke="#000" stroke-width="2" />
<line x1="1718.38" y1="1398.88" x2="1727.38" y2="1398.88" stroke="#000" stroke-width="2" />
<line x1="1718.38" y1="1413.4" x2="1727.38" y2="1413.4" stroke="#000" stroke-width="2" />
<circle cx="1718.84" cy="1419.62" r="2.5" fill="#000" stroke="none" stroke-width="1"/>
<circle cx="1725.96" cy="1415.47" r="2.5" fill="#000" stroke="none" stroke-width="1"/>
<circle cx="1722.62" cy="1411.33" r="2.5" fill="#000" stroke="none" stroke-width="1"/>
<circle cx="1727.03" cy="1409.25" r="2.5" fill="#000" stroke="none" stroke-width="1"/>
<circle cx="1722.99" cy="1375.01" r="2.5" fill="#000" stroke="none" stroke-width="1"/>
<line x1="1713.18" y1="1438.3" x2="1713.18" y2="1447" stroke="#000" stroke-width="3" />
<text x="1719.78" y="1458.3" font-size="21.7" text-anchor="end" fill="#000" transform="rotate(-45 1719.78 1458.3)" >Citrate</text>
<rect x="1745.94" y="1417.55" width="12.2" height="20.75" fill="#fff" stroke="#000" stroke-width="2.5" />
<line x1="1752.04" y1="1419.62" x2="1752.04" y2="1415.47" stroke="#000" stroke-width="2" />
<line x1="1747.54" y1="1415.47" x2="1756.54" y2="1415.47" stroke="#000" stroke-width="2" />
<line x1="1747.54" y1="1419.62" x2="1756.54" y2="1419.62" stroke="#000" stroke-width="2" />
<circle cx="1748.88" cy="1424.11" r="2.5" fill="#000" stroke="none" stroke-width="1"/>
<circle cx="1755.07" cy="1419.52" r="2.5" fill="#000" stroke="none" stroke-width="1"/>
<circle cx="1750.7" cy="1418.27" r="2.5" fill="#000" stroke="none" stroke-width="1"/>
<circle cx="1756.11" cy="1414.58" r="2.5" fill="#000" stroke="none" stroke-width="1"/>
<circle cx="1751.38" cy="1411.74" r="2.5" fill="#000" stroke="none" stroke-width="1"/>
<rect x="1764.14" y="1411.33" width="12.2" height="26.98" fill="#f5141f" stroke="#000" stroke-width="2.5" />
<line x1="1770.24" y1="1418.17" x2="1770.24" y2="1404.48" stroke="#000" stroke-width="2" />
<line x1="1765.74" y1="1404.48" x2="1774.74" y2="1404.48" stroke="#000" stroke-width="2" />
<line x1="1765.74" y1="1418.17" x2="1774.74" y2="1418.17" stroke="#000" stroke-width="2" />
<circle cx="1766.6" cy="1432.08" r="2.5" fill="#000" stroke="none" stroke-width="1"/>
<circle cx="1772.18" cy="1419.62" r="2.5" fill="#000" stroke="none" stroke-width="1"/>
<circle cx="1768.91" cy="1411.33" r="2.5" fill="#000" stroke="none" stroke-width="1"/>
<circle cx="1774.17" cy="1407.17" r="2.5" fill="#000" stroke="none" stroke-width="1"/>
<circle cx="1770.84" cy="1389.95" r="2.5" fill="#000" stroke="none" stroke-width="1"/>
<line x1="1760.54" y1="1438.3" x2="1760.54" y2="1447" stroke="#000" stroke-width="3" />
<text x="1767.14" y="1458.3" font-size="21.7" text-anchor="end" fill="#000" transform="rotate(-45 1767.14 1458.3)" >α-KG</text>
<rect x="1793.3" y="1417.55" width="12.2" height="20.75" fill="#fff" stroke="#000" stroke-width="2.5" />
<line x1="1799.4" y1="1419.62" x2="1799.4" y2="1415.47" stroke="#000" stroke-width="2" />
<line x1="1794.9" y1="1415.47" x2="1803.9" y2="1415.47" stroke="#000" stroke-width="2" />
<line x1="1794.9" y1="1419.62" x2="1803.9" y2="1419.62" stroke="#000" stroke-width="2" />
<circle cx="1795.17" cy="1423.64" r="2.5" fill="#000" stroke="none" stroke-width="1"/>
<circle cx="1801.17" cy="1419.3" r="2.5" fill="#000" stroke="none" stroke-width="1"/>
<circle cx="1798.13" cy="1416.92" r="2.5" fill="#000" stroke="none" stroke-width="1"/>
<circle cx="1803.67" cy="1415.47" r="2.5" fill="#000" stroke="none" stroke-width="1"/>
<circle cx="1800.2" cy="1412.76" r="2.5" fill="#000" stroke="none" stroke-width="1"/>
<rect x="1811.5" y="1405.1" width="12.2" height="33.2" fill="#f5141f" stroke="#000" stroke-width="2.5" />
<line x1="1817.6" y1="1418.59" x2="1817.6" y2="1391.61" stroke="#000" stroke-width="2" />
<line x1="1813.1" y1="1391.61" x2="1822.1" y2="1391.61" stroke="#000" stroke-width="2" />
<line x1="1813.1" y1="1418.59" x2="1822.1" y2="1418.59" stroke="#000" stroke-width="2" />
<circle cx="1813.42" cy="1423.77" r="2.5" fill="#000" stroke="none" stroke-width="1"/>
<circle cx="1820.26" cy="1419.62" r="2.5" fill="#000" stroke="none" stroke-width="1"/>
<circle cx="1815.85" cy="1417.55" r="2.5" fill="#000" stroke="none" stroke-width="1"/>
<circle cx="1820.62" cy="1411.33" r="2.5" fill="#000" stroke="none" stroke-width="1"/>
<circle cx="1817.45" cy="1353.22" r="2.5" fill="#000" stroke="none" stroke-width="1"/>
<line x1="1807.9" y1="1438.3" x2="1807.9" y2="1447" stroke="#000" stroke-width="3" />
<text x="1814.5" y="1458.3" font-size="21.7" text-anchor="end" fill="#000" transform="rotate(-45 1814.5 1458.3)" >Citrate/α-KG</text>
<rect x="1840.66" y="1417.55" width="12.2" height="20.75" fill="#fff" stroke="#000" stroke-width="2.5" />
<line x1="1846.76" y1="1419.62" x2="1846.76" y2="1415.47" stroke="#000" stroke-width="2" />
<line x1="1842.26" y1="1415.47" x2="1851.26" y2="1415.47" stroke="#000" stroke-width="2" />
<line x1="1842.26" y1="1419.62" x2="1851.26" y2="1419.62" stroke="#000" stroke-width="2" />
<circle cx="1843.44" cy="1424.17" r="2.5" fill="#000" stroke="none" stroke-width="1"/>
<circle cx="1848.53" cy="1419.08" r="2.5" fill="#000" stroke="none" stroke-width="1"/>
<circle cx="1845.46" cy="1416.79" r="2.5" fill="#000" stroke="none" stroke-width="1"/>
<circle cx="1850.89" cy="1415.7" r="2.5" fill="#000" stroke="none" stroke-width="1"/>
<circle cx="1846.7" cy="1412.32" r="2.5" fill="#000" stroke="none" stroke-width="1"/>
<rect x="1858.86" y="1414.44" width="12.2" height="23.86" fill="#f5141f" stroke="#000" stroke-width="2.5" />
<line x1="1864.96" y1="1418.59" x2="1864.96" y2="1410.29" stroke="#000" stroke-width="2" />
<line x1="1860.46" y1="1410.29" x2="1869.46" y2="1410.29" stroke="#000" stroke-width="2" />
<line x1="1860.46" y1="1418.59" x2="1869.46" y2="1418.59" stroke="#000" stroke-width="2" />
<circle cx="1861.69" cy="1427.92" r="2.5" fill="#000" stroke="none" stroke-width="1"/>
<circle cx="1867.61" cy="1417.55" r="2.5" fill="#000" stroke="none" stroke-width="1"/>
<circle cx="1864.05" cy="1413.4" r="2.5" fill="#000" stroke="none" stroke-width="1"/>
<circle cx="1868.65" cy="1411.33" r="2.5" fill="#000" stroke="none" stroke-width="1"/>
<circle cx="1865.66" cy="1404.06" r="2.5" fill="#000" stroke="none" stroke-width="1"/>
<line x1="1855.26" y1="1438.3" x2="1855.26" y2="1447" stroke="#000" stroke-width="3" />
<text x="1861.86" y="1458.3" font-size="21.7" text-anchor="end" fill="#000" transform="rotate(-45 1861.86 1458.3)" >Pyruvate</text>
<rect x="1888.02" y="1417.55" width="12.2" height="20.75" fill="#fff" stroke="#000" stroke-width="2.5" />
<line x1="1894.12" y1="1419.62" x2="1894.12" y2="1415.47" stroke="#000" stroke-width="2" />
<line x1="1889.62" y1="1415.47" x2="1898.62" y2="1415.47" stroke="#000" stroke-width="2" />
<line x1="1889.62" y1="1419.62" x2="1898.62" y2="1419.62" stroke="#000" stroke-width="2" />
<circle cx="1890.63" cy="1423.85" r="2.5" fill="#000" stroke="none" stroke-width="1"/>
<circle cx="1896.97" cy="1420.02" r="2.5" fill="#000" stroke="none" stroke-width="1"/>
<circle cx="1892.8" cy="1416.76" r="2.5" fill="#000" stroke="none" stroke-width="1"/>
<circle cx="1897.65" cy="1415.39" r="2.5" fill="#000" stroke="none" stroke-width="1"/>
<circle cx="1893.34" cy="1412.54" r="2.5" fill="#000" stroke="none" stroke-width="1"/>
<rect x="1906.22" y="1417.55" width="12.2" height="20.75" fill="#f5141f" stroke="#000" stroke-width="2.5" />
<line x1="1912.32" y1="1419.62" x2="1912.32" y2="1415.47" stroke="#000" stroke-width="2" />
<line x1="1907.82" y1="1415.47" x2="1916.82" y2="1415.47" stroke="#000" stroke-width="2" />
<line x1="1907.82" y1="1419.62" x2="1916.82" y2="1419.62" stroke="#000" stroke-width="2" />
<circle cx="1908.95" cy="1423.77" r="2.5" fill="#000" stroke="none" stroke-width="1"/>
<circle cx="1914.05" cy="1419.62" r="2.5" fill="#000" stroke="none" stroke-width="1"/>
<circle cx="1911.51" cy="1417.55" r="2.5" fill="#000" stroke="none" stroke-width="1"/>
<circle cx="1916.03" cy="1415.47" r="2.5" fill="#000" stroke="none" stroke-width="1"/>
<circle cx="1911.62" cy="1407.17" r="2.5" fill="#000" stroke="none" stroke-width="1"/>
<line x1="1902.62" y1="1438.3" x2="1902.62" y2="1447" stroke="#000" stroke-width="3" />
<text x="1909.22" y="1458.3" font-size="21.7" text-anchor="end" fill="#000" transform="rotate(-45 1909.22 1458.3)" >Lactate</text>
<rect x="1935.38" y="1417.55" width="12.2" height="20.75" fill="#fff" stroke="#000" stroke-width="2.5" />
<line x1="1941.48" y1="1419.62" x2="1941.48" y2="1415.47" stroke="#000" stroke-width="2" />
<line x1="1936.98" y1="1415.47" x2="1945.98" y2="1415.47" stroke="#000" stroke-width="2" />
<line x1="1936.98" y1="1419.62" x2="1945.98" y2="1419.62" stroke="#000" stroke-width="2" />
<circle cx="1938.18" cy="1423.81" r="2.5" fill="#000" stroke="none" stroke-width="1"/>
<circle cx="1944.27" cy="1419.85" r="2.5" fill="#000" stroke="none" stroke-width="1"/>
<circle cx="1940.81" cy="1417.15" r="2.5" fill="#000" stroke="none" stroke-width="1"/>
<circle cx="1944.22" cy="1416.28" r="2.5" fill="#000" stroke="none" stroke-width="1"/>
<circle cx="1941.76" cy="1411.4" r="2.5" fill="#000" stroke="none" stroke-width="1"/>
<rect x="1953.58" y="1414.44" width="12.2" height="23.86" fill="#f5141f" stroke="#000" stroke-width="2.5" />
<line x1="1959.68" y1="1416.51" x2="1959.68" y2="1412.36" stroke="#000" stroke-width="2" />
<line x1="1955.18" y1="1412.36" x2="1964.18" y2="1412.36" stroke="#000" stroke-width="2" />
<line x1="1955.18" y1="1416.51" x2="1964.18" y2="1416.51" stroke="#000" stroke-width="2" />
<circle cx="1955.78" cy="1423.77" r="2.5" fill="#000" stroke="none" stroke-width="1"/>
<circle cx="1962.11" cy="1417.55" r="2.5" fill="#000" stroke="none" stroke-width="1"/>
<circle cx="1958.83" cy="1414.44" r="2.5" fill="#000" stroke="none" stroke-width="1"/>
<circle cx="1962.89" cy="1412.36" r="2.5" fill="#000" stroke="none" stroke-width="1"/>
<circle cx="1959.46" cy="1406.14" r="2.5" fill="#000" stroke="none" stroke-width="1"/>
<line x1="1949.98" y1="1438.3" x2="1949.98" y2="1447" stroke="#000" stroke-width="3" />
<text x="1956.58" y="1458.3" font-size="21.7" text-anchor="end" fill="#000" transform="rotate(-45 1956.58 1458.3)" >Pyruvate/Lactate</text>
<line x1="1548.8" y1="1271.1" x2="1548.8" y2="1439.5" stroke="#000" stroke-width="3.3" />
<line x1="1547.6" y1="1438.3" x2="1972.3" y2="1438.3" stroke="#000" stroke-width="3.3" />
<line x1="1540" y1="1438.3" x2="1548.8" y2="1438.3" stroke="#000" stroke-width="3" />
<text x="1535.8" y="1445.7" font-size="21" text-anchor="end" fill="#000" >0</text>
<line x1="1540" y1="1396.8" x2="1548.8" y2="1396.8" stroke="#000" stroke-width="3" />
<text x="1535.8" y="1404.2" font-size="21" text-anchor="end" fill="#000" >2</text>
<line x1="1540" y1="1355.3" x2="1548.8" y2="1355.3" stroke="#000" stroke-width="3" />
<text x="1535.8" y="1362.7" font-size="21" text-anchor="end" fill="#000" >4</text>
<line x1="1540" y1="1313.8" x2="1548.8" y2="1313.8" stroke="#000" stroke-width="3" />
<text x="1535.8" y="1321.2" font-size="21" text-anchor="end" fill="#000" >6</text>
<line x1="1540" y1="1272.3" x2="1548.8" y2="1272.3" stroke="#000" stroke-width="3" />
<text x="1535.8" y="1279.7" font-size="21" text-anchor="end" fill="#000" >8</text>
<text x="1512.5" y="1346.5" font-size="21" text-anchor="middle" fill="#000" transform="rotate(-90 1512.5 1346.5)" textLength="146" lengthAdjust="spacing" >Relative intensity</text>
<text x="1778.9" y="1251.4" font-size="25" text-anchor="middle" fill="#000" >Redox Balance</text>
<text x="18.5" y="1702" font-size="30" text-anchor="start" fill="#000" font-weight="bold" >f</text>
<line x1="172.54" y1="1913.94" x2="172.54" y2="1880.89" stroke="#000" stroke-width="2" />
<line x1="168.54" y1="1913.94" x2="176.54" y2="1913.94" stroke="#000" stroke-width="2" />
<line x1="168.54" y1="1880.89" x2="176.54" y2="1880.89" stroke="#000" stroke-width="2" />
<line x1="188.08" y1="1935" x2="188.08" y2="1871.33" stroke="#000" stroke-width="2" />
<line x1="184.08" y1="1935" x2="192.08" y2="1935" stroke="#000" stroke-width="2" />
<line x1="184.08" y1="1871.33" x2="192.08" y2="1871.33" stroke="#000" stroke-width="2" />
<line x1="219.16" y1="1928.19" x2="219.16" y2="1882.02" stroke="#000" stroke-width="2" />
<line x1="215.16" y1="1928.19" x2="223.16" y2="1928.19" stroke="#000" stroke-width="2" />
<line x1="215.16" y1="1882.02" x2="223.16" y2="1882.02" stroke="#000" stroke-width="2" />
<line x1="265.78" y1="1916.37" x2="265.78" y2="1815.28" stroke="#000" stroke-width="2" />
<line x1="261.78" y1="1916.37" x2="269.78" y2="1916.37" stroke="#000" stroke-width="2" />
<line x1="261.78" y1="1815.28" x2="269.78" y2="1815.28" stroke="#000" stroke-width="2" />
<line x1="312.4" y1="1897.25" x2="312.4" y2="1813.17" stroke="#000" stroke-width="2" />
<line x1="308.4" y1="1897.25" x2="316.4" y2="1897.25" stroke="#000" stroke-width="2" />
<line x1="308.4" y1="1813.17" x2="316.4" y2="1813.17" stroke="#000" stroke-width="2" />
<line x1="374.56" y1="1915.07" x2="374.56" y2="1848.98" stroke="#000" stroke-width="2" />
<line x1="370.56" y1="1915.07" x2="378.56" y2="1915.07" stroke="#000" stroke-width="2" />
<line x1="370.56" y1="1848.98" x2="378.56" y2="1848.98" stroke="#000" stroke-width="2" />
<line x1="421.18" y1="1932.24" x2="421.18" y2="1879.27" stroke="#000" stroke-width="2" />
<line x1="417.18" y1="1932.24" x2="425.18" y2="1932.24" stroke="#000" stroke-width="2" />
<line x1="417.18" y1="1879.27" x2="425.18" y2="1879.27" stroke="#000" stroke-width="2" />
<line x1="483.34" y1="1938.24" x2="483.34" y2="1886.4" stroke="#000" stroke-width="2" />
<line x1="479.34" y1="1938.24" x2="487.34" y2="1938.24" stroke="#000" stroke-width="2" />
<line x1="479.34" y1="1886.4" x2="487.34" y2="1886.4" stroke="#000" stroke-width="2" />
<polyline points="157,1792.6 172.54,1897.25 188.08,1903.89 219.16,1905.51 265.78,1866.15 312.4,1856.27 374.56,1882.51 421.18,1905.51 483.34,1912.48" fill="none" stroke="#000" stroke-width="3" />
<circle cx="157" cy="1792.6" r="4.7" fill="#000" stroke="none" stroke-width="1"/>
<circle cx="172.54" cy="1897.25" r="4.7" fill="#000" stroke="none" stroke-width="1"/>
<circle cx="188.08" cy="1903.89" r="4.7" fill="#000" stroke="none" stroke-width="1"/>
<circle cx="219.16" cy="1905.51" r="4.7" fill="#000" stroke="none" stroke-width="1"/>
<circle cx="265.78" cy="1866.15" r="4.7" fill="#000" stroke="none" stroke-width="1"/>
<circle cx="312.4" cy="1856.27" r="4.7" fill="#000" stroke="none" stroke-width="1"/>
<circle cx="374.56" cy="1882.51" r="4.7" fill="#000" stroke="none" stroke-width="1"/>
<circle cx="421.18" cy="1905.51" r="4.7" fill="#000" stroke="none" stroke-width="1"/>
<circle cx="483.34" cy="1912.48" r="4.7" fill="#000" stroke="none" stroke-width="1"/>
<line x1="157.9" y1="1710.4" x2="157.9" y2="1955.8" stroke="#000" stroke-width="3.3" />
<line x1="156.7" y1="1954.6" x2="484.5" y2="1954.6" stroke="#000" stroke-width="3.3" />
<line x1="149.1" y1="1954.6" x2="157.9" y2="1954.6" stroke="#000" stroke-width="3" />
<text x="147.5" y="1962.1" font-size="21.3" text-anchor="end" fill="#000" >0.0</text>
<line x1="149.1" y1="1873.6" x2="157.9" y2="1873.6" stroke="#000" stroke-width="3" />
<text x="147.5" y="1881.1" font-size="21.3" text-anchor="end" fill="#000" >0.5</text>
<line x1="149.1" y1="1792.6" x2="157.9" y2="1792.6" stroke="#000" stroke-width="3" />
<text x="147.5" y="1800.1" font-size="21.3" text-anchor="end" fill="#000" >1.0</text>
<line x1="149.1" y1="1711.6" x2="157.9" y2="1711.6" stroke="#000" stroke-width="3" />
<text x="147.5" y="1719.1" font-size="21.3" text-anchor="end" fill="#000" >1.5</text>
<line x1="157" y1="1954.6" x2="157" y2="1963.4" stroke="#000" stroke-width="3" />
<text x="157" y="1980" font-size="21.3" text-anchor="middle" fill="#000" >0</text>
<line x1="265.78" y1="1954.6" x2="265.78" y2="1963.4" stroke="#000" stroke-width="3" />
<text x="265.78" y="1980" font-size="21.3" text-anchor="middle" fill="#000" >7</text>
<line x1="374.56" y1="1954.6" x2="374.56" y2="1963.4" stroke="#000" stroke-width="3" />
<text x="374.56" y="1980" font-size="21.3" text-anchor="middle" fill="#000" >14</text>
<line x1="483.34" y1="1954.6" x2="483.34" y2="1963.4" stroke="#000" stroke-width="3" />
<text x="483.34" y="1980" font-size="21.3" text-anchor="middle" fill="#000" >21</text>
<text x="317.6" y="2011" font-size="21.3" text-anchor="middle" fill="#000" >Days</text>
<text x="104.5" y="1810.7" font-size="21.3" text-anchor="middle" fill="#000" transform="rotate(-90 104.5 1810.7)" textLength="155.6" lengthAdjust="spacing" >Relative intensity</text>
<text x="332" y="1689.7" font-size="25" text-anchor="middle" fill="#000" >2-keto-4-methylthiobutyrate</text>
<text x="173.97" y="1868.86" font-size="18" text-anchor="middle" fill="#e8143c" >*</text>
<text x="188.72" y="1868.86" font-size="18" text-anchor="middle" fill="#e8143c" >*</text>
<text x="219.58" y="1872.95" font-size="18" text-anchor="middle" fill="#e8143c" >*</text>
<text x="264.37" y="1812.87" font-size="18" text-anchor="middle" fill="#e8143c" >*</text>
<text x="310.53" y="1800.58" font-size="18" text-anchor="middle" fill="#e8143c" >*</text>
<text x="372.8" y="1847.83" font-size="18" text-anchor="middle" fill="#e8143c" >*</text>
<text x="419.77" y="1855.75" font-size="18" text-anchor="middle" fill="#e8143c" >*</text>
<text x="481.77" y="1866.67" font-size="18" text-anchor="middle" fill="#e8143c" >*</text>
<line x1="628" y1="1844.31" x2="628" y2="1747.35" stroke="#000" stroke-width="2" />
<line x1="624" y1="1844.31" x2="632" y2="1844.31" stroke="#000" stroke-width="2" />
<line x1="624" y1="1747.35" x2="632" y2="1747.35" stroke="#000" stroke-width="2" />
<line x1="644" y1="1921.25" x2="644" y2="1870.25" stroke="#000" stroke-width="2" />
<line x1="640" y1="1921.25" x2="648" y2="1921.25" stroke="#000" stroke-width="2" />
<line x1="640" y1="1870.25" x2="648" y2="1870.25" stroke="#000" stroke-width="2" />
<line x1="676" y1="1942.02" x2="676" y2="1909.21" stroke="#000" stroke-width="2" />
<line x1="672" y1="1942.02" x2="680" y2="1942.02" stroke="#000" stroke-width="2" />
<line x1="672" y1="1909.21" x2="680" y2="1909.21" stroke="#000" stroke-width="2" />
<line x1="724" y1="1956.64" x2="724" y2="1903.31" stroke="#000" stroke-width="2" />
<line x1="720" y1="1956.64" x2="728" y2="1956.64" stroke="#000" stroke-width="2" />
<line x1="720" y1="1903.31" x2="728" y2="1903.31" stroke="#000" stroke-width="2" />
<line x1="772" y1="1945.34" x2="772" y2="1931.33" stroke="#000" stroke-width="2" />
<line x1="768" y1="1945.34" x2="776" y2="1945.34" stroke="#000" stroke-width="2" />
<line x1="768" y1="1931.33" x2="776" y2="1931.33" stroke="#000" stroke-width="2" />
<line x1="948" y1="1947.18" x2="948" y2="1933.05" stroke="#000" stroke-width="2" />
<line x1="944" y1="1947.18" x2="952" y2="1947.18" stroke="#000" stroke-width="2" />
<line x1="944" y1="1933.05" x2="952" y2="1933.05" stroke="#000" stroke-width="2" />
<polyline points="612,1827.6 628,1796.14 644,1896.67 676,1926.17 724,1928.87 772,1938.46 836,1943.99 884,1943.99 948,1940.42" fill="none" stroke="#000" stroke-width="3" />
<circle cx="612" cy="1827.6" r="4.7" fill="#000" stroke="none" stroke-width="1"/>
<circle cx="628" cy="1796.14" r="4.7" fill="#000" stroke="none" stroke-width="1"/>
<circle cx="644" cy="1896.67" r="4.7" fill="#000" stroke="none" stroke-width="1"/>
<circle cx="676" cy="1926.17" r="4.7" fill="#000" stroke="none" stroke-width="1"/>
<circle cx="724" cy="1928.87" r="4.7" fill="#000" stroke="none" stroke-width="1"/>
<circle cx="772" cy="1938.46" r="4.7" fill="#000" stroke="none" stroke-width="1"/>
<circle cx="836" cy="1943.99" r="4.7" fill="#000" stroke="none" stroke-width="1"/>
<circle cx="884" cy="1943.99" r="4.7" fill="#000" stroke="none" stroke-width="1"/>
<circle cx="948" cy="1940.42" r="4.7" fill="#000" stroke="none" stroke-width="1"/>
<line x1="612" y1="1703.5" x2="612" y2="2013.2" stroke="#000" stroke-width="3.3" />
<line x1="603.8" y1="1950.5" x2="950.6" y2="1950.5" stroke="#000" stroke-width="2.6" />
<line x1="603" y1="2011.95" x2="612" y2="2011.95" stroke="#000" stroke-width="3" />
<text x="598.9" y="2019.45" font-size="21.3" text-anchor="end" fill="#000" letter-spacing="0.9">-0.5</text>
<line x1="603" y1="1950.5" x2="612" y2="1950.5" stroke="#000" stroke-width="3" />
<text x="595.6" y="1958" font-size="21.3" text-anchor="end" fill="#000" >0.0</text>
<line x1="603" y1="1889.05" x2="612" y2="1889.05" stroke="#000" stroke-width="3" />
<text x="595.6" y="1896.55" font-size="21.3" text-anchor="end" fill="#000" >0.5</text>
<line x1="603" y1="1827.6" x2="612" y2="1827.6" stroke="#000" stroke-width="3" />
<text x="595.6" y="1835.1" font-size="21.3" text-anchor="end" fill="#000" >1.0</text>
<line x1="603" y1="1766.15" x2="612" y2="1766.15" stroke="#000" stroke-width="3" />
<text x="595.6" y="1773.65" font-size="21.3" text-anchor="end" fill="#000" >1.5</text>
<line x1="603" y1="1704.7" x2="612" y2="1704.7" stroke="#000" stroke-width="3" />
<text x="595.6" y="1712.2" font-size="21.3" text-anchor="end" fill="#000" >2.0</text>
<line x1="724" y1="1950.5" x2="724" y2="1959.3" stroke="#000" stroke-width="3" />
<text x="724" y="1976.5" font-size="21.3" text-anchor="middle" fill="#000" >7</text>
<line x1="836" y1="1950.5" x2="836" y2="1959.3" stroke="#000" stroke-width="3" />
<text x="836" y="1976.5" font-size="21.3" text-anchor="middle" fill="#000" >14</text>
<line x1="948" y1="1950.5" x2="948" y2="1959.3" stroke="#000" stroke-width="3" />
<text x="948" y="1976.5" font-size="21.3" text-anchor="middle" fill="#000" >21</text>
<text x="773.9" y="2012" font-size="21.3" text-anchor="middle" fill="#000" >Days</text>
<text x="552.5" y="1823" font-size="21.3" text-anchor="middle" fill="#000" transform="rotate(-90 552.5 1823)" textLength="155.7" lengthAdjust="spacing" >Relative intensity</text>
<text x="762" y="1688.6" font-size="25" text-anchor="middle" fill="#000" >Hypotaurine</text>
<text x="643.38" y="1852.47" font-size="18" text-anchor="middle" fill="#e8143c" >*</text>
<text x="674.25" y="1893.44" font-size="18" text-anchor="middle" fill="#e8143c" >*</text>
<text x="721.49" y="1893.44" font-size="18" text-anchor="middle" fill="#e8143c" >*</text>
<text x="769.29" y="1910.64" font-size="18" text-anchor="middle" fill="#e8143c" >*</text>
<text x="836.47" y="1926.76" font-size="18" text-anchor="middle" fill="#e8143c" >*</text>
<text x="882.63" y="1924.3" font-size="18" text-anchor="middle" fill="#e8143c" >*</text>
<text x="942.44" y="1909.82" font-size="18" text-anchor="middle" fill="#e8143c" >*</text>
</svg>
</body></html>
